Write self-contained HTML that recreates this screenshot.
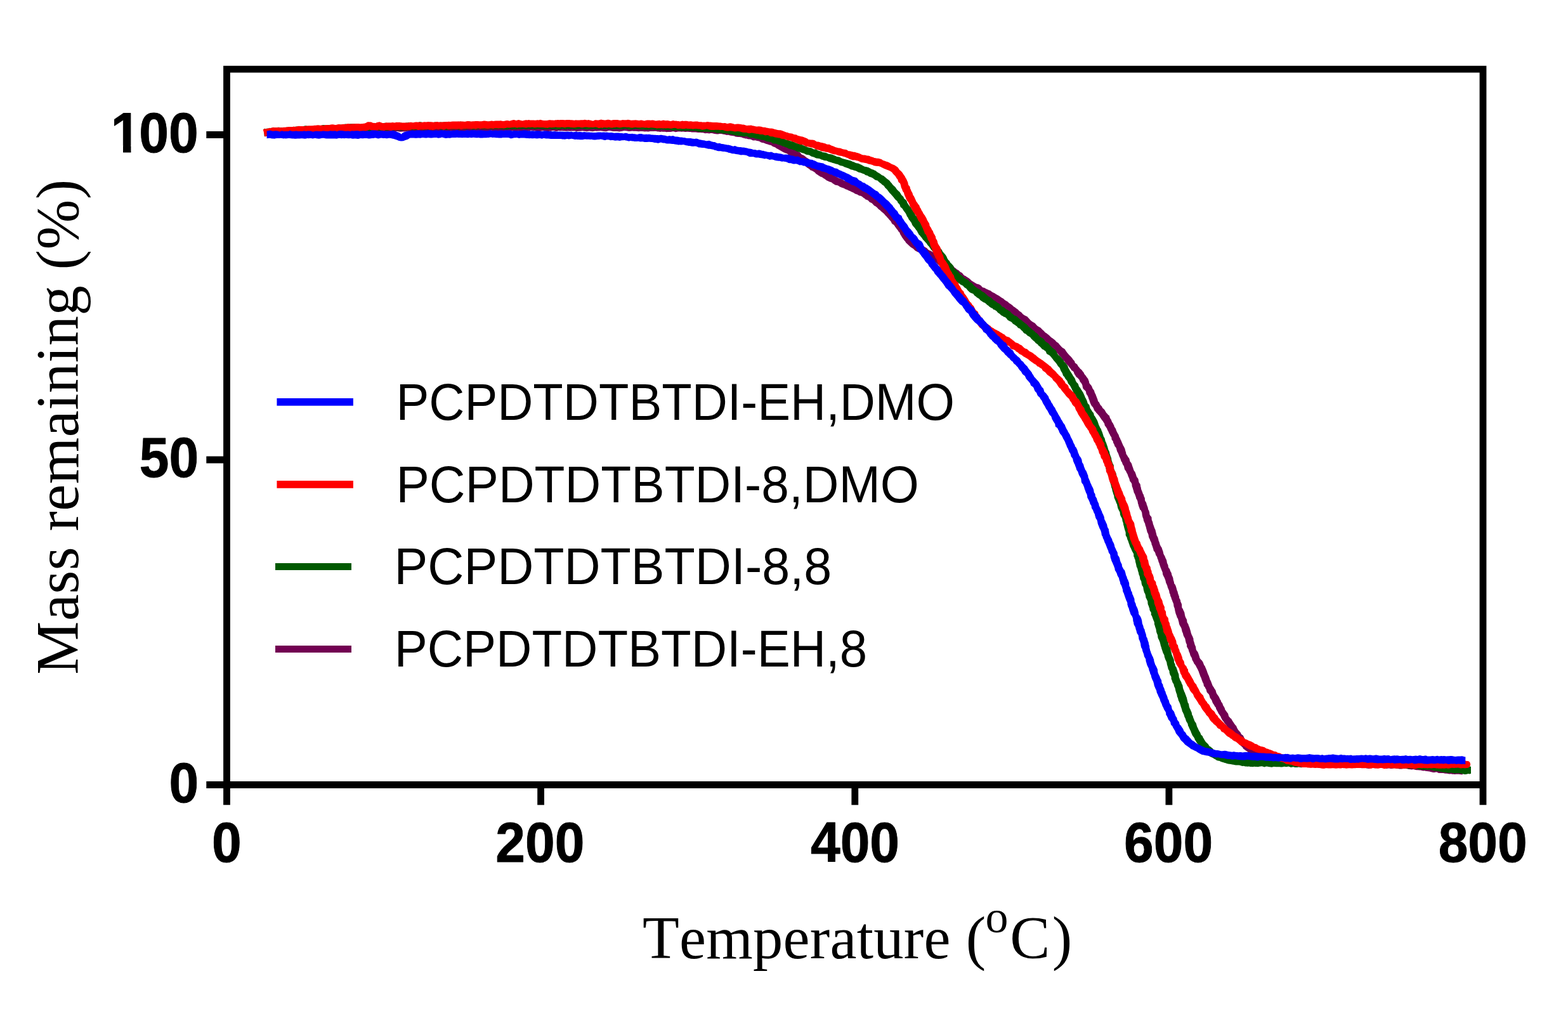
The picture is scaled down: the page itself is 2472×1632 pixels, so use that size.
<!DOCTYPE html>
<html lang="en"><head><meta charset="utf-8"><title>Mass remaining (%) vs Temperature</title>
<style>html,body{margin:0;padding:0;background:#fff}svg{display:block}.tk{font-family:"Liberation Sans",sans-serif;font-weight:bold;font-size:84px;fill:#000;stroke:#000;stroke-width:0.9px;stroke-linejoin:round}.lg{font-family:"Liberation Sans",sans-serif;font-size:80.8px;fill:#000}.ti{font-family:"Liberation Serif",serif;font-size:94.6px;fill:#000}</style></head><body>
<svg width="2472" height="1632" viewBox="0 0 2472 1632">
<rect width="2472" height="1632" fill="#fff"/>
<g stroke="none">
<path d="M416.8,215.1 L418.8,215.1 L420.8,214.7 L422.8,214.2 L424.8,214.5 L426.8,214.7 L428.8,214.4 L430.8,214.4 L432.8,214.2 L434.8,214.2 L436.8,214.6 L438.8,214.5 L440.8,214.3 L442.8,213.9 L444.8,214.0 L446.8,213.9 L448.8,214.0 L450.8,213.8 L452.8,213.4 L454.8,213.1 L456.8,213.1 L458.7,212.6 L460.7,212.6 L462.7,212.5 L464.7,212.7 L466.7,212.4 L468.7,212.0 L470.7,212.6 L472.8,213.1 L474.8,213.1 L476.7,212.5 L478.7,212.3 L480.7,212.3 L482.7,212.5 L484.7,212.1 L486.7,211.7 L488.7,212.1 L490.7,212.0 L492.7,211.3 L494.7,211.3 L496.7,211.6 L498.7,211.6 L500.7,211.7 L502.7,211.4 L504.7,211.2 L506.7,210.8 L508.7,210.4 L510.7,211.1 L512.7,211.5 L514.7,211.5 L516.7,211.1 L518.7,210.9 L520.7,211.2 L522.7,211.1 L524.7,210.7 L526.7,210.3 L528.7,210.1 L530.7,210.1 L532.7,209.6 L534.7,209.7 L536.7,209.7 L538.7,209.5 L540.7,208.9 L542.7,209.2 L544.7,209.5 L546.7,209.3 L548.7,209.3 L550.7,209.5 L552.7,209.6 L554.7,209.4 L556.7,209.1 L558.7,209.0 L560.7,208.8 L562.7,208.5 L564.7,208.5 L566.7,208.7 L568.7,208.5 L570.7,209.2 L572.7,208.8 L574.6,208.3 L576.6,208.4 L578.7,208.8 L580.6,208.1 L582.6,208.1 L584.6,208.0 L586.6,207.9 L588.6,208.0 L590.6,208.0 L592.6,207.8 L594.6,208.3 L596.6,208.6 L598.6,207.7 L600.6,207.5 L602.6,207.4 L604.6,207.2 L606.6,207.7 L608.6,207.9 L610.6,207.5 L612.6,207.1 L614.6,207.5 L616.6,207.7 L618.6,208.0 L620.6,207.9 L622.6,207.6 L624.6,207.3 L626.6,206.9 L628.6,207.6 L630.6,207.8 L632.6,207.8 L634.6,207.6 L636.6,207.5 L638.6,207.4 L640.6,207.2 L642.6,206.7 L644.6,206.9 L646.6,207.0 L648.6,207.3 L650.6,207.7 L652.6,207.3 L654.6,207.2 L656.6,206.8 L658.6,206.6 L660.6,207.2 L662.6,207.3 L664.6,207.2 L666.6,207.1 L668.6,207.0 L670.6,207.0 L672.6,206.7 L674.6,206.4 L676.6,206.5 L678.6,206.4 L680.6,206.7 L682.6,206.8 L684.6,206.9 L686.6,206.8 L688.6,207.4 L690.6,207.5 L692.6,207.5 L694.6,207.2 L696.6,206.3 L698.6,205.8 L700.6,206.6 L702.6,207.1 L704.6,207.1 L706.6,206.7 L708.6,206.7 L710.6,206.5 L712.6,205.9 L714.6,206.2 L716.6,206.7 L718.6,207.2 L720.6,206.9 L722.6,207.0 L724.6,206.7 L726.6,206.7 L728.6,207.3 L730.6,207.0 L732.6,207.2 L734.6,207.1 L736.6,206.5 L738.6,206.4 L740.6,206.9 L742.6,206.7 L744.6,206.2 L746.6,206.0 L748.6,206.2 L750.6,206.6 L752.6,206.5 L754.6,206.8 L756.6,207.1 L758.6,207.3 L760.6,207.3 L762.6,206.9 L764.6,206.3 L766.6,206.7 L768.6,206.6 L770.6,206.2 L772.6,205.9 L774.6,205.8 L776.6,205.9 L778.6,206.2 L780.6,205.9 L782.6,206.0 L784.6,206.1 L786.6,206.3 L788.6,206.3 L790.6,206.4 L792.6,206.7 L794.6,206.3 L796.6,206.2 L798.6,206.0 L800.6,206.5 L802.6,206.4 L804.6,206.2 L806.6,206.0 L808.6,205.9 L810.6,206.2 L812.7,206.2 L814.7,206.7 L816.7,206.6 L818.7,206.0 L820.7,206.4 L822.7,206.5 L824.7,206.5 L826.7,206.2 L828.7,206.1 L830.7,206.6 L832.7,206.5 L834.7,205.9 L836.7,205.7 L838.7,205.8 L840.7,206.0 L842.7,206.1 L844.7,206.5 L846.7,206.9 L848.7,206.9 L850.7,207.0 L852.7,206.8 L854.7,206.3 L856.7,205.9 L858.7,206.5 L860.7,206.8 L862.7,207.0 L864.7,207.0 L866.7,206.8 L868.7,206.7 L870.7,206.0 L872.7,206.0 L874.7,206.4 L876.7,207.1 L878.7,206.7 L880.7,205.9 L882.7,206.6 L884.7,206.3 L886.7,206.3 L888.7,206.4 L890.7,206.6 L892.7,206.7 L894.7,206.5 L896.7,206.4 L898.7,206.7 L900.7,206.5 L902.7,206.5 L904.7,206.6 L906.7,206.6 L908.7,207.2 L910.7,207.0 L912.7,206.7 L914.7,206.7 L916.7,206.4 L918.7,206.3 L920.7,206.7 L922.7,206.8 L924.7,207.2 L926.7,207.0 L928.7,206.5 L930.7,206.7 L932.7,207.1 L934.7,207.2 L936.7,206.7 L938.7,206.4 L940.7,206.8 L942.7,206.5 L944.7,206.5 L946.7,206.2 L948.7,206.5 L950.7,206.7 L952.7,207.1 L954.7,207.2 L956.7,207.0 L958.7,206.2 L960.7,205.9 L962.7,206.2 L964.7,206.8 L966.7,207.0 L968.7,206.9 L970.7,206.9 L972.7,207.0 L974.7,207.2 L976.7,207.4 L978.8,207.0 L980.8,206.7 L982.8,206.2 L984.8,206.0 L986.8,206.3 L988.8,206.6 L990.8,207.0 L992.8,207.1 L994.8,206.8 L996.8,206.6 L998.8,206.7 L1000.8,206.8 L1002.8,206.8 L1004.8,206.9 L1006.8,207.2 L1008.8,207.1 L1010.8,207.0 L1012.8,207.0 L1014.8,207.2 L1016.8,207.5 L1018.8,207.2 L1020.8,207.5 L1022.8,207.6 L1024.8,207.0 L1026.8,206.9 L1028.8,206.9 L1030.8,207.0 L1032.8,206.7 L1034.8,207.0 L1036.8,207.6 L1038.8,207.6 L1040.8,207.9 L1042.8,207.6 L1044.8,207.7 L1046.8,207.7 L1048.8,207.7 L1050.8,208.2 L1052.8,208.1 L1054.8,208.0 L1056.8,207.9 L1058.8,207.8 L1060.8,207.2 L1062.8,207.5 L1064.7,208.2 L1066.7,208.1 L1068.7,207.4 L1070.7,207.5 L1072.7,207.6 L1074.7,207.7 L1076.7,207.5 L1078.7,207.8 L1080.7,208.0 L1082.7,207.7 L1084.6,207.8 L1086.6,207.9 L1088.6,208.1 L1090.6,208.6 L1092.6,208.6 L1094.6,208.5 L1096.6,208.6 L1098.5,208.7 L1100.5,209.1 L1102.5,209.1 L1104.5,209.0 L1106.5,209.2 L1108.5,209.2 L1110.4,209.9 L1112.4,210.3 L1114.4,210.0 L1116.4,210.3 L1118.4,210.4 L1120.4,210.1 L1122.4,209.9 L1124.4,210.6 L1126.3,211.0 L1128.3,211.3 L1130.3,211.5 L1132.3,211.4 L1134.3,211.0 L1136.3,211.1 L1138.2,211.3 L1140.1,211.8 L1142.1,211.9 L1144.0,212.4 L1145.9,212.9 L1147.9,212.8 L1149.8,213.2 L1151.7,213.7 L1153.7,213.9 L1155.6,214.2 L1157.6,214.6 L1159.4,215.4 L1161.3,215.7 L1163.3,215.9 L1165.3,215.9 L1167.3,216.3 L1169.2,216.6 L1171.1,217.4 L1173.0,217.7 L1174.9,218.5 L1176.9,218.5 L1178.8,219.2 L1180.8,219.5 L1182.8,219.4 L1184.7,220.3 L1186.5,221.3 L1188.5,221.4 L1190.6,221.2 L1192.5,221.8 L1194.4,222.3 L1196.4,222.5 L1198.2,223.5 L1199.9,224.6 L1201.9,224.9 L1203.8,225.2 L1205.6,225.9 L1207.3,226.8 L1209.2,227.3 L1211.0,227.7 L1212.7,228.5 L1214.6,228.8 L1216.3,229.6 L1217.9,230.7 L1219.5,231.6 L1221.4,232.1 L1223.0,233.1 L1224.6,234.3 L1226.3,235.1 L1228.0,236.1 L1229.7,237.1 L1231.5,238.0 L1233.2,239.0 L1234.9,239.9 L1236.8,240.7 L1238.5,241.6 L1240.5,242.0 L1242.1,243.3 L1243.5,244.8 L1245.3,245.5 L1247.1,246.4 L1248.6,247.6 L1250.1,248.8 L1252.0,249.6 L1253.5,250.8 L1255.1,251.9 L1256.8,252.9 L1258.4,254.1 L1259.8,255.6 L1261.5,256.5 L1263.3,257.5 L1264.7,258.9 L1266.7,259.6 L1268.4,260.6 L1269.8,262.2 L1271.4,263.4 L1273.0,264.7 L1274.7,265.8 L1276.4,266.9 L1277.8,268.5 L1279.9,269.0 L1281.6,270.0 L1283.4,271.1 L1285.0,272.3 L1286.4,273.9 L1288.1,275.0 L1289.7,276.2 L1291.5,277.2 L1293.1,278.4 L1295.1,279.1 L1296.9,280.0 L1298.5,281.2 L1300.3,282.3 L1301.9,283.6 L1303.6,284.7 L1305.5,285.5 L1307.4,286.4 L1309.4,287.0 L1311.3,287.8 L1312.8,289.3 L1314.6,290.3 L1316.4,291.4 L1318.4,291.9 L1320.5,292.3 L1322.3,293.2 L1324.0,294.5 L1325.9,295.3 L1327.8,296.1 L1329.8,296.5 L1331.6,297.5 L1333.4,298.4 L1335.3,299.1 L1337.0,300.1 L1338.8,300.8 L1340.7,301.5 L1342.4,302.4 L1344.2,303.3 L1346.0,304.0 L1347.5,305.3 L1349.3,306.0 L1351.2,306.5 L1352.9,307.4 L1354.6,308.4 L1356.6,308.7 L1358.4,309.5 L1360.0,310.7 L1361.4,312.1 L1363.2,312.9 L1364.6,314.4 L1366.4,315.1 L1368.2,315.8 L1369.7,317.2 L1371.0,318.7 L1372.8,319.4 L1374.5,320.3 L1375.9,321.7 L1377.2,323.2 L1378.6,324.4 L1380.3,325.3 L1381.9,326.5 L1383.2,327.8 L1384.5,329.2 L1385.9,330.6 L1387.6,331.6 L1388.8,333.1 L1390.4,334.2 L1391.9,335.5 L1393.4,336.7 L1394.7,338.2 L1395.9,339.7 L1397.3,341.1 L1398.5,342.6 L1400.0,343.9 L1401.2,345.4 L1402.5,346.9 L1403.8,348.3 L1405.0,349.9 L1405.7,351.8 L1406.9,353.3 L1408.8,354.3 L1410.1,355.7 L1411.1,357.4 L1412.3,358.9 L1413.3,360.6 L1414.6,362.0 L1415.7,363.6 L1416.7,365.2 L1418.2,366.6 L1418.9,368.5 L1419.7,370.3 L1420.9,371.9 L1421.8,373.8 L1423.0,375.6 L1424.3,377.2 L1425.5,379.0 L1427.0,380.5 L1428.1,382.5 L1429.6,384.0 L1431.3,385.5 L1432.8,387.1 L1434.5,388.5 L1436.1,389.9 L1438.0,391.0 L1439.8,392.2 L1441.3,393.7 L1442.8,395.3 L1444.7,396.2 L1446.5,397.3 L1448.6,398.0 L1450.2,399.2 L1451.9,400.4 L1453.7,401.3 L1455.7,402.1 L1457.6,402.8 L1459.3,403.8 L1460.7,405.4 L1462.4,406.3 L1464.2,407.2 L1465.7,408.3 L1467.6,409.1 L1469.3,409.9 L1471.0,410.8 L1472.2,412.5 L1473.7,413.8 L1475.7,414.3 L1477.2,415.4 L1478.6,416.9 L1480.1,418.0 L1482.2,418.5 L1483.6,420.0 L1484.9,421.5 L1486.6,422.5 L1488.0,423.9 L1489.4,425.3 L1491.1,426.4 L1492.9,427.4 L1494.4,428.7 L1496.0,429.9 L1497.4,431.4 L1499.0,432.6 L1500.6,433.8 L1502.3,434.9 L1503.6,436.6 L1504.9,438.1 L1506.6,439.3 L1508.5,440.1 L1510.1,441.4 L1511.5,442.9 L1513.2,444.0 L1515.1,444.9 L1516.7,446.2 L1518.4,447.3 L1520.2,448.3 L1521.6,449.9 L1522.9,451.6 L1524.8,452.6 L1526.7,453.4 L1528.7,454.1 L1530.3,455.3 L1531.9,456.8 L1533.5,458.1 L1535.5,458.8 L1537.2,460.1 L1539.1,460.8 L1541.2,461.2 L1543.1,462.0 L1544.8,463.2 L1546.6,464.1 L1548.2,465.4 L1549.8,466.6 L1551.6,467.6 L1553.4,468.3 L1555.3,469.1 L1556.7,470.6 L1558.5,471.3 L1560.4,471.9 L1562.2,472.6 L1564.1,473.2 L1565.5,474.5 L1566.9,475.9 L1568.4,477.1 L1570.1,478.1 L1571.8,479.0 L1573.4,480.0 L1575.2,480.8 L1576.7,482.0 L1578.4,483.0 L1580.1,484.0 L1581.5,485.3 L1583.0,486.7 L1584.6,487.9 L1586.3,488.9 L1588.0,489.9 L1589.3,491.5 L1590.7,493.0 L1592.7,493.6 L1594.2,494.9 L1595.7,496.3 L1597.4,497.4 L1598.9,498.7 L1600.4,500.0 L1602.0,501.2 L1603.3,502.8 L1604.7,504.2 L1606.6,505.0 L1608.0,506.5 L1609.3,508.0 L1611.2,508.8 L1612.8,510.1 L1614.2,511.4 L1615.6,512.9 L1616.9,514.5 L1618.6,515.5 L1620.3,516.5 L1621.8,517.9 L1623.4,519.1 L1625.0,520.3 L1626.5,521.7 L1627.8,523.1 L1629.3,524.5 L1630.8,525.8 L1632.3,527.1 L1633.7,528.6 L1635.4,529.7 L1637.1,530.8 L1638.7,532.0 L1640.1,533.5 L1641.8,534.6 L1643.4,535.8 L1645.0,537.0 L1646.3,538.5 L1647.8,539.9 L1649.4,541.0 L1651.2,542.0 L1652.7,543.3 L1654.0,544.8 L1655.3,546.2 L1656.6,547.7 L1657.7,549.5 L1659.4,550.5 L1660.9,551.7 L1662.3,553.0 L1663.7,554.4 L1665.1,555.7 L1666.8,556.8 L1668.1,558.2 L1669.3,559.7 L1670.4,561.3 L1672.1,562.4 L1673.1,564.1 L1674.2,565.7 L1675.6,567.2 L1677.0,568.5 L1678.2,570.0 L1679.3,571.7 L1680.6,573.2 L1681.9,574.8 L1683.4,576.1 L1684.7,577.6 L1685.8,579.2 L1687.2,580.7 L1688.4,582.3 L1689.3,584.1 L1691.2,585.1 L1692.7,586.4 L1693.3,588.4 L1694.1,590.2 L1695.2,591.8 L1696.2,593.4 L1697.5,594.9 L1699.1,596.1 L1700.3,597.6 L1701.7,599.0 L1702.3,600.9 L1703.2,602.6 L1704.6,604.0 L1705.6,605.7 L1706.4,607.5 L1706.7,609.6 L1707.1,611.5 L1707.9,613.3 L1709.4,614.7 L1711.0,616.1 L1712.0,617.8 L1712.3,619.8 L1712.9,621.7 L1714.2,623.2 L1715.0,625.0 L1715.8,626.8 L1716.3,628.7 L1717.1,630.6 L1717.8,632.5 L1718.4,634.4 L1719.2,636.4 L1720.0,638.3 L1721.2,640.2 L1722.7,641.8 L1723.9,643.7 L1724.6,645.8 L1725.6,647.8 L1727.2,649.3 L1728.4,651.1 L1729.9,652.5 L1731.2,654.1 L1732.6,655.4 L1733.6,657.0 L1734.6,658.6 L1735.6,660.1 L1736.6,661.6 L1737.8,663.0 L1739.0,664.4 L1739.8,666.0 L1741.0,667.5 L1741.4,669.4 L1741.9,671.3 L1743.2,672.8 L1744.3,674.4 L1745.3,676.1 L1745.9,678.0 L1747.0,679.7 L1747.8,681.5 L1748.6,683.4 L1749.6,685.1 L1750.4,686.9 L1751.5,688.6 L1752.5,690.4 L1752.4,692.6 L1753.5,694.3 L1754.8,695.9 L1755.0,697.9 L1756.0,699.7 L1756.8,701.5 L1757.4,703.4 L1758.7,705.0 L1759.9,706.7 L1760.3,708.7 L1760.8,710.6 L1761.5,712.5 L1762.6,714.2 L1763.3,716.1 L1764.0,718.0 L1764.7,719.9 L1765.6,721.7 L1766.4,723.6 L1767.0,725.6 L1767.7,727.5 L1768.9,729.1 L1769.5,731.1 L1770.4,732.9 L1771.6,734.6 L1772.2,736.5 L1772.6,738.5 L1773.2,740.5 L1774.4,742.1 L1775.5,743.7 L1776.2,745.6 L1777.3,747.3 L1778.0,749.1 L1778.6,751.0 L1779.4,752.8 L1780.2,754.5 L1780.8,756.4 L1781.1,758.3 L1782.4,760.0 L1783.6,761.6 L1784.4,763.4 L1784.5,765.5 L1784.9,767.4 L1785.7,769.2 L1786.1,771.1 L1786.8,773.0 L1787.3,775.0 L1787.8,776.9 L1788.8,778.6 L1789.6,780.5 L1790.3,782.4 L1790.9,784.3 L1791.3,786.3 L1792.5,788.0 L1793.3,789.9 L1793.7,791.8 L1794.0,793.9 L1794.7,795.8 L1795.1,797.7 L1795.8,799.6 L1796.5,801.5 L1797.2,803.4 L1798.9,804.9 L1799.6,806.8 L1800.3,808.6 L1800.5,810.7 L1800.8,812.7 L1801.2,814.6 L1801.8,816.5 L1802.6,818.3 L1802.8,820.3 L1803.5,822.2 L1804.3,824.0 L1805.2,825.8 L1805.5,827.7 L1806.1,829.6 L1806.8,831.5 L1807.2,833.4 L1807.7,835.3 L1808.2,837.3 L1808.7,839.2 L1809.7,841.0 L1810.5,842.9 L1810.8,845.0 L1811.1,847.0 L1812.0,848.9 L1812.9,850.8 L1813.5,852.8 L1814.5,854.6 L1815.3,856.5 L1815.6,858.7 L1816.5,860.5 L1817.1,862.5 L1817.8,864.5 L1818.4,866.4 L1818.8,868.4 L1820.2,869.9 L1821.2,871.7 L1821.7,873.6 L1822.3,875.4 L1823.4,877.0 L1824.3,878.8 L1824.7,880.7 L1825.6,882.4 L1826.1,884.3 L1826.6,886.2 L1827.5,888.0 L1828.0,889.9 L1828.6,891.8 L1829.3,893.7 L1829.9,895.6 L1830.8,897.4 L1831.4,899.3 L1832.3,901.2 L1832.9,903.1 L1833.0,905.2 L1833.7,907.1 L1834.6,908.9 L1835.6,910.7 L1836.3,912.6 L1837.1,914.5 L1837.7,916.4 L1838.0,918.4 L1838.8,920.2 L1839.6,922.1 L1840.4,923.9 L1840.8,925.9 L1841.5,927.7 L1842.3,929.6 L1843.1,931.4 L1843.4,933.3 L1843.7,935.3 L1844.7,937.1 L1845.0,939.0 L1845.7,940.9 L1846.6,942.7 L1846.9,944.6 L1847.9,946.4 L1848.4,948.3 L1849.2,950.1 L1850.0,951.9 L1850.3,953.9 L1850.5,956.0 L1851.2,957.8 L1851.9,959.7 L1852.2,961.7 L1852.6,963.7 L1853.1,965.7 L1853.6,967.7 L1854.3,969.6 L1855.1,971.4 L1855.6,973.4 L1856.8,975.2 L1857.4,977.1 L1857.9,979.0 L1858.5,981.0 L1858.8,983.0 L1859.4,985.0 L1860.3,986.8 L1861.3,988.5 L1862.3,990.3 L1862.9,992.3 L1863.3,994.2 L1863.8,996.2 L1864.7,998.0 L1865.2,999.9 L1865.7,1001.9 L1866.5,1003.7 L1867.5,1005.4 L1868.4,1007.3 L1868.7,1009.3 L1869.2,1011.2 L1869.6,1013.2 L1870.4,1015.0 L1871.2,1016.9 L1870.9,1019.1 L1871.8,1020.9 L1872.8,1022.8 L1873.8,1024.6 L1874.1,1026.6 L1875.0,1028.5 L1875.8,1030.5 L1876.3,1032.5 L1877.0,1034.5 L1878.2,1036.3 L1879.1,1038.2 L1879.5,1040.4 L1880.5,1042.2 L1881.6,1044.0 L1882.3,1045.9 L1883.5,1047.5 L1884.7,1049.1 L1885.7,1050.8 L1886.5,1052.4 L1887.4,1054.1 L1888.3,1055.7 L1889.1,1057.4 L1889.8,1059.1 L1890.4,1060.9 L1891.1,1062.7 L1891.7,1064.6 L1892.4,1066.4 L1893.3,1068.2 L1894.0,1070.1 L1894.6,1072.1 L1895.4,1074.0 L1896.1,1075.9 L1897.2,1077.7 L1897.6,1079.8 L1898.0,1081.9 L1899.7,1083.4 L1900.3,1085.3 L1901.5,1087.0 L1902.0,1089.1 L1902.5,1091.1 L1903.7,1092.8 L1905.4,1094.2 L1906.4,1095.9 L1907.0,1097.9 L1907.5,1100.0 L1908.6,1101.7 L1909.8,1103.3 L1910.7,1105.1 L1911.3,1107.0 L1912.2,1108.9 L1913.3,1110.6 L1914.4,1112.3 L1915.2,1114.1 L1916.7,1115.6 L1917.2,1117.7 L1918.1,1119.5 L1919.1,1121.2 L1920.1,1123.0 L1920.9,1124.9 L1922.1,1126.6 L1923.3,1128.2 L1924.5,1129.9 L1925.2,1131.9 L1926.2,1133.7 L1927.0,1135.5 L1928.4,1137.1 L1929.6,1138.7 L1930.6,1140.5 L1931.9,1142.1 L1933.4,1143.5 L1933.9,1145.6 L1934.8,1147.5 L1936.5,1148.7 L1938.0,1150.2 L1938.9,1152.0 L1940.3,1153.5 L1942.0,1154.8 L1942.7,1156.7 L1943.1,1158.9 L1944.1,1160.8 L1945.3,1162.4 L1946.6,1164.0 L1947.9,1165.6 L1949.1,1167.3 L1950.4,1169.0 L1951.7,1170.6 L1952.8,1172.5 L1954.3,1174.0 L1955.7,1175.6 L1957.3,1177.0 L1959.0,1178.4 L1960.0,1180.4 L1961.7,1181.7 L1963.4,1183.0 L1965.2,1184.2 L1966.9,1185.5 L1968.6,1186.8 L1970.2,1188.2 L1971.8,1189.7 L1973.9,1190.6 L1976.1,1191.0 L1978.1,1191.7 L1979.8,1193.2 L1981.6,1194.3 L1983.6,1195.1 L1985.5,1196.0 L1987.3,1197.3 L1989.1,1198.4 L1991.0,1199.3 L1993.1,1199.7 L1995.3,1199.9 L1997.3,1200.4 L1999.4,1200.7 L2001.2,1201.8 L2003.2,1202.5 L2005.3,1202.8 L2007.3,1203.3 L2009.4,1203.7 L2011.4,1204.2 L2013.3,1205.3 L2015.3,1206.0 L2017.4,1205.9 L2019.4,1206.3 L2021.5,1206.1 L2023.6,1206.5 L2025.5,1207.3 L2027.6,1207.3 L2029.6,1207.5 L2031.6,1207.8 L2033.6,1208.1 L2035.6,1208.3 L2037.7,1208.6 L2039.8,1208.1 L2041.8,1208.6 L2043.8,1209.0 L2045.9,1208.7 L2047.9,1209.1 L2049.9,1209.8 L2051.9,1209.7 L2054.0,1209.6 L2056.0,1209.2 L2058.1,1209.6 L2060.1,1209.7 L2062.1,1209.7 L2064.1,1210.1 L2066.1,1210.2 L2068.2,1209.7 L2070.2,1209.5 L2072.2,1209.7 L2074.2,1209.9 L2076.2,1210.1 L2078.2,1210.8 L2080.2,1210.7 L2082.2,1210.5 L2084.2,1210.7 L2086.2,1211.4 L2088.2,1211.2 L2090.2,1210.5 L2092.2,1210.6 L2094.2,1210.8 L2096.2,1210.3 L2098.2,1210.5 L2100.2,1211.0 L2102.2,1210.6 L2104.2,1210.2 L2106.3,1210.1 L2108.3,1210.3 L2110.3,1210.7 L2112.3,1210.3 L2114.3,1210.2 L2116.3,1210.8 L2118.3,1211.3 L2120.3,1210.9 L2122.3,1210.6 L2124.3,1210.9 L2126.3,1211.1 L2128.3,1210.9 L2130.3,1210.4 L2132.3,1210.7 L2134.3,1211.1 L2136.3,1211.2 L2138.3,1210.9 L2140.3,1211.1 L2142.3,1210.7 L2144.3,1210.6 L2146.3,1211.3 L2148.3,1211.2 L2150.3,1211.0 L2152.3,1210.8 L2154.3,1211.4 L2156.3,1211.8 L2158.3,1211.9 L2160.3,1211.6 L2162.3,1211.1 L2164.3,1211.0 L2166.3,1211.3 L2168.3,1211.2 L2170.3,1211.3 L2172.3,1211.3 L2174.3,1211.0 L2176.3,1210.8 L2178.3,1211.0 L2180.3,1211.1 L2182.3,1211.4 L2184.3,1211.8 L2186.3,1211.9 L2188.3,1211.4 L2190.3,1211.5 L2192.3,1212.1 L2194.3,1211.9 L2196.3,1211.5 L2198.3,1210.8 L2200.3,1211.3 L2202.2,1211.9 L2204.2,1212.1 L2206.2,1212.6 L2208.2,1212.5 L2210.1,1212.4 L2212.2,1212.0 L2214.1,1212.0 L2216.1,1212.1 L2218.1,1212.3 L2220.1,1212.7 L2222.0,1213.0 L2224.0,1213.3 L2225.9,1213.5 L2227.9,1213.1 L2229.9,1213.5 L2231.8,1213.9 L2233.8,1214.2 L2235.7,1214.2 L2237.7,1214.4 L2239.7,1214.6 L2241.6,1215.0 L2243.6,1215.4 L2245.6,1215.3 L2247.5,1215.7 L2249.5,1216.1 L2251.5,1216.3 L2253.5,1216.4 L2255.4,1217.0 L2257.4,1217.4 L2259.3,1218.1 L2261.4,1218.0 L2263.5,1217.4 L2265.5,1217.5 L2267.3,1218.7 L2269.3,1219.0 L2271.3,1219.0 L2273.4,1218.9 L2275.4,1219.1 L2277.3,1219.6 L2279.4,1219.8 L2281.4,1219.8 L2283.4,1220.2 L2285.5,1220.4 L2287.5,1220.2 L2289.5,1220.7 L2291.6,1220.8 L2293.6,1221.0 L2295.7,1220.8 L2297.7,1220.8 L2299.8,1220.7 L2301.8,1221.1 L2303.8,1221.3 L2305.8,1221.4 L2306.2,1210.0 L2304.2,1210.1 L2302.2,1209.7 L2300.2,1209.4 L2298.3,1208.7 L2296.3,1208.6 L2294.4,1208.6 L2292.4,1208.9 L2290.5,1208.8 L2288.6,1208.5 L2286.6,1208.5 L2284.7,1208.1 L2282.8,1207.7 L2280.8,1207.3 L2278.9,1207.1 L2276.9,1207.0 L2274.9,1207.0 L2272.9,1206.8 L2270.9,1206.9 L2268.9,1206.3 L2267.0,1205.6 L2265.0,1205.5 L2263.0,1205.1 L2261.0,1205.1 L2259.0,1205.3 L2257.0,1205.0 L2255.0,1204.9 L2253.0,1204.3 L2251.1,1204.0 L2249.0,1204.1 L2247.0,1204.0 L2245.0,1204.1 L2243.0,1203.2 L2241.0,1203.4 L2239.0,1203.2 L2237.0,1202.5 L2235.0,1202.1 L2232.9,1202.2 L2230.9,1201.8 L2228.9,1201.4 L2226.9,1201.6 L2224.8,1201.6 L2222.8,1200.9 L2220.9,1200.2 L2218.8,1200.3 L2216.8,1200.5 L2214.7,1201.0 L2212.7,1201.2 L2210.7,1201.4 L2208.7,1200.9 L2206.7,1200.6 L2204.6,1200.6 L2202.6,1200.6 L2200.6,1200.3 L2198.6,1200.1 L2196.6,1200.3 L2194.6,1200.3 L2192.6,1200.1 L2190.5,1200.1 L2188.5,1199.7 L2186.5,1199.7 L2184.5,1199.9 L2182.5,1200.0 L2180.5,1200.2 L2178.5,1199.7 L2176.5,1199.5 L2174.5,1199.8 L2172.5,1199.7 L2170.5,1199.3 L2168.5,1199.5 L2166.5,1199.8 L2164.5,1200.1 L2162.5,1200.3 L2160.5,1199.7 L2158.4,1199.6 L2156.4,1199.4 L2154.4,1199.4 L2152.4,1198.8 L2150.4,1199.0 L2148.4,1199.6 L2146.4,1199.9 L2144.4,1199.3 L2142.4,1199.1 L2140.4,1199.0 L2138.4,1198.9 L2136.4,1199.2 L2134.4,1199.8 L2132.4,1199.4 L2130.4,1199.2 L2128.4,1199.4 L2126.4,1199.4 L2124.4,1199.5 L2122.4,1199.4 L2120.4,1199.2 L2118.4,1199.0 L2116.4,1199.2 L2114.4,1198.7 L2112.4,1198.7 L2110.4,1198.7 L2108.4,1198.6 L2106.4,1198.7 L2104.4,1199.3 L2102.4,1199.5 L2100.4,1199.2 L2098.4,1198.7 L2096.4,1198.7 L2094.4,1198.7 L2092.4,1198.4 L2090.4,1198.2 L2088.4,1198.7 L2086.4,1199.0 L2084.4,1199.2 L2082.4,1198.8 L2080.4,1198.2 L2078.4,1198.3 L2076.4,1198.5 L2074.4,1198.6 L2072.5,1198.1 L2070.5,1197.9 L2068.5,1197.6 L2066.5,1197.9 L2064.5,1198.5 L2062.5,1198.6 L2060.5,1198.5 L2058.6,1198.2 L2056.6,1198.5 L2054.6,1198.2 L2052.7,1198.0 L2050.7,1198.1 L2048.8,1197.5 L2046.8,1197.0 L2044.9,1196.7 L2042.9,1196.9 L2040.9,1196.9 L2039.0,1196.6 L2037.0,1196.2 L2035.0,1196.5 L2033.0,1196.3 L2031.1,1195.9 L2029.2,1195.6 L2027.2,1195.3 L2025.3,1194.9 L2023.3,1195.0 L2021.4,1194.3 L2019.7,1193.2 L2017.7,1192.9 L2015.8,1192.8 L2013.8,1193.1 L2011.8,1192.9 L2010.0,1192.1 L2008.2,1191.5 L2006.3,1191.0 L2004.5,1190.1 L2002.7,1189.4 L2001.0,1188.7 L1999.1,1188.2 L1997.4,1187.3 L1995.6,1187.0 L1993.8,1186.2 L1992.0,1185.9 L1990.2,1185.3 L1988.5,1184.4 L1986.8,1183.6 L1985.0,1183.0 L1983.3,1182.3 L1981.7,1181.2 L1980.1,1180.2 L1978.6,1179.2 L1977.1,1178.1 L1975.5,1177.2 L1974.0,1176.0 L1972.6,1174.9 L1971.2,1173.8 L1969.8,1172.6 L1968.7,1171.2 L1967.6,1169.8 L1966.5,1168.4 L1965.0,1167.3 L1963.5,1166.2 L1962.4,1164.7 L1961.3,1163.1 L1960.6,1161.2 L1959.6,1159.5 L1957.8,1158.5 L1956.6,1156.9 L1955.7,1155.1 L1954.4,1153.5 L1953.0,1152.1 L1951.8,1150.4 L1950.8,1148.7 L1949.9,1146.9 L1949.2,1144.9 L1947.8,1143.4 L1946.6,1141.9 L1945.4,1140.3 L1944.3,1138.6 L1943.2,1137.0 L1942.2,1135.3 L1941.2,1133.6 L1939.6,1132.3 L1938.3,1130.8 L1937.1,1129.2 L1936.6,1127.2 L1936.1,1125.2 L1934.9,1123.7 L1933.6,1122.1 L1932.6,1120.4 L1931.4,1118.9 L1930.9,1116.9 L1930.0,1115.1 L1929.0,1113.4 L1928.0,1111.7 L1927.5,1109.8 L1926.4,1108.1 L1925.2,1106.5 L1924.7,1104.5 L1923.6,1102.9 L1922.7,1101.1 L1921.9,1099.2 L1920.9,1097.5 L1919.8,1095.9 L1918.5,1094.3 L1917.6,1092.5 L1917.0,1090.6 L1916.5,1088.6 L1915.5,1086.9 L1914.3,1085.3 L1913.4,1083.6 L1912.2,1082.0 L1911.3,1080.2 L1910.7,1078.4 L1909.9,1076.6 L1909.3,1074.7 L1908.5,1073.0 L1907.5,1071.3 L1907.1,1069.4 L1906.3,1067.6 L1905.8,1065.7 L1904.9,1063.9 L1904.1,1062.1 L1903.4,1060.2 L1902.8,1058.2 L1902.0,1056.3 L1901.2,1054.3 L1900.4,1052.4 L1899.7,1050.4 L1898.3,1048.7 L1897.5,1046.8 L1896.8,1044.8 L1895.9,1042.9 L1894.6,1041.3 L1893.2,1039.9 L1891.9,1038.3 L1891.1,1036.6 L1890.8,1034.7 L1890.1,1032.9 L1889.5,1031.1 L1888.9,1029.4 L1888.2,1027.7 L1886.8,1026.2 L1885.8,1024.5 L1885.4,1022.6 L1885.2,1020.6 L1884.7,1018.7 L1883.8,1016.9 L1883.2,1015.0 L1882.7,1013.0 L1882.0,1011.1 L1881.5,1009.2 L1881.5,1007.1 L1880.7,1005.2 L1880.0,1003.3 L1879.0,1001.5 L1878.2,999.6 L1877.6,997.7 L1877.2,995.7 L1876.6,993.8 L1876.0,991.8 L1875.5,989.9 L1874.7,988.1 L1873.9,986.2 L1873.4,984.3 L1872.2,982.6 L1871.4,980.8 L1871.3,978.7 L1870.9,976.8 L1869.9,975.0 L1869.0,973.2 L1868.4,971.4 L1867.9,969.5 L1867.6,967.5 L1867.2,965.5 L1866.4,963.7 L1865.5,961.9 L1864.8,960.1 L1863.5,958.4 L1863.2,956.4 L1863.2,954.3 L1862.9,952.3 L1862.1,950.4 L1861.2,948.6 L1861.0,946.6 L1860.2,944.7 L1859.1,942.9 L1859.0,940.8 L1858.3,938.9 L1857.6,937.0 L1856.9,935.1 L1856.6,933.1 L1855.7,931.2 L1855.1,929.3 L1854.6,927.3 L1854.0,925.3 L1853.4,923.4 L1852.4,921.6 L1851.1,920.0 L1850.9,917.9 L1850.3,916.0 L1849.7,914.1 L1849.5,912.0 L1848.9,910.1 L1848.1,908.3 L1847.3,906.4 L1847.0,904.5 L1846.3,902.6 L1845.3,900.9 L1844.6,899.0 L1843.9,897.1 L1842.5,895.5 L1841.8,893.7 L1841.6,891.6 L1840.9,889.7 L1840.0,887.9 L1839.6,886.0 L1839.3,883.9 L1838.6,882.0 L1837.6,880.2 L1836.9,878.3 L1836.1,876.4 L1834.9,874.6 L1834.2,872.7 L1833.8,870.6 L1833.2,868.6 L1832.5,866.7 L1831.9,864.7 L1831.2,862.9 L1829.9,861.2 L1829.1,859.5 L1828.4,857.7 L1827.9,855.7 L1827.3,854.0 L1826.5,852.2 L1826.2,850.3 L1825.6,848.6 L1825.1,846.7 L1823.9,845.1 L1823.3,843.2 L1822.9,841.3 L1822.4,839.4 L1821.9,837.5 L1821.5,835.6 L1820.6,833.8 L1819.9,831.9 L1819.2,830.0 L1818.5,828.0 L1817.8,826.2 L1817.4,824.1 L1816.9,822.2 L1815.9,820.3 L1815.6,818.3 L1815.6,816.1 L1814.6,814.3 L1813.2,812.7 L1812.3,810.8 L1812.2,808.7 L1811.8,806.7 L1811.1,804.8 L1810.0,803.1 L1809.8,801.0 L1809.1,799.1 L1808.5,797.3 L1807.8,795.4 L1807.4,793.4 L1806.5,791.6 L1805.4,789.9 L1804.9,788.0 L1804.9,785.8 L1804.2,784.0 L1803.3,782.2 L1803.0,780.2 L1801.8,778.5 L1801.2,776.6 L1800.5,774.7 L1799.7,772.8 L1799.0,771.0 L1798.8,768.9 L1798.1,767.0 L1797.9,764.9 L1797.4,762.9 L1795.9,761.3 L1795.3,759.4 L1794.9,757.3 L1794.5,755.3 L1793.4,753.5 L1792.1,751.9 L1791.4,749.9 L1790.8,748.0 L1790.1,746.0 L1789.3,744.1 L1788.0,742.5 L1787.2,740.7 L1786.6,738.7 L1785.9,736.8 L1785.2,734.9 L1784.6,732.9 L1784.0,731.0 L1782.9,729.3 L1781.6,727.7 L1781.0,725.8 L1780.6,723.8 L1779.7,722.1 L1778.3,720.5 L1777.5,718.7 L1776.2,717.1 L1775.3,715.3 L1775.1,713.3 L1774.4,711.4 L1773.9,709.5 L1773.4,707.5 L1772.6,705.7 L1771.7,703.9 L1770.6,702.2 L1769.8,700.3 L1769.0,698.5 L1768.2,696.6 L1767.5,694.7 L1766.5,693.0 L1765.8,691.0 L1764.7,689.3 L1764.1,687.4 L1763.5,685.4 L1762.4,683.7 L1761.4,681.9 L1760.4,680.1 L1759.7,678.2 L1759.1,676.3 L1758.0,674.5 L1756.8,672.8 L1756.3,670.8 L1755.3,668.9 L1754.4,667.1 L1753.1,665.4 L1752.4,663.4 L1751.6,661.4 L1750.3,659.7 L1749.5,657.8 L1748.9,655.6 L1747.2,654.2 L1745.7,652.6 L1744.2,651.1 L1743.1,649.3 L1742.2,647.4 L1741.0,645.8 L1739.6,644.5 L1738.2,643.2 L1737.4,641.5 L1736.4,640.1 L1735.1,638.9 L1734.3,637.4 L1733.5,635.9 L1732.7,634.3 L1731.3,632.9 L1730.7,631.2 L1730.2,629.3 L1729.4,627.5 L1728.7,625.6 L1728.0,623.7 L1727.3,621.7 L1726.3,619.9 L1725.5,618.0 L1725.0,616.0 L1723.8,614.2 L1722.5,612.5 L1721.8,610.6 L1721.0,608.7 L1719.8,607.0 L1718.3,605.5 L1717.2,603.7 L1716.9,601.5 L1716.1,599.6 L1715.4,597.6 L1714.3,595.9 L1712.9,594.3 L1711.9,592.5 L1710.4,591.0 L1709.3,589.2 L1708.4,587.3 L1707.0,585.8 L1705.9,584.0 L1704.4,582.6 L1702.8,581.2 L1701.6,579.5 L1700.1,578.1 L1699.1,576.3 L1698.1,574.5 L1696.3,573.3 L1694.8,571.9 L1694.2,569.8 L1693.0,568.2 L1691.6,566.7 L1690.5,565.0 L1689.2,563.4 L1687.9,561.9 L1686.3,560.6 L1684.9,559.1 L1683.6,557.5 L1682.4,555.9 L1681.1,554.2 L1679.9,552.6 L1678.9,550.7 L1677.2,549.4 L1675.3,548.4 L1673.7,547.1 L1672.3,545.6 L1671.0,544.0 L1669.7,542.4 L1668.4,540.7 L1666.6,539.7 L1665.0,538.4 L1663.7,536.8 L1662.1,535.5 L1660.5,534.3 L1658.9,533.1 L1657.2,531.9 L1655.7,530.6 L1654.3,529.1 L1652.8,527.8 L1651.1,526.6 L1649.6,525.3 L1647.8,524.2 L1646.5,522.7 L1645.1,521.3 L1643.6,519.9 L1642.1,518.6 L1640.8,517.0 L1639.1,516.0 L1637.3,515.0 L1635.6,513.9 L1634.1,512.6 L1632.9,510.9 L1631.5,509.4 L1629.7,508.4 L1627.9,507.5 L1626.2,506.3 L1624.7,505.0 L1623.4,503.5 L1622.0,502.0 L1620.6,500.5 L1619.2,499.1 L1617.3,498.2 L1615.4,497.3 L1613.8,496.2 L1612.2,494.9 L1610.9,493.2 L1609.4,492.0 L1607.7,490.9 L1606.1,489.6 L1604.7,488.1 L1603.2,486.9 L1601.5,485.7 L1600.0,484.4 L1598.1,483.5 L1596.7,482.0 L1595.2,480.7 L1593.5,479.6 L1591.8,478.4 L1590.2,477.2 L1588.7,475.8 L1586.9,474.7 L1585.1,473.7 L1583.5,472.4 L1582.0,471.1 L1580.2,470.0 L1578.5,468.9 L1576.8,467.7 L1575.1,466.5 L1573.2,465.6 L1571.4,464.6 L1569.7,463.4 L1568.0,462.3 L1566.1,461.4 L1564.3,460.5 L1562.6,459.3 L1561.0,457.9 L1559.0,457.4 L1557.1,456.6 L1555.3,455.7 L1553.5,454.8 L1551.9,453.7 L1549.8,453.4 L1548.1,452.3 L1546.8,450.6 L1545.2,449.5 L1543.5,448.5 L1541.7,447.9 L1539.7,447.4 L1538.1,446.4 L1536.4,445.6 L1534.8,444.5 L1533.2,443.4 L1531.6,442.4 L1530.1,441.1 L1528.8,439.7 L1527.2,438.5 L1525.6,437.5 L1523.9,436.5 L1522.4,435.3 L1520.5,434.5 L1519.0,433.2 L1517.7,431.6 L1516.4,430.1 L1514.6,429.2 L1513.0,428.0 L1511.7,426.4 L1509.9,425.5 L1508.2,424.4 L1506.7,423.1 L1505.0,421.9 L1503.7,420.3 L1502.2,419.0 L1500.6,417.8 L1498.8,416.8 L1497.2,415.5 L1495.5,414.4 L1493.8,413.2 L1492.4,411.6 L1491.0,410.1 L1489.3,409.0 L1487.6,407.8 L1486.1,406.4 L1484.3,405.4 L1482.4,404.6 L1480.8,403.2 L1479.1,402.1 L1477.2,401.1 L1475.3,400.3 L1473.8,398.9 L1471.9,398.0 L1469.9,397.3 L1468.3,395.9 L1466.4,395.3 L1464.6,394.4 L1462.9,393.3 L1461.6,391.6 L1459.9,390.5 L1458.1,389.6 L1456.5,388.4 L1454.7,387.7 L1452.8,387.0 L1451.1,386.1 L1449.6,384.8 L1448.2,383.4 L1446.6,382.5 L1445.0,381.7 L1443.7,380.4 L1442.3,379.3 L1440.8,378.5 L1439.8,377.1 L1438.6,375.9 L1437.4,374.7 L1436.7,373.0 L1435.6,371.7 L1434.5,370.3 L1433.2,368.9 L1432.5,367.1 L1431.3,365.5 L1430.0,363.9 L1429.0,362.1 L1428.0,360.3 L1427.1,358.4 L1426.2,356.5 L1424.3,355.3 L1423.0,353.6 L1422.1,351.7 L1420.9,350.0 L1419.9,348.2 L1418.4,346.6 L1417.2,345.0 L1415.9,343.4 L1414.2,342.1 L1412.7,340.7 L1411.4,339.1 L1410.3,337.3 L1409.2,335.5 L1407.8,334.0 L1406.2,332.6 L1404.9,331.1 L1403.7,329.4 L1402.4,327.8 L1400.9,326.3 L1398.8,325.5 L1397.3,324.1 L1396.2,322.3 L1394.4,321.1 L1392.7,320.0 L1391.2,318.4 L1389.7,317.0 L1388.0,315.8 L1386.5,314.4 L1385.0,312.9 L1383.2,311.8 L1381.5,310.5 L1379.5,309.9 L1378.0,308.4 L1376.4,307.1 L1374.7,305.9 L1372.9,304.8 L1371.2,303.6 L1369.7,302.1 L1367.8,301.2 L1366.0,300.2 L1364.1,299.3 L1362.2,298.5 L1360.5,297.2 L1358.7,296.3 L1356.8,295.5 L1354.9,294.5 L1352.9,293.9 L1351.0,293.1 L1349.3,292.0 L1347.4,291.1 L1345.4,290.5 L1343.4,290.2 L1341.5,289.3 L1339.7,288.4 L1337.9,287.6 L1336.1,286.6 L1334.2,286.2 L1332.2,285.6 L1330.5,284.6 L1328.9,283.5 L1327.2,282.6 L1325.3,282.0 L1323.5,281.3 L1321.7,280.6 L1320.0,279.6 L1318.3,278.8 L1316.7,277.6 L1315.1,276.5 L1313.3,275.7 L1311.5,275.0 L1309.7,274.1 L1308.3,272.7 L1306.7,271.6 L1304.5,271.4 L1302.6,270.7 L1301.3,269.1 L1299.5,268.2 L1297.9,267.0 L1296.5,265.6 L1294.8,264.5 L1293.2,263.3 L1291.7,262.1 L1289.9,261.1 L1288.0,260.4 L1286.3,259.4 L1284.9,258.0 L1283.1,257.1 L1281.5,255.9 L1280.0,254.6 L1278.5,253.4 L1276.8,252.4 L1275.3,251.1 L1273.8,249.7 L1272.0,248.7 L1270.4,247.5 L1268.9,246.2 L1267.3,244.9 L1265.3,244.3 L1263.5,243.2 L1262.2,241.6 L1260.8,240.0 L1258.8,239.3 L1257.1,238.1 L1255.5,236.9 L1253.6,236.0 L1251.8,235.0 L1249.9,234.2 L1248.1,233.2 L1246.4,232.1 L1244.9,230.7 L1242.9,230.1 L1241.1,229.2 L1239.3,228.2 L1237.4,227.4 L1235.6,226.4 L1233.9,225.2 L1232.1,224.3 L1230.3,223.4 L1228.5,222.3 L1226.5,221.6 L1224.6,220.8 L1222.6,220.1 L1220.7,219.1 L1219.1,217.7 L1217.0,217.2 L1214.9,216.8 L1213.0,215.9 L1210.9,215.8 L1209.1,214.6 L1207.2,213.8 L1205.0,213.8 L1203.1,212.9 L1201.2,212.4 L1199.2,211.9 L1197.2,211.4 L1195.3,210.5 L1193.3,210.2 L1191.2,210.1 L1189.2,209.9 L1187.2,209.5 L1185.4,208.5 L1183.5,207.8 L1181.4,207.7 L1179.4,207.3 L1177.4,207.1 L1175.5,206.4 L1173.6,205.8 L1171.8,204.5 L1169.7,204.5 L1167.6,204.8 L1165.6,204.2 L1163.6,203.9 L1161.6,203.5 L1159.6,203.1 L1157.6,202.9 L1155.6,202.3 L1153.6,201.9 L1151.6,201.4 L1149.5,201.4 L1147.5,201.5 L1145.4,201.3 L1143.4,200.9 L1141.4,200.6 L1139.4,200.0 L1137.4,199.4 L1135.4,199.2 L1133.3,199.5 L1131.3,199.6 L1129.3,199.1 L1127.3,198.8 L1125.3,198.7 L1123.3,198.4 L1121.3,198.1 L1119.3,198.4 L1117.3,198.4 L1115.3,198.2 L1113.2,198.3 L1111.2,198.2 L1109.2,197.6 L1107.3,197.1 L1105.2,197.1 L1103.2,197.0 L1101.2,196.7 L1099.2,196.9 L1097.2,197.1 L1095.1,197.0 L1093.1,197.0 L1091.1,196.5 L1089.1,196.3 L1087.1,196.4 L1085.1,196.5 L1083.1,196.5 L1081.1,196.2 L1079.0,196.3 L1077.0,196.3 L1075.0,196.2 L1073.0,195.7 L1071.0,195.8 L1069.0,195.7 L1067.0,196.0 L1064.9,196.5 L1062.9,196.1 L1061.0,195.6 L1058.9,195.6 L1056.9,196.2 L1054.9,195.8 L1052.9,195.9 L1050.9,195.5 L1048.9,195.7 L1046.9,196.0 L1044.9,195.7 L1042.9,195.8 L1040.9,195.9 L1038.9,195.9 L1036.9,195.6 L1034.9,195.1 L1032.9,195.4 L1030.9,195.4 L1028.9,195.2 L1026.9,195.4 L1024.9,195.4 L1022.9,196.0 L1020.9,195.4 L1018.9,194.8 L1016.9,194.2 L1014.9,194.8 L1012.9,195.2 L1010.9,194.8 L1008.9,194.9 L1006.9,195.3 L1004.9,194.8 L1002.9,194.8 L1000.9,194.9 L998.9,194.8 L996.9,195.2 L994.9,195.2 L992.8,195.1 L990.8,194.9 L988.8,195.2 L986.8,195.2 L984.8,194.9 L982.8,194.6 L980.8,194.4 L978.8,194.9 L976.8,194.9 L974.8,194.7 L972.8,195.0 L970.8,195.2 L968.8,194.8 L966.8,194.7 L964.8,194.2 L962.8,194.6 L960.8,194.4 L958.8,195.0 L956.8,194.9 L954.8,194.2 L952.8,194.3 L950.8,195.0 L948.8,194.8 L946.8,194.7 L944.8,194.9 L942.8,194.8 L940.8,194.8 L938.8,194.3 L936.8,194.6 L934.8,195.0 L932.8,195.2 L930.8,194.9 L928.8,194.8 L926.8,194.8 L924.8,194.8 L922.8,194.8 L920.8,194.7 L918.8,194.5 L916.7,194.8 L914.7,195.0 L912.7,195.4 L910.7,195.0 L908.7,195.0 L906.7,195.6 L904.7,195.2 L902.7,195.3 L900.7,195.2 L898.7,194.6 L896.7,194.8 L894.7,195.4 L892.7,195.6 L890.7,195.1 L888.7,194.5 L886.7,194.3 L884.7,194.2 L882.7,194.4 L880.7,194.6 L878.7,194.7 L876.7,194.0 L874.7,193.8 L872.7,194.2 L870.7,194.6 L868.7,194.7 L866.7,194.1 L864.7,194.1 L862.7,194.3 L860.7,194.5 L858.7,194.3 L856.7,194.7 L854.7,194.9 L852.7,194.6 L850.7,194.6 L848.7,194.5 L846.7,194.7 L844.7,194.1 L842.7,194.3 L840.7,194.8 L838.7,195.1 L836.7,195.4 L834.7,194.9 L832.7,194.7 L830.7,194.8 L828.7,194.9 L826.7,194.7 L824.7,194.6 L822.7,195.0 L820.7,194.9 L818.7,194.6 L816.7,194.8 L814.7,194.8 L812.7,194.9 L810.7,194.6 L808.6,194.2 L806.6,194.4 L804.6,194.3 L802.6,194.5 L800.6,195.0 L798.6,194.6 L796.6,194.4 L794.6,194.3 L792.6,194.1 L790.6,194.6 L788.6,194.9 L786.6,194.5 L784.6,194.5 L782.6,194.9 L780.6,194.7 L778.6,194.4 L776.6,194.4 L774.6,194.8 L772.6,194.8 L770.6,195.2 L768.6,195.1 L766.6,195.1 L764.6,194.9 L762.6,195.1 L760.6,195.5 L758.6,195.4 L756.6,195.4 L754.6,194.8 L752.6,194.0 L750.6,194.4 L748.6,194.7 L746.6,195.0 L744.6,195.0 L742.6,194.6 L740.6,194.8 L738.6,195.0 L736.6,194.9 L734.6,194.9 L732.6,195.1 L730.5,195.2 L728.5,194.9 L726.5,195.0 L724.5,194.8 L722.5,194.9 L720.5,195.7 L718.5,195.4 L716.5,195.2 L714.5,194.8 L712.5,194.5 L710.5,194.8 L708.5,195.4 L706.5,195.4 L704.5,195.1 L702.5,195.0 L700.5,195.0 L698.5,195.0 L696.5,194.8 L694.5,194.8 L692.5,194.7 L690.5,195.1 L688.5,195.4 L686.5,195.4 L684.5,195.3 L682.5,195.3 L680.5,195.9 L678.5,195.5 L676.5,195.3 L674.5,195.5 L672.5,195.2 L670.5,195.4 L668.5,195.5 L666.5,194.9 L664.5,194.8 L662.5,195.2 L660.5,195.4 L658.5,195.4 L656.5,195.5 L654.5,195.2 L652.5,195.1 L650.5,195.8 L648.5,195.6 L646.5,195.6 L644.5,195.7 L642.5,195.7 L640.5,195.8 L638.5,195.6 L636.4,195.4 L634.4,195.8 L632.4,196.2 L630.4,196.3 L628.4,195.7 L626.4,195.5 L624.4,195.6 L622.4,195.6 L620.4,195.7 L618.4,195.7 L616.4,195.8 L614.4,195.7 L612.4,196.1 L610.4,196.3 L608.4,195.7 L606.4,195.7 L604.4,196.2 L602.4,196.2 L600.4,196.1 L598.4,195.9 L596.4,196.5 L594.4,196.6 L592.4,196.2 L590.3,195.8 L588.3,196.2 L586.3,196.4 L584.3,196.7 L582.3,196.5 L580.3,196.0 L578.3,196.2 L576.3,196.5 L574.3,196.7 L572.3,197.0 L570.3,197.6 L568.3,197.6 L566.3,198.0 L564.3,197.8 L562.3,197.6 L560.3,197.1 L558.3,197.4 L556.3,197.6 L554.2,197.0 L552.3,197.7 L550.2,197.5 L548.2,197.5 L546.2,197.6 L544.3,198.1 L542.2,198.0 L540.2,197.7 L538.2,197.7 L536.2,197.5 L534.2,197.6 L532.2,197.9 L530.2,198.3 L528.2,198.4 L526.2,198.5 L524.2,199.0 L522.2,199.2 L520.2,199.3 L518.2,199.2 L516.2,199.5 L514.2,198.9 L512.2,199.2 L510.2,199.1 L508.2,198.7 L506.2,199.1 L504.2,199.2 L502.2,199.2 L500.2,199.9 L498.3,200.3 L496.2,200.0 L494.2,199.9 L492.2,200.0 L490.3,200.8 L488.3,201.1 L486.2,200.7 L484.2,200.6 L482.2,200.7 L480.2,200.3 L478.2,200.4 L476.2,200.5 L474.2,200.2 L472.2,200.4 L470.2,200.6 L468.2,201.1 L466.2,201.4 L464.2,201.1 L462.2,200.9 L460.2,201.0 L458.2,201.2 L456.2,201.2 L454.2,201.4 L452.2,201.7 L450.2,201.8 L448.2,202.3 L446.2,202.3 L444.2,202.3 L442.2,202.9 L440.2,202.7 L438.2,202.6 L436.2,202.9 L434.2,202.9 L432.2,203.1 L430.2,202.5 L428.2,202.6 L426.2,203.1 L424.2,202.9 L422.2,203.0 L420.2,203.4 L418.2,204.0 L416.2,204.7Z" fill="#720052"/>
<path d="M416.8,214.4 L418.9,214.6 L420.9,214.8 L422.9,214.5 L424.9,214.2 L426.8,214.0 L428.8,213.3 L430.8,213.0 L432.8,213.7 L434.8,213.5 L436.8,213.0 L438.8,212.6 L440.8,212.7 L442.8,213.2 L444.8,213.1 L446.8,213.5 L448.8,213.1 L450.8,212.9 L452.8,212.5 L454.8,212.2 L456.8,212.0 L458.8,211.7 L460.7,211.3 L462.7,211.3 L464.8,211.7 L466.8,211.9 L468.8,211.6 L470.7,211.2 L472.7,211.1 L474.7,211.4 L476.7,211.4 L478.7,210.7 L480.7,210.6 L482.7,210.3 L484.7,210.3 L486.7,211.0 L488.7,211.0 L490.7,210.7 L492.7,210.7 L494.7,210.5 L496.7,210.4 L498.7,210.4 L500.7,210.1 L502.7,209.8 L504.7,209.6 L506.7,209.9 L508.7,209.7 L510.7,208.9 L512.7,208.9 L514.7,209.3 L516.7,209.5 L518.7,209.0 L520.7,208.8 L522.7,208.9 L524.7,209.1 L526.7,208.6 L528.7,208.8 L530.7,209.1 L532.7,208.8 L534.7,208.6 L536.7,208.4 L538.7,208.1 L540.7,208.6 L542.7,208.1 L544.6,207.5 L546.6,207.6 L548.6,207.6 L550.6,207.3 L552.6,206.8 L554.6,206.7 L556.6,206.8 L558.6,207.3 L560.6,206.9 L562.6,206.8 L564.6,206.9 L566.6,207.1 L568.6,207.0 L570.6,206.9 L572.6,206.5 L574.6,206.6 L576.6,206.6 L578.6,206.6 L580.6,207.0 L582.6,207.1 L584.6,206.7 L586.5,205.8 L588.5,205.9 L590.5,205.7 L592.5,205.4 L594.5,205.2 L596.5,205.6 L598.5,206.1 L600.5,206.5 L602.5,206.4 L604.5,205.7 L606.5,205.4 L608.5,205.8 L610.5,205.7 L612.5,205.4 L614.5,204.9 L616.5,205.0 L618.5,205.5 L620.5,205.5 L622.5,205.2 L624.5,205.1 L626.5,205.4 L628.5,205.9 L630.5,205.8 L632.5,205.8 L634.5,205.7 L636.5,205.3 L638.5,205.6 L640.5,205.5 L642.5,205.5 L644.5,205.0 L646.5,205.0 L648.5,205.0 L650.5,205.1 L652.5,204.9 L654.5,204.8 L656.5,205.0 L658.5,204.8 L660.5,204.3 L662.5,204.3 L664.5,204.6 L666.5,205.0 L668.5,205.4 L670.5,204.5 L672.5,203.9 L674.5,204.4 L676.5,204.3 L678.5,204.2 L680.5,204.7 L682.5,204.9 L684.5,204.0 L686.5,203.8 L688.5,204.0 L690.5,203.6 L692.5,204.1 L694.5,204.6 L696.5,204.7 L698.5,204.5 L700.5,204.2 L702.5,204.5 L704.5,204.8 L706.5,204.5 L708.5,204.4 L710.5,203.9 L712.5,204.1 L714.5,204.3 L716.5,204.2 L718.5,203.6 L720.5,204.0 L722.5,204.6 L724.5,204.3 L726.5,203.8 L728.5,204.0 L730.5,203.7 L732.5,203.9 L734.5,204.0 L736.5,203.6 L738.5,203.2 L740.5,203.1 L742.5,203.8 L744.5,204.5 L746.5,204.3 L748.5,204.0 L750.5,204.0 L752.5,203.8 L754.5,203.7 L756.5,203.1 L758.5,203.4 L760.5,203.7 L762.5,203.7 L764.5,203.6 L766.5,203.7 L768.5,203.4 L770.5,203.4 L772.5,203.5 L774.5,204.0 L776.5,203.7 L778.5,203.6 L780.5,203.6 L782.5,203.6 L784.5,203.5 L786.5,203.2 L788.5,203.5 L790.5,203.7 L792.5,203.7 L794.5,203.7 L796.5,204.0 L798.5,204.3 L800.5,204.2 L802.5,203.5 L804.5,203.5 L806.5,203.8 L808.5,203.6 L810.5,203.4 L812.5,204.0 L814.5,203.7 L816.5,203.1 L818.5,203.5 L820.5,203.6 L822.5,203.3 L824.5,203.1 L826.5,203.1 L828.5,203.4 L830.5,203.4 L832.5,203.1 L834.5,203.2 L836.5,203.2 L838.5,203.2 L840.5,203.1 L842.5,203.4 L844.5,203.8 L846.5,203.3 L848.5,203.0 L850.5,203.2 L852.5,203.2 L854.5,203.2 L856.5,203.5 L858.5,203.4 L860.5,203.5 L862.5,203.7 L864.5,203.6 L866.5,203.3 L868.5,203.4 L870.5,203.8 L872.5,203.6 L874.5,203.4 L876.5,204.0 L878.5,204.0 L880.5,204.3 L882.5,204.2 L884.5,203.6 L886.5,202.7 L888.5,203.2 L890.5,203.9 L892.5,203.7 L894.5,203.1 L896.5,203.4 L898.5,203.5 L900.5,203.3 L902.5,203.1 L904.5,203.5 L906.5,203.9 L908.5,203.8 L910.5,203.7 L912.5,203.3 L914.5,203.2 L916.5,203.1 L918.5,202.9 L920.5,203.3 L922.5,203.6 L924.5,203.9 L926.5,204.1 L928.5,203.8 L930.5,203.5 L932.5,203.4 L934.5,203.1 L936.5,203.1 L938.5,203.4 L940.5,203.4 L942.5,203.6 L944.5,204.0 L946.5,203.7 L948.5,203.4 L950.5,203.2 L952.5,203.4 L954.5,203.3 L956.5,203.1 L958.5,203.9 L960.5,203.5 L962.5,203.2 L964.5,203.4 L966.5,203.4 L968.5,203.3 L970.5,203.4 L972.5,203.5 L974.5,203.4 L976.5,203.9 L978.5,204.1 L980.5,203.8 L982.5,203.4 L984.5,203.1 L986.5,202.8 L988.5,203.2 L990.4,204.0 L992.4,204.3 L994.4,204.3 L996.4,204.1 L998.4,203.6 L1000.4,203.3 L1002.4,203.0 L1004.4,203.3 L1006.4,203.5 L1008.4,203.9 L1010.4,204.3 L1012.4,204.2 L1014.4,204.1 L1016.4,204.3 L1018.4,204.5 L1020.4,204.4 L1022.4,204.2 L1024.4,204.7 L1026.4,204.3 L1028.4,203.9 L1030.4,204.3 L1032.4,204.7 L1034.4,204.2 L1036.4,205.0 L1038.4,205.0 L1040.4,204.7 L1042.4,204.1 L1044.4,204.3 L1046.4,204.3 L1048.4,204.8 L1050.4,205.1 L1052.4,205.2 L1054.4,205.0 L1056.4,204.8 L1058.3,205.5 L1060.3,206.0 L1062.3,206.0 L1064.3,205.6 L1066.3,205.6 L1068.3,205.6 L1070.3,205.9 L1072.3,206.1 L1074.3,206.7 L1076.3,206.3 L1078.3,206.2 L1080.3,206.3 L1082.2,206.6 L1084.3,206.2 L1086.3,206.1 L1088.2,206.5 L1090.2,206.3 L1092.2,206.4 L1094.2,206.6 L1096.2,206.6 L1098.2,206.9 L1100.1,207.4 L1102.1,208.0 L1104.1,207.8 L1106.1,207.9 L1108.1,207.7 L1110.1,207.6 L1112.1,208.0 L1114.1,207.7 L1116.1,208.0 L1118.1,208.0 L1120.0,208.4 L1122.1,208.3 L1124.0,208.5 L1126.0,208.5 L1128.0,209.0 L1129.9,209.7 L1131.9,209.9 L1133.9,209.8 L1135.9,209.6 L1137.8,210.1 L1139.7,210.7 L1141.7,210.5 L1143.7,210.5 L1145.7,210.4 L1147.7,210.8 L1149.5,211.8 L1151.5,211.7 L1153.5,212.0 L1155.4,212.7 L1157.4,213.1 L1159.3,213.4 L1161.3,213.8 L1163.2,214.2 L1165.2,214.3 L1167.2,214.5 L1169.2,214.4 L1171.2,214.9 L1173.1,215.5 L1175.2,215.1 L1177.2,214.7 L1179.1,215.7 L1180.9,216.6 L1182.8,217.3 L1184.8,217.2 L1186.9,217.1 L1188.7,217.8 L1190.6,218.6 L1192.5,218.7 L1194.4,219.2 L1196.4,219.5 L1198.2,220.1 L1200.1,220.4 L1202.0,220.8 L1204.0,221.0 L1205.8,221.7 L1207.6,222.5 L1209.5,223.2 L1211.5,223.4 L1213.4,223.7 L1215.4,224.0 L1217.1,225.2 L1218.7,226.6 L1220.9,226.5 L1222.9,226.5 L1224.8,227.2 L1226.7,227.9 L1228.6,228.5 L1230.5,229.1 L1232.3,229.8 L1234.1,230.8 L1236.1,231.0 L1237.9,231.9 L1239.8,232.6 L1241.6,233.3 L1243.3,234.6 L1245.4,234.7 L1247.3,235.1 L1249.2,235.8 L1251.1,236.5 L1253.1,236.9 L1254.8,238.0 L1256.6,239.1 L1258.6,239.4 L1260.5,239.8 L1262.5,240.2 L1264.3,241.2 L1266.3,241.6 L1268.2,242.3 L1269.9,243.3 L1271.8,244.1 L1273.8,244.3 L1275.9,244.4 L1277.6,245.7 L1279.4,246.8 L1281.3,247.2 L1283.3,247.7 L1285.1,248.7 L1286.9,249.6 L1289.0,249.8 L1291.1,249.9 L1293.0,250.5 L1294.7,251.6 L1296.7,252.0 L1298.6,252.8 L1300.5,253.2 L1302.6,253.3 L1304.5,254.0 L1306.3,254.9 L1308.2,255.6 L1310.2,256.0 L1312.1,256.7 L1314.0,257.2 L1315.9,257.7 L1317.8,258.5 L1319.8,258.8 L1321.7,259.4 L1323.4,260.5 L1325.3,261.2 L1327.2,261.6 L1329.1,262.1 L1330.9,263.2 L1332.8,263.8 L1334.7,264.4 L1336.5,265.1 L1338.3,265.8 L1340.1,266.8 L1342.0,267.4 L1343.9,267.8 L1345.8,268.4 L1347.7,269.1 L1349.6,269.6 L1351.4,270.4 L1353.1,271.5 L1355.1,272.0 L1357.1,272.4 L1358.9,273.3 L1360.8,273.9 L1362.6,274.6 L1364.2,275.9 L1366.1,276.5 L1368.0,277.0 L1369.5,278.3 L1371.4,278.9 L1373.2,279.6 L1374.9,280.3 L1376.5,281.3 L1378.0,282.4 L1379.4,283.6 L1381.1,284.3 L1383.1,284.6 L1384.5,285.7 L1385.8,287.0 L1387.2,288.2 L1388.8,289.2 L1390.0,290.6 L1391.5,291.7 L1393.2,292.7 L1394.4,294.3 L1395.5,295.9 L1396.8,297.3 L1398.2,298.6 L1399.4,300.1 L1400.6,301.7 L1401.8,303.2 L1403.0,304.7 L1404.4,306.1 L1405.6,307.6 L1407.0,308.9 L1408.3,310.4 L1409.5,311.9 L1410.6,313.6 L1411.9,315.1 L1413.5,316.3 L1414.9,317.7 L1415.6,319.7 L1416.9,321.1 L1418.3,322.6 L1419.0,324.5 L1419.7,326.4 L1421.3,327.7 L1422.7,329.1 L1423.7,330.8 L1424.8,332.4 L1426.0,334.0 L1427.2,335.6 L1428.2,337.3 L1429.1,339.0 L1429.8,340.9 L1431.0,342.5 L1432.0,344.2 L1432.7,346.1 L1434.1,347.6 L1435.3,349.2 L1436.5,350.7 L1437.4,352.6 L1438.1,354.6 L1439.3,356.2 L1440.6,357.8 L1442.0,359.3 L1443.2,361.0 L1444.4,362.7 L1445.8,364.2 L1446.6,366.2 L1447.7,367.9 L1448.6,369.9 L1450.2,371.2 L1451.4,372.9 L1452.8,374.4 L1453.9,376.1 L1455.0,377.8 L1456.5,379.2 L1457.9,380.7 L1459.2,382.2 L1460.5,383.6 L1461.7,385.2 L1462.8,386.9 L1464.3,388.3 L1465.4,389.9 L1466.6,391.5 L1467.5,393.3 L1469.0,394.7 L1470.1,396.3 L1471.5,397.7 L1472.7,399.3 L1474.2,400.6 L1475.4,402.2 L1476.6,403.8 L1477.5,405.5 L1478.3,407.4 L1479.6,408.8 L1480.9,410.3 L1481.9,412.0 L1483.3,413.4 L1484.2,415.2 L1485.4,416.8 L1486.4,418.5 L1487.6,420.2 L1488.2,422.2 L1489.4,423.9 L1491.4,425.1 L1492.7,426.7 L1493.9,428.4 L1494.8,430.4 L1496.4,431.8 L1497.6,433.6 L1499.0,435.1 L1500.9,436.2 L1502.4,437.7 L1503.5,439.6 L1505.0,441.0 L1506.5,442.5 L1508.0,444.0 L1509.7,445.2 L1511.4,446.4 L1513.0,447.6 L1514.7,448.9 L1516.6,449.8 L1518.4,450.8 L1519.7,452.4 L1521.3,453.7 L1523.1,454.7 L1524.4,456.3 L1525.7,457.9 L1527.2,459.3 L1528.6,460.7 L1530.3,461.7 L1532.3,462.4 L1534.3,463.2 L1535.5,464.9 L1536.9,466.4 L1538.6,467.4 L1540.0,468.9 L1541.8,469.9 L1543.5,471.0 L1544.8,472.6 L1546.2,474.0 L1548.0,475.0 L1549.6,476.3 L1551.5,477.0 L1553.4,477.9 L1554.8,479.3 L1556.2,480.8 L1558.0,481.8 L1559.4,483.3 L1561.1,484.4 L1562.8,485.4 L1564.7,486.2 L1566.0,487.9 L1568.0,488.5 L1569.7,489.6 L1571.4,490.7 L1572.7,492.4 L1574.2,493.7 L1575.9,494.8 L1577.4,496.2 L1578.9,497.4 L1580.7,498.3 L1582.3,499.5 L1584.3,500.1 L1586.0,501.2 L1587.3,502.8 L1588.5,504.5 L1590.1,505.6 L1592.0,506.5 L1593.8,507.3 L1595.4,508.5 L1596.6,510.2 L1598.1,511.3 L1600.0,512.2 L1601.5,513.4 L1603.1,514.6 L1604.3,516.2 L1605.9,517.4 L1607.8,518.1 L1609.1,519.6 L1610.5,521.1 L1612.1,522.3 L1613.2,524.1 L1614.6,525.4 L1616.6,526.2 L1618.2,527.4 L1619.5,529.0 L1621.3,529.9 L1623.1,530.9 L1624.6,532.2 L1625.7,533.9 L1627.1,535.3 L1628.6,536.7 L1630.2,538.0 L1631.6,539.3 L1632.8,541.1 L1634.5,542.1 L1636.2,543.2 L1637.3,544.9 L1638.9,546.1 L1640.4,547.4 L1641.7,549.0 L1643.0,550.4 L1644.8,551.3 L1646.4,552.5 L1648.1,553.5 L1649.2,555.2 L1649.8,557.3 L1651.2,558.6 L1653.1,559.5 L1654.8,560.6 L1656.2,561.9 L1657.5,563.4 L1658.7,564.9 L1659.9,566.4 L1660.9,568.1 L1662.2,569.5 L1663.6,570.9 L1664.8,572.4 L1666.0,573.9 L1666.9,575.5 L1667.9,577.2 L1669.2,578.6 L1670.6,580.0 L1671.3,581.8 L1672.0,583.7 L1672.9,585.4 L1673.9,587.1 L1674.9,588.7 L1675.5,590.7 L1676.2,592.6 L1677.8,594.0 L1678.8,595.7 L1679.8,597.4 L1681.1,599.0 L1682.4,600.6 L1683.2,602.4 L1683.9,604.4 L1685.0,606.0 L1686.5,607.4 L1687.6,609.2 L1688.4,611.0 L1689.4,612.7 L1690.1,614.6 L1691.1,616.3 L1692.0,618.0 L1692.7,619.8 L1694.3,621.2 L1695.4,622.8 L1696.2,624.6 L1697.1,626.3 L1698.3,627.9 L1698.9,629.8 L1699.4,631.7 L1700.4,633.4 L1701.2,635.2 L1702.3,636.9 L1703.1,638.8 L1703.4,640.9 L1704.5,642.7 L1705.9,644.2 L1707.0,645.9 L1707.9,647.8 L1708.6,649.7 L1709.6,651.5 L1710.6,653.2 L1711.5,655.0 L1712.7,656.6 L1713.2,658.5 L1714.4,660.1 L1715.4,661.8 L1715.8,663.7 L1716.6,665.5 L1717.7,667.2 L1718.6,668.9 L1719.2,670.8 L1719.7,672.7 L1720.5,674.5 L1721.5,676.3 L1722.6,677.9 L1723.2,679.8 L1724.1,681.6 L1724.8,683.4 L1725.1,685.4 L1725.8,687.3 L1726.9,688.9 L1728.1,690.6 L1728.5,692.5 L1729.2,694.4 L1730.4,696.1 L1731.2,697.9 L1731.3,699.9 L1731.7,701.9 L1732.1,703.9 L1732.7,705.7 L1734.3,707.3 L1735.0,709.1 L1735.5,711.1 L1736.1,713.0 L1736.3,715.0 L1736.9,716.9 L1737.6,718.7 L1738.1,720.7 L1738.5,722.6 L1739.1,724.5 L1740.1,726.3 L1740.6,728.2 L1741.3,730.1 L1741.8,732.0 L1742.3,733.9 L1742.8,735.8 L1743.2,737.8 L1743.6,739.8 L1744.6,741.5 L1745.5,743.3 L1746.0,745.3 L1746.3,747.3 L1746.7,749.2 L1747.4,751.1 L1748.2,752.9 L1748.7,754.9 L1749.2,756.8 L1749.6,758.8 L1750.1,760.7 L1750.7,762.6 L1751.3,764.5 L1751.8,766.5 L1752.1,768.4 L1752.9,770.3 L1753.4,772.2 L1753.7,774.2 L1754.4,776.1 L1754.9,778.1 L1755.6,780.0 L1756.4,781.9 L1756.4,784.0 L1757.0,785.9 L1757.8,787.8 L1758.7,789.7 L1759.4,791.6 L1760.1,793.5 L1761.1,795.3 L1761.4,797.3 L1761.9,799.3 L1762.3,801.3 L1763.2,803.1 L1764.0,805.0 L1765.1,806.7 L1765.7,808.6 L1765.8,810.7 L1766.3,812.6 L1767.1,814.4 L1768.2,816.1 L1769.0,817.9 L1769.4,819.8 L1769.6,821.8 L1770.4,823.6 L1770.9,825.5 L1771.1,827.4 L1771.7,829.3 L1772.1,831.2 L1772.6,833.1 L1773.1,835.0 L1773.8,836.9 L1774.4,838.8 L1774.7,840.8 L1774.6,842.9 L1775.0,845.0 L1776.3,846.7 L1776.9,848.7 L1777.4,850.7 L1778.3,852.6 L1779.0,854.6 L1779.6,856.6 L1780.4,858.6 L1781.0,860.5 L1781.7,862.5 L1782.7,864.3 L1783.5,866.1 L1784.3,868.0 L1785.2,869.7 L1786.1,871.4 L1787.1,873.1 L1787.3,875.1 L1787.2,877.2 L1788.2,878.8 L1788.6,880.7 L1789.5,882.5 L1789.9,884.4 L1790.1,886.3 L1790.7,888.2 L1791.1,890.1 L1791.5,892.1 L1791.9,894.0 L1792.9,895.8 L1793.5,897.8 L1793.9,899.7 L1794.5,901.7 L1795.1,903.6 L1795.3,905.6 L1796.2,907.5 L1796.9,909.4 L1797.1,911.4 L1797.5,913.4 L1798.5,915.2 L1799.4,917.0 L1799.5,919.1 L1799.9,921.1 L1800.4,923.0 L1801.7,924.7 L1802.4,926.6 L1802.6,928.7 L1803.0,930.6 L1803.5,932.6 L1804.1,934.5 L1805.2,936.3 L1805.8,938.2 L1806.2,940.2 L1806.4,942.2 L1807.4,944.0 L1808.2,945.9 L1809.2,947.7 L1809.4,949.7 L1809.5,951.8 L1810.0,953.7 L1810.9,955.6 L1811.4,957.5 L1812.2,959.3 L1812.4,961.4 L1813.0,963.2 L1814.3,964.9 L1814.9,966.8 L1814.6,969.0 L1815.6,970.8 L1816.5,972.5 L1817.1,974.4 L1817.8,976.3 L1818.5,978.2 L1819.4,980.0 L1819.9,981.9 L1819.8,984.0 L1820.5,985.9 L1821.0,987.8 L1821.6,989.7 L1822.3,991.6 L1822.7,993.6 L1822.9,995.6 L1823.4,997.5 L1824.2,999.4 L1825.0,1001.3 L1825.2,1003.3 L1825.4,1005.3 L1826.1,1007.2 L1827.1,1009.0 L1827.9,1010.9 L1828.6,1012.8 L1829.1,1014.7 L1829.6,1016.7 L1830.0,1018.7 L1830.8,1020.5 L1831.2,1022.5 L1831.9,1024.4 L1832.5,1026.3 L1833.1,1028.2 L1833.8,1030.1 L1834.9,1031.9 L1835.6,1033.8 L1835.8,1035.8 L1836.5,1037.7 L1837.1,1039.6 L1838.0,1041.4 L1838.9,1043.3 L1839.5,1045.2 L1839.7,1047.2 L1840.2,1049.1 L1840.8,1051.1 L1841.3,1053.0 L1841.7,1054.9 L1842.8,1056.7 L1843.6,1058.5 L1843.6,1060.6 L1844.2,1062.5 L1844.8,1064.4 L1846.0,1066.1 L1846.6,1068.0 L1846.5,1070.2 L1847.2,1072.1 L1848.0,1073.9 L1848.5,1075.9 L1849.6,1077.6 L1850.6,1079.4 L1850.9,1081.4 L1851.6,1083.3 L1852.5,1085.1 L1852.9,1087.1 L1853.3,1089.1 L1853.9,1091.0 L1854.5,1092.9 L1855.3,1094.7 L1855.6,1096.8 L1856.0,1098.7 L1856.9,1100.5 L1857.4,1102.5 L1857.9,1104.4 L1858.8,1106.2 L1859.6,1108.1 L1860.4,1109.9 L1861.0,1111.8 L1861.5,1113.8 L1862.2,1115.7 L1862.8,1117.6 L1863.4,1119.5 L1863.8,1121.5 L1864.8,1123.3 L1865.7,1125.2 L1866.5,1127.0 L1867.0,1129.0 L1867.7,1130.9 L1868.7,1132.8 L1869.3,1134.7 L1869.9,1136.7 L1870.8,1138.5 L1872.0,1140.2 L1872.7,1142.1 L1873.0,1144.2 L1874.0,1146.0 L1874.8,1147.9 L1875.6,1149.8 L1876.5,1151.6 L1877.4,1153.5 L1878.1,1155.4 L1878.9,1157.3 L1879.7,1159.3 L1880.9,1161.0 L1882.2,1162.7 L1883.2,1164.5 L1883.8,1166.6 L1885.1,1168.2 L1886.1,1170.1 L1887.3,1171.9 L1888.9,1173.4 L1889.9,1175.3 L1890.8,1177.2 L1892.6,1178.6 L1894.2,1180.0 L1895.4,1181.9 L1896.4,1183.9 L1898.0,1185.4 L1899.7,1186.8 L1901.2,1188.5 L1902.6,1190.1 L1904.5,1191.3 L1906.5,1192.3 L1908.4,1193.4 L1910.4,1194.3 L1912.4,1195.3 L1914.2,1196.4 L1916.2,1197.4 L1917.9,1198.8 L1920.0,1199.5 L1922.3,1199.7 L1924.2,1200.7 L1926.1,1201.6 L1928.2,1202.1 L1930.2,1202.7 L1932.3,1203.3 L1934.3,1203.9 L1936.3,1204.5 L1938.4,1204.8 L1940.5,1205.1 L1942.5,1205.5 L1944.6,1205.7 L1946.6,1206.3 L1948.7,1206.4 L1950.7,1206.5 L1952.8,1206.6 L1954.8,1206.7 L1956.8,1207.5 L1958.8,1208.1 L1960.9,1207.8 L1962.9,1208.4 L1964.9,1208.4 L1966.9,1208.7 L1969.0,1208.6 L1971.0,1208.9 L1973.1,1209.1 L1975.1,1209.2 L1977.2,1208.8 L1979.2,1208.9 L1981.2,1208.9 L1983.2,1209.3 L1985.3,1208.8 L1987.3,1208.4 L1989.3,1208.3 L1991.3,1208.8 L1993.3,1209.4 L1995.3,1208.8 L1997.3,1208.6 L1999.3,1208.9 L2001.3,1209.2 L2003.3,1209.5 L2005.3,1209.7 L2007.3,1209.0 L2009.3,1208.9 L2011.3,1209.2 L2013.3,1209.2 L2015.3,1209.2 L2017.3,1209.2 L2019.3,1209.5 L2021.3,1209.5 L2023.3,1209.0 L2025.3,1208.8 L2027.3,1209.2 L2029.3,1209.0 L2031.3,1208.6 L2033.3,1209.2 L2035.3,1209.9 L2037.3,1209.4 L2039.3,1209.3 L2041.3,1209.9 L2043.3,1210.1 L2045.3,1209.9 L2047.3,1209.5 L2049.3,1209.8 L2051.3,1210.2 L2053.3,1210.0 L2055.3,1209.5 L2057.3,1209.2 L2059.3,1209.0 L2061.3,1209.3 L2063.3,1209.7 L2065.3,1209.7 L2067.3,1209.5 L2069.3,1209.9 L2071.3,1210.3 L2073.3,1210.3 L2075.3,1209.9 L2077.3,1209.6 L2079.3,1209.4 L2081.3,1210.1 L2083.3,1210.3 L2085.3,1210.2 L2087.3,1210.1 L2089.3,1209.8 L2091.3,1209.8 L2093.3,1210.0 L2095.3,1209.8 L2097.3,1209.9 L2099.3,1210.3 L2101.3,1210.1 L2103.3,1210.0 L2105.3,1210.1 L2107.3,1210.4 L2109.3,1210.5 L2111.4,1209.8 L2113.4,1209.5 L2115.4,1210.2 L2117.4,1210.3 L2119.4,1210.3 L2121.4,1210.3 L2123.4,1210.1 L2125.4,1209.5 L2127.4,1209.9 L2129.4,1209.9 L2131.4,1210.1 L2133.4,1209.8 L2135.4,1210.4 L2137.4,1210.4 L2139.4,1209.7 L2141.4,1210.2 L2143.4,1210.5 L2145.4,1210.3 L2147.4,1210.3 L2149.4,1210.9 L2151.4,1210.4 L2153.4,1210.3 L2155.4,1209.9 L2157.4,1210.5 L2159.4,1210.9 L2161.4,1210.9 L2163.4,1211.1 L2165.4,1210.8 L2167.4,1210.9 L2169.4,1210.8 L2171.4,1210.7 L2173.4,1210.5 L2175.3,1211.0 L2177.3,1211.0 L2179.3,1210.9 L2181.3,1210.7 L2183.4,1210.5 L2185.3,1210.7 L2187.3,1210.9 L2189.3,1210.8 L2191.3,1210.7 L2193.3,1210.9 L2195.3,1211.3 L2197.3,1211.2 L2199.3,1211.2 L2201.3,1211.5 L2203.3,1211.1 L2205.3,1211.6 L2207.3,1211.8 L2209.3,1211.6 L2211.2,1211.4 L2213.2,1211.2 L2215.2,1211.1 L2217.2,1211.6 L2219.1,1211.9 L2221.1,1212.2 L2223.1,1211.8 L2225.1,1211.8 L2227.1,1211.9 L2229.0,1211.9 L2231.0,1212.4 L2233.0,1212.6 L2234.9,1212.8 L2236.9,1213.5 L2238.9,1213.6 L2240.9,1213.4 L2242.9,1213.6 L2244.8,1214.2 L2246.8,1214.1 L2248.8,1213.7 L2250.8,1213.8 L2252.8,1213.9 L2254.8,1214.0 L2256.7,1214.4 L2258.7,1214.8 L2260.6,1215.5 L2262.5,1215.8 L2264.5,1215.7 L2266.5,1215.9 L2268.4,1216.3 L2270.3,1216.9 L2272.3,1217.2 L2274.2,1217.7 L2276.2,1218.1 L2278.3,1217.8 L2280.3,1218.2 L2282.3,1218.7 L2284.3,1218.8 L2286.4,1218.5 L2288.5,1218.6 L2290.5,1219.1 L2292.5,1219.6 L2294.6,1219.2 L2296.7,1219.3 L2298.7,1219.2 L2300.8,1219.3 L2302.8,1219.7 L2304.9,1220.1 L2306.9,1220.5 L2308.9,1220.9 L2310.9,1221.0 L2313.0,1220.4 L2315.0,1220.1 L2317.0,1220.4 L2319.0,1219.8 L2319.0,1208.7 L2317.0,1208.6 L2315.0,1208.4 L2313.0,1208.7 L2311.0,1209.0 L2309.1,1208.8 L2307.1,1208.9 L2305.1,1208.8 L2303.2,1209.0 L2301.2,1208.7 L2299.3,1208.5 L2297.4,1208.0 L2295.4,1208.1 L2293.5,1208.1 L2291.6,1207.8 L2289.7,1207.1 L2287.8,1206.8 L2285.8,1207.0 L2283.9,1206.9 L2282.0,1206.1 L2280.0,1205.8 L2278.0,1206.1 L2276.0,1205.6 L2274.1,1204.9 L2272.1,1204.8 L2270.0,1204.7 L2268.0,1204.5 L2266.0,1204.5 L2264.0,1203.9 L2262.0,1203.3 L2260.0,1203.5 L2258.0,1203.2 L2255.9,1203.1 L2253.9,1202.9 L2252.0,1202.4 L2249.9,1202.5 L2247.9,1202.2 L2245.9,1202.3 L2243.9,1201.9 L2241.9,1201.2 L2239.9,1201.2 L2237.9,1201.2 L2235.9,1200.9 L2233.9,1200.6 L2231.8,1200.8 L2229.8,1200.4 L2227.8,1200.7 L2225.8,1200.7 L2223.7,1200.6 L2221.7,1200.8 L2219.7,1199.8 L2217.7,1199.3 L2215.7,1199.5 L2213.7,1199.7 L2211.6,1199.9 L2209.6,1200.0 L2207.6,1200.0 L2205.6,1200.2 L2203.6,1199.4 L2201.6,1199.3 L2199.6,1199.0 L2197.6,1198.6 L2195.6,1198.6 L2193.5,1198.9 L2191.5,1198.9 L2189.5,1199.0 L2187.5,1199.4 L2185.5,1199.0 L2183.5,1198.9 L2181.5,1198.7 L2179.5,1198.7 L2177.5,1198.8 L2175.5,1199.0 L2173.5,1198.7 L2171.5,1198.9 L2169.5,1199.6 L2167.5,1199.0 L2165.5,1198.7 L2163.5,1198.9 L2161.5,1198.9 L2159.5,1199.0 L2157.5,1199.1 L2155.5,1198.9 L2153.5,1198.9 L2151.5,1198.9 L2149.5,1199.0 L2147.5,1198.4 L2145.5,1198.4 L2143.5,1198.4 L2141.5,1198.7 L2139.5,1198.7 L2137.5,1198.6 L2135.5,1198.5 L2133.5,1198.6 L2131.5,1198.6 L2129.5,1198.3 L2127.5,1198.0 L2125.5,1198.1 L2123.5,1198.5 L2121.5,1198.5 L2119.5,1198.3 L2117.5,1198.2 L2115.5,1198.6 L2113.5,1198.6 L2111.5,1198.3 L2109.5,1198.4 L2107.5,1198.4 L2105.5,1198.3 L2103.5,1198.1 L2101.5,1198.5 L2099.5,1198.6 L2097.5,1198.1 L2095.5,1198.3 L2093.5,1198.0 L2091.5,1198.1 L2089.5,1198.2 L2087.5,1198.4 L2085.5,1198.0 L2083.5,1198.6 L2081.4,1199.3 L2079.5,1199.0 L2077.5,1198.4 L2075.5,1198.1 L2073.5,1198.2 L2071.5,1198.6 L2069.5,1198.3 L2067.5,1198.2 L2065.5,1197.9 L2063.5,1197.9 L2061.5,1197.6 L2059.5,1197.7 L2057.5,1197.8 L2055.5,1197.7 L2053.5,1197.4 L2051.5,1197.3 L2049.4,1197.7 L2047.4,1197.8 L2045.4,1197.8 L2043.4,1197.9 L2041.4,1198.0 L2039.4,1198.2 L2037.4,1198.1 L2035.4,1198.2 L2033.4,1197.6 L2031.4,1197.2 L2029.4,1197.4 L2027.4,1197.3 L2025.4,1197.0 L2023.4,1197.5 L2021.4,1197.8 L2019.4,1197.8 L2017.4,1197.5 L2015.4,1197.8 L2013.4,1197.8 L2011.4,1197.8 L2009.4,1197.8 L2007.4,1197.8 L2005.4,1197.3 L2003.4,1197.0 L2001.4,1196.9 L1999.4,1197.1 L1997.4,1196.5 L1995.4,1196.5 L1993.4,1197.3 L1991.4,1197.2 L1989.4,1197.1 L1987.4,1197.0 L1985.4,1197.7 L1983.5,1197.6 L1981.5,1197.3 L1979.5,1197.3 L1977.5,1197.0 L1975.6,1197.1 L1973.6,1196.8 L1971.7,1196.6 L1969.7,1196.9 L1967.7,1196.8 L1965.8,1196.1 L1963.8,1196.6 L1961.8,1196.5 L1959.9,1196.0 L1958.0,1195.6 L1956.0,1195.8 L1954.0,1195.8 L1952.1,1195.2 L1950.2,1194.6 L1948.2,1194.8 L1946.3,1194.4 L1944.4,1194.2 L1942.5,1193.5 L1940.7,1192.8 L1938.8,1192.6 L1936.9,1192.5 L1935.1,1191.9 L1933.3,1191.5 L1931.5,1191.1 L1929.7,1190.6 L1928.0,1190.0 L1926.2,1189.6 L1924.7,1188.4 L1923.1,1187.6 L1921.5,1186.9 L1919.9,1186.0 L1918.5,1184.9 L1917.0,1183.8 L1915.2,1183.4 L1913.7,1182.4 L1912.5,1181.1 L1911.3,1179.8 L1909.9,1178.7 L1908.5,1177.6 L1906.9,1176.7 L1905.8,1175.2 L1904.8,1173.6 L1903.5,1172.3 L1902.1,1171.1 L1900.8,1169.7 L1899.8,1168.1 L1898.7,1166.6 L1897.9,1164.8 L1896.7,1163.3 L1896.2,1161.5 L1895.2,1159.9 L1893.5,1158.7 L1892.8,1156.8 L1892.1,1155.0 L1891.0,1153.4 L1890.1,1151.7 L1889.2,1150.0 L1888.5,1148.2 L1887.5,1146.5 L1886.8,1144.6 L1886.3,1142.7 L1885.8,1140.8 L1884.7,1139.1 L1883.6,1137.5 L1882.8,1135.7 L1882.2,1133.8 L1881.3,1132.1 L1880.9,1130.1 L1880.0,1128.3 L1879.1,1126.6 L1878.9,1124.6 L1878.4,1122.7 L1877.5,1120.9 L1876.8,1119.0 L1875.8,1117.3 L1875.1,1115.5 L1874.6,1113.5 L1874.3,1111.5 L1873.9,1109.6 L1872.7,1107.9 L1872.3,1105.9 L1871.8,1104.0 L1871.3,1102.0 L1870.9,1100.1 L1870.1,1098.2 L1869.5,1096.3 L1868.7,1094.4 L1868.1,1092.5 L1867.1,1090.8 L1866.5,1088.8 L1865.7,1087.0 L1865.1,1085.1 L1864.7,1083.1 L1864.5,1081.1 L1863.7,1079.3 L1862.8,1077.5 L1862.3,1075.5 L1861.2,1073.8 L1860.3,1072.0 L1859.7,1070.1 L1858.9,1068.3 L1858.6,1066.2 L1858.5,1064.2 L1858.0,1062.2 L1857.2,1060.4 L1856.5,1058.5 L1856.0,1056.6 L1855.2,1054.7 L1854.8,1052.7 L1853.5,1051.0 L1852.6,1049.2 L1852.5,1047.1 L1851.4,1045.4 L1850.9,1043.4 L1850.9,1041.3 L1850.5,1039.4 L1849.7,1037.5 L1848.9,1035.7 L1848.1,1033.9 L1847.3,1032.0 L1847.0,1030.0 L1846.3,1028.1 L1845.8,1026.2 L1845.7,1024.2 L1845.6,1022.1 L1844.3,1020.4 L1843.0,1018.8 L1842.5,1016.8 L1842.1,1014.9 L1841.9,1012.9 L1841.3,1011.0 L1840.3,1009.2 L1840.0,1007.2 L1839.6,1005.2 L1838.8,1003.4 L1837.8,1001.6 L1837.0,999.8 L1836.7,997.8 L1835.8,996.0 L1835.1,994.1 L1834.8,992.1 L1834.4,990.1 L1834.3,988.1 L1833.7,986.2 L1832.9,984.3 L1832.0,982.5 L1831.8,980.5 L1831.6,978.4 L1831.1,976.5 L1830.4,974.6 L1829.7,972.7 L1828.9,970.8 L1828.0,969.0 L1827.6,967.0 L1826.9,965.1 L1826.4,963.1 L1825.8,961.2 L1825.0,959.4 L1824.2,957.5 L1824.0,955.5 L1823.8,953.4 L1823.0,951.6 L1821.9,949.8 L1821.5,947.9 L1821.2,945.9 L1820.2,944.1 L1819.6,942.2 L1819.1,940.3 L1818.1,938.5 L1817.8,936.5 L1817.4,934.6 L1817.4,932.5 L1816.6,930.6 L1815.8,928.8 L1814.8,927.0 L1814.7,925.0 L1814.1,923.1 L1813.4,921.2 L1813.1,919.2 L1812.4,917.4 L1811.9,915.4 L1811.6,913.4 L1811.1,911.5 L1810.0,909.8 L1808.8,908.0 L1808.4,906.1 L1807.9,904.1 L1807.3,902.2 L1806.8,900.3 L1806.6,898.3 L1806.4,896.3 L1806.0,894.3 L1805.3,892.5 L1804.4,890.6 L1804.1,888.6 L1803.6,886.6 L1803.2,884.7 L1802.5,882.7 L1802.0,880.7 L1801.7,878.7 L1800.9,876.8 L1799.8,874.9 L1798.9,873.0 L1798.3,871.1 L1798.0,868.9 L1797.4,866.9 L1796.4,865.1 L1795.4,863.4 L1795.0,861.3 L1794.3,859.5 L1793.6,857.7 L1792.5,856.1 L1791.7,854.3 L1791.3,852.5 L1790.8,850.7 L1790.2,848.9 L1789.3,847.2 L1788.7,845.3 L1788.0,843.5 L1787.7,841.6 L1787.7,839.6 L1787.3,837.7 L1786.7,835.8 L1786.3,833.8 L1785.9,831.8 L1785.2,829.9 L1784.1,828.0 L1784.1,825.9 L1783.4,824.0 L1782.7,822.1 L1782.1,820.1 L1781.5,818.1 L1781.0,816.1 L1780.3,814.2 L1779.7,812.2 L1779.5,810.1 L1779.3,808.1 L1778.3,806.3 L1777.2,804.5 L1776.0,802.8 L1775.0,801.0 L1774.9,799.0 L1774.6,796.9 L1773.8,795.1 L1772.8,793.4 L1772.3,791.5 L1771.3,789.7 L1770.6,787.9 L1770.4,785.9 L1769.6,784.1 L1768.9,782.3 L1768.3,780.4 L1768.4,778.3 L1767.4,776.5 L1766.8,774.6 L1766.3,772.7 L1766.0,770.7 L1765.4,768.8 L1764.4,767.0 L1764.0,765.1 L1764.0,763.0 L1763.6,761.0 L1763.1,759.0 L1762.2,757.2 L1761.5,755.3 L1761.2,753.3 L1760.5,751.5 L1760.2,749.5 L1759.9,747.5 L1759.2,745.6 L1758.4,743.7 L1757.4,741.9 L1756.6,740.0 L1755.9,738.1 L1755.9,736.1 L1755.9,734.0 L1755.0,732.1 L1754.0,730.3 L1753.5,728.4 L1752.7,726.5 L1752.3,724.5 L1752.1,722.5 L1751.4,720.6 L1750.7,718.7 L1750.0,716.8 L1749.4,714.9 L1749.1,712.8 L1748.4,711.0 L1747.4,709.2 L1746.8,707.2 L1746.3,705.3 L1745.7,703.3 L1745.0,701.4 L1744.4,699.5 L1743.6,697.6 L1742.7,695.8 L1742.2,693.8 L1741.8,691.8 L1741.0,689.9 L1739.8,688.2 L1739.3,686.2 L1738.6,684.3 L1738.1,682.4 L1737.3,680.5 L1736.4,678.6 L1736.0,676.6 L1734.7,675.0 L1733.8,673.1 L1732.9,671.3 L1732.1,669.4 L1731.5,667.5 L1730.8,665.5 L1730.1,663.6 L1729.2,661.8 L1728.2,660.0 L1727.2,658.2 L1726.2,656.4 L1724.8,654.8 L1724.5,652.7 L1723.7,650.8 L1722.2,649.3 L1721.1,647.6 L1720.1,645.8 L1718.9,644.2 L1718.3,642.3 L1717.8,640.4 L1717.3,638.5 L1715.7,637.1 L1714.6,635.5 L1714.1,633.5 L1713.4,631.6 L1712.6,629.8 L1711.7,628.0 L1710.7,626.3 L1710.0,624.3 L1709.2,622.5 L1708.3,620.6 L1707.5,618.7 L1706.3,617.0 L1705.2,615.3 L1704.0,613.6 L1703.1,611.7 L1701.7,610.2 L1700.7,608.4 L1700.2,606.4 L1699.2,604.6 L1697.6,603.2 L1696.5,601.6 L1695.6,599.7 L1695.1,597.7 L1694.2,595.9 L1693.0,594.3 L1691.8,592.7 L1690.9,590.9 L1689.8,589.2 L1688.7,587.5 L1687.6,585.8 L1686.5,584.1 L1685.6,582.3 L1684.5,580.5 L1683.8,578.6 L1683.2,576.6 L1681.9,574.9 L1680.7,573.2 L1679.3,571.7 L1677.7,570.3 L1676.9,568.3 L1675.5,566.7 L1674.1,565.2 L1672.9,563.4 L1671.5,561.9 L1669.8,560.7 L1668.2,559.3 L1667.0,557.6 L1666.1,555.7 L1665.1,553.8 L1663.8,552.1 L1662.3,550.7 L1660.6,549.5 L1658.9,548.3 L1657.6,546.7 L1656.1,545.2 L1654.6,543.8 L1653.4,542.1 L1651.9,540.8 L1650.1,539.7 L1648.3,538.6 L1646.9,537.1 L1646.0,535.1 L1644.5,533.8 L1642.8,532.7 L1641.0,531.7 L1639.2,530.7 L1637.9,529.1 L1636.5,527.6 L1635.3,526.1 L1633.7,524.8 L1632.0,523.7 L1630.8,522.0 L1629.1,521.0 L1627.5,519.7 L1626.0,518.3 L1624.5,517.0 L1622.8,515.9 L1621.3,514.6 L1620.1,512.8 L1618.6,511.5 L1617.0,510.3 L1615.3,509.1 L1613.8,507.7 L1612.1,506.6 L1610.7,505.1 L1609.0,504.0 L1607.3,502.9 L1605.7,501.6 L1604.3,500.1 L1602.7,498.8 L1600.9,497.9 L1598.9,497.2 L1597.4,495.8 L1595.7,494.7 L1594.2,493.3 L1593.0,491.5 L1591.3,490.4 L1589.6,489.4 L1587.9,488.2 L1586.1,487.4 L1584.5,486.1 L1583.0,484.8 L1581.2,483.9 L1579.4,482.9 L1578.1,481.3 L1576.8,479.8 L1575.1,478.7 L1573.3,477.8 L1571.6,476.8 L1570.1,475.5 L1568.5,474.2 L1566.6,473.5 L1565.1,472.1 L1563.7,470.6 L1562.3,469.2 L1560.4,468.4 L1558.7,467.4 L1557.1,466.2 L1555.6,464.8 L1554.0,463.6 L1552.7,462.1 L1551.0,461.0 L1549.3,459.9 L1547.5,459.0 L1546.1,457.6 L1544.6,456.3 L1542.6,455.6 L1540.9,454.5 L1539.4,453.2 L1537.6,452.2 L1536.2,450.7 L1534.7,449.3 L1533.4,447.7 L1532.1,446.0 L1530.2,445.3 L1528.5,444.1 L1527.2,442.6 L1525.8,441.1 L1523.9,440.2 L1522.2,439.2 L1520.5,438.3 L1519.0,437.0 L1517.7,435.6 L1516.3,434.2 L1514.6,433.3 L1513.2,432.0 L1512.2,430.3 L1510.9,429.0 L1509.9,427.5 L1508.2,426.6 L1507.1,425.2 L1505.8,423.9 L1504.4,422.7 L1503.5,421.1 L1503.0,419.1 L1501.8,417.7 L1500.6,416.2 L1499.1,414.9 L1497.8,413.4 L1496.9,411.6 L1495.4,410.2 L1494.1,408.6 L1493.2,406.8 L1492.4,404.8 L1491.4,403.0 L1490.2,401.3 L1488.8,399.8 L1487.5,398.2 L1486.1,396.7 L1485.2,394.8 L1484.1,393.1 L1482.7,391.7 L1481.6,390.0 L1480.4,388.3 L1478.7,387.1 L1477.6,385.4 L1476.5,383.7 L1475.5,381.9 L1474.4,380.1 L1472.5,379.1 L1471.1,377.6 L1470.0,375.9 L1469.1,374.0 L1467.7,372.6 L1466.2,371.2 L1464.6,370.0 L1463.4,368.4 L1462.2,366.8 L1460.7,365.5 L1459.5,364.0 L1458.4,362.4 L1457.3,360.8 L1456.2,359.2 L1455.2,357.6 L1454.3,355.9 L1453.5,354.1 L1452.8,352.2 L1451.0,351.1 L1449.9,349.5 L1449.3,347.5 L1448.2,345.8 L1447.7,343.8 L1446.8,342.0 L1444.8,340.9 L1443.2,339.5 L1442.4,337.6 L1441.7,335.7 L1440.3,334.2 L1439.2,332.5 L1438.0,330.8 L1437.1,328.9 L1436.1,327.2 L1434.6,325.7 L1433.3,324.2 L1432.2,322.4 L1431.0,320.8 L1430.1,319.0 L1429.5,316.9 L1428.2,315.3 L1426.4,314.1 L1425.0,312.6 L1424.4,310.6 L1422.9,309.1 L1421.4,307.7 L1420.3,306.0 L1419.3,304.2 L1418.1,302.5 L1416.5,301.2 L1415.0,299.8 L1413.6,298.2 L1412.5,296.4 L1411.2,294.8 L1409.7,293.4 L1408.1,292.1 L1406.8,290.4 L1405.6,288.7 L1404.1,287.2 L1402.9,285.5 L1401.3,284.0 L1399.6,282.8 L1397.9,281.5 L1396.3,280.1 L1394.7,278.7 L1393.1,277.3 L1391.0,276.5 L1389.2,275.5 L1387.6,273.9 L1385.8,273.0 L1384.0,271.9 L1382.2,270.7 L1380.6,269.3 L1378.6,268.4 L1376.8,267.5 L1374.7,266.9 L1372.9,265.9 L1371.0,265.1 L1369.2,264.0 L1367.2,263.4 L1365.2,262.9 L1363.1,262.7 L1361.3,261.7 L1359.5,260.7 L1357.7,259.7 L1355.8,258.9 L1354.0,258.0 L1352.1,257.4 L1350.0,257.2 L1348.1,256.5 L1346.3,255.4 L1344.3,255.1 L1342.5,254.1 L1340.6,253.3 L1338.7,252.7 L1336.7,252.2 L1334.8,251.7 L1332.8,251.2 L1330.9,250.7 L1328.9,250.3 L1327.0,249.6 L1325.2,248.5 L1323.4,247.5 L1321.4,247.3 L1319.3,247.1 L1317.5,246.1 L1315.7,245.2 L1313.9,244.4 L1312.0,243.8 L1310.0,243.2 L1308.0,243.1 L1306.0,242.7 L1304.2,241.8 L1302.4,240.9 L1300.4,240.5 L1298.4,240.2 L1296.4,240.0 L1294.7,238.7 L1292.8,238.2 L1290.8,237.8 L1289.0,236.9 L1287.3,235.8 L1285.4,235.3 L1283.2,235.4 L1281.4,234.6 L1279.6,233.6 L1277.7,233.0 L1275.7,232.8 L1273.7,232.3 L1271.9,231.5 L1270.1,230.5 L1268.2,229.9 L1266.4,229.1 L1264.5,228.3 L1262.8,227.3 L1260.8,227.0 L1258.8,226.7 L1256.8,226.1 L1254.9,225.4 L1253.2,224.5 L1251.3,223.8 L1249.4,223.0 L1247.4,222.7 L1245.5,222.1 L1243.6,221.3 L1241.7,220.7 L1239.7,220.4 L1237.8,219.6 L1236.1,218.4 L1234.1,218.0 L1232.3,217.2 L1230.3,216.7 L1228.3,216.2 L1226.5,215.5 L1224.6,214.8 L1222.5,214.7 L1220.6,213.9 L1218.7,213.2 L1216.8,212.5 L1214.8,212.2 L1212.8,211.7 L1210.8,211.3 L1208.8,210.9 L1206.9,210.1 L1204.9,209.6 L1203.0,208.7 L1201.1,207.7 L1199.1,207.4 L1197.0,207.4 L1195.0,207.0 L1193.0,206.5 L1191.0,206.4 L1189.0,205.9 L1187.0,205.6 L1185.0,205.3 L1183.0,204.9 L1181.0,204.5 L1179.1,203.7 L1177.1,203.4 L1175.1,203.4 L1173.1,203.0 L1171.0,202.9 L1169.0,202.7 L1167.0,202.5 L1165.0,202.5 L1163.0,201.9 L1161.1,200.9 L1159.2,200.4 L1157.2,200.2 L1155.1,200.2 L1153.0,200.7 L1151.0,200.5 L1149.1,200.0 L1147.1,199.7 L1145.1,198.9 L1143.1,198.4 L1141.1,198.3 L1139.0,198.4 L1137.0,198.4 L1134.9,198.6 L1133.0,198.0 L1131.0,197.3 L1129.0,197.6 L1126.9,197.9 L1124.9,197.3 L1122.9,197.0 L1121.0,196.6 L1118.9,196.8 L1116.9,196.4 L1114.9,196.6 L1112.9,196.9 L1110.9,196.5 L1108.9,196.5 L1106.9,196.6 L1104.9,196.2 L1102.9,195.7 L1100.9,195.1 L1098.9,194.7 L1096.9,194.6 L1094.9,194.7 L1092.8,195.0 L1090.9,194.5 L1088.8,194.4 L1086.8,194.4 L1084.8,194.5 L1082.8,194.9 L1080.8,194.5 L1078.8,194.3 L1076.8,194.4 L1074.7,194.6 L1072.8,194.2 L1070.8,193.7 L1068.8,193.5 L1066.8,193.5 L1064.7,194.0 L1062.7,194.2 L1060.7,193.8 L1058.7,194.2 L1056.7,194.2 L1054.7,193.7 L1052.7,193.8 L1050.7,193.6 L1048.7,192.7 L1046.8,192.3 L1044.7,192.6 L1042.7,193.0 L1040.7,193.2 L1038.7,193.0 L1036.7,193.2 L1034.7,193.4 L1032.7,193.6 L1030.7,193.2 L1028.7,192.8 L1026.7,192.9 L1024.7,193.2 L1022.7,193.1 L1020.7,192.2 L1018.7,191.5 L1016.7,191.9 L1014.7,192.2 L1012.7,192.3 L1010.7,192.0 L1008.7,192.1 L1006.6,192.2 L1004.6,192.3 L1002.6,192.1 L1000.6,191.9 L998.6,191.9 L996.6,191.7 L994.6,192.0 L992.6,191.8 L990.6,191.9 L988.6,191.4 L986.6,191.3 L984.6,191.6 L982.6,191.5 L980.6,191.7 L978.6,191.6 L976.6,191.7 L974.5,192.1 L972.5,192.0 L970.5,192.1 L968.5,192.4 L966.5,191.9 L964.5,191.4 L962.5,191.4 L960.5,191.6 L958.5,191.5 L956.5,191.2 L954.5,191.7 L952.5,191.9 L950.5,191.4 L948.5,191.2 L946.5,191.2 L944.5,191.5 L942.5,191.9 L940.5,191.9 L938.5,191.6 L936.5,191.6 L934.5,191.8 L932.5,192.0 L930.5,192.0 L928.5,192.3 L926.5,192.3 L924.5,192.1 L922.5,192.0 L920.5,191.8 L918.5,191.8 L916.5,191.5 L914.5,191.5 L912.5,192.0 L910.5,192.4 L908.5,192.2 L906.5,191.9 L904.5,191.5 L902.5,191.4 L900.5,191.7 L898.5,191.9 L896.5,191.9 L894.5,191.6 L892.5,191.8 L890.5,191.9 L888.5,191.7 L886.5,191.9 L884.5,192.5 L882.5,192.4 L880.5,191.5 L878.5,191.8 L876.5,192.4 L874.5,191.9 L872.5,191.8 L870.5,192.1 L868.5,192.2 L866.5,192.1 L864.5,191.6 L862.5,191.5 L860.5,191.9 L858.5,191.8 L856.5,191.4 L854.5,191.6 L852.5,191.8 L850.5,191.8 L848.5,192.0 L846.5,192.3 L844.5,192.4 L842.5,192.3 L840.5,192.1 L838.5,192.2 L836.5,191.6 L834.5,191.3 L832.5,191.7 L830.5,191.8 L828.5,191.4 L826.5,191.5 L824.5,191.8 L822.5,192.0 L820.5,192.4 L818.4,192.0 L816.4,191.7 L814.4,191.9 L812.4,192.0 L810.4,192.1 L808.4,191.5 L806.4,191.3 L804.4,191.4 L802.4,191.3 L800.4,191.7 L798.4,192.0 L796.4,192.5 L794.4,191.9 L792.4,191.9 L790.4,191.7 L788.4,191.6 L786.4,192.2 L784.4,191.8 L782.4,191.6 L780.4,191.5 L778.4,191.2 L776.4,191.1 L774.4,191.7 L772.4,191.8 L770.4,191.5 L768.4,191.8 L766.4,192.4 L764.4,192.5 L762.4,192.2 L760.4,191.7 L758.4,192.1 L756.4,192.0 L754.4,192.2 L752.4,192.1 L750.4,192.2 L748.4,191.9 L746.4,191.9 L744.4,191.9 L742.4,192.0 L740.4,191.6 L738.4,191.6 L736.4,192.4 L734.4,192.8 L732.4,192.4 L730.4,192.6 L728.4,192.3 L726.3,191.6 L724.3,191.9 L722.3,191.8 L720.4,192.3 L718.4,192.5 L716.4,192.7 L714.3,192.4 L712.3,192.4 L710.3,192.5 L708.3,192.6 L706.3,192.0 L704.3,192.1 L702.3,192.4 L700.3,192.4 L698.3,192.8 L696.3,192.8 L694.3,192.5 L692.3,193.0 L690.3,193.3 L688.3,192.9 L686.3,192.6 L684.3,192.8 L682.3,193.4 L680.3,193.4 L678.3,192.6 L676.3,192.7 L674.3,192.9 L672.3,193.2 L670.3,193.5 L668.3,193.6 L666.3,193.1 L664.3,192.6 L662.3,192.2 L660.3,192.6 L658.3,193.4 L656.3,193.5 L654.3,193.1 L652.3,193.4 L650.3,193.9 L648.3,193.4 L646.3,193.0 L644.3,192.9 L642.3,193.4 L640.3,193.4 L638.3,193.9 L636.3,194.4 L634.3,194.0 L632.3,193.6 L630.3,193.7 L628.3,193.3 L626.3,193.3 L624.3,193.8 L622.3,194.2 L620.3,194.5 L618.3,194.2 L616.3,193.9 L614.3,193.7 L612.3,193.8 L610.3,194.1 L608.3,193.8 L606.2,193.8 L604.3,194.4 L602.3,194.8 L600.3,194.7 L598.2,194.2 L596.2,194.0 L594.2,193.9 L592.2,194.4 L590.2,194.0 L588.2,194.3 L586.2,194.5 L584.2,194.2 L582.2,194.2 L580.2,194.7 L578.2,195.2 L576.2,195.0 L574.2,195.0 L572.2,195.1 L570.2,195.4 L568.2,196.0 L566.2,195.9 L564.2,196.3 L562.2,196.0 L560.1,195.3 L558.1,195.3 L556.1,195.3 L554.1,195.2 L552.1,195.2 L550.1,195.8 L548.1,195.9 L546.1,195.7 L544.1,195.6 L542.1,196.1 L540.1,196.6 L538.1,196.5 L536.1,196.5 L534.1,196.9 L532.1,197.0 L530.1,197.0 L528.1,197.0 L526.1,197.1 L524.1,197.0 L522.1,197.0 L520.1,197.0 L518.1,197.0 L516.1,197.0 L514.1,197.4 L512.1,197.3 L510.1,197.1 L508.1,197.3 L506.1,198.1 L504.2,198.3 L502.2,198.5 L500.2,198.5 L498.2,198.6 L496.2,198.8 L494.2,198.8 L492.1,198.7 L490.2,198.9 L488.2,199.0 L486.1,198.8 L484.1,198.8 L482.1,198.3 L480.1,198.5 L478.1,198.9 L476.1,199.2 L474.1,198.9 L472.1,199.1 L470.1,199.4 L468.1,199.6 L466.1,199.6 L464.1,200.2 L462.1,200.2 L460.2,200.4 L458.1,200.5 L456.1,200.6 L454.2,200.8 L452.1,200.8 L450.1,200.9 L448.2,201.2 L446.1,201.0 L444.1,201.0 L442.1,201.2 L440.1,200.7 L438.1,200.7 L436.1,201.2 L434.1,201.3 L432.1,201.2 L430.1,201.2 L428.1,201.7 L426.1,202.1 L424.2,202.7 L422.2,202.6 L420.2,202.8 L418.2,202.9 L416.2,202.8Z" fill="#005900"/>
<path d="M417.7,215.8 L419.4,214.8 L421.3,214.7 L423.1,214.5 L424.8,214.0 L426.7,214.3 L428.5,214.4 L430.2,213.5 L432.1,212.9 L434.0,213.0 L436.0,213.2 L438.0,212.8 L440.0,213.0 L442.0,213.3 L444.0,212.7 L445.9,212.3 L447.9,212.0 L449.9,211.9 L452.0,212.2 L453.9,212.0 L456.0,212.2 L458.0,212.2 L460.0,212.5 L462.0,212.3 L464.0,212.0 L466.0,212.0 L467.9,211.4 L469.9,211.3 L471.9,211.0 L473.9,211.3 L475.9,211.1 L477.9,211.0 L479.9,210.5 L481.9,210.3 L483.9,210.1 L485.9,210.1 L487.9,210.1 L489.9,210.2 L491.9,210.2 L493.9,210.2 L495.9,209.9 L497.9,209.7 L499.9,209.9 L501.9,210.1 L503.9,209.6 L505.9,209.3 L507.9,209.6 L509.9,209.8 L511.9,209.4 L513.9,209.1 L515.9,208.7 L517.9,208.6 L519.8,208.4 L521.9,208.6 L523.9,209.1 L525.9,209.1 L527.9,208.8 L529.9,208.7 L531.9,208.5 L533.8,208.2 L535.8,208.1 L537.8,208.2 L539.8,208.0 L541.9,208.4 L543.9,208.9 L545.8,208.2 L547.8,207.6 L549.8,206.9 L551.8,206.9 L553.8,207.1 L555.8,207.1 L557.8,207.0 L559.8,207.0 L561.8,207.0 L563.8,206.8 L565.8,207.0 L567.8,206.9 L569.8,206.7 L571.8,206.4 L573.8,206.2 L576.1,206.6 L579.2,205.8 L582.5,204.6 L583.6,204.0 L581.8,203.8 L583.0,204.4 L586.4,205.8 L589.6,205.8 L592.5,205.7 L595.9,205.2 L597.6,204.1 L596.9,203.6 L597.4,204.4 L600.3,205.6 L603.4,205.8 L605.7,205.9 L607.7,205.1 L609.7,204.9 L611.7,204.9 L613.7,205.3 L615.7,206.1 L617.7,205.8 L619.7,205.1 L621.7,205.1 L623.7,205.3 L625.7,205.1 L627.7,205.2 L629.7,205.2 L631.7,204.8 L633.7,204.9 L635.7,205.3 L637.7,205.5 L639.7,205.6 L641.7,205.2 L643.7,204.9 L645.7,204.9 L647.7,204.5 L649.7,204.1 L651.7,204.2 L653.7,203.9 L655.7,203.7 L657.7,204.4 L659.7,204.9 L661.7,204.6 L663.7,204.3 L665.7,204.4 L667.7,204.6 L669.7,204.3 L671.7,204.0 L673.7,203.7 L675.7,203.9 L677.7,204.7 L679.7,204.6 L681.7,204.9 L683.7,204.8 L685.7,204.1 L687.7,203.5 L689.7,203.7 L691.7,204.0 L693.7,203.5 L695.7,203.6 L697.7,204.1 L699.7,204.4 L701.7,203.7 L703.7,203.1 L705.7,203.7 L707.7,203.9 L709.7,203.8 L711.7,203.6 L713.7,203.6 L715.7,203.4 L717.7,203.6 L719.7,203.6 L721.7,203.5 L723.7,203.3 L725.7,203.8 L727.7,203.9 L729.7,203.5 L731.7,203.3 L733.7,203.2 L735.7,203.0 L737.7,203.0 L739.7,203.1 L741.7,203.2 L743.7,203.4 L745.7,203.1 L747.7,203.1 L749.7,203.5 L751.7,202.9 L753.7,202.5 L755.7,202.8 L757.7,202.9 L759.7,202.8 L761.7,202.7 L763.7,202.4 L765.7,202.8 L767.8,202.9 L769.8,203.0 L771.8,202.8 L773.8,202.5 L775.8,202.7 L777.8,203.0 L779.8,202.2 L781.8,202.2 L783.8,202.2 L785.9,202.6 L787.9,202.3 L789.9,202.3 L791.9,202.3 L793.9,202.6 L795.9,202.2 L797.8,201.7 L799.8,201.3 L801.8,201.4 L803.7,201.4 L805.7,201.2 L807.7,201.1 L809.7,201.0 L811.7,200.8 L813.6,201.2 L815.6,201.5 L817.6,201.1 L819.6,201.1 L821.6,201.0 L823.6,200.7 L825.6,201.0 L827.6,201.3 L829.6,201.5 L831.6,200.9 L833.6,200.7 L835.6,201.1 L837.6,200.8 L839.6,200.6 L841.6,201.2 L843.6,201.2 L845.6,200.9 L847.6,200.8 L849.6,200.9 L851.6,201.0 L853.6,201.1 L855.6,201.0 L857.6,201.3 L859.6,201.6 L861.6,201.5 L863.6,201.7 L865.6,201.0 L867.6,201.1 L869.6,201.3 L871.6,201.1 L873.6,200.9 L875.6,200.6 L877.6,200.8 L879.6,201.0 L881.6,200.9 L883.6,200.9 L885.6,200.6 L887.6,200.8 L889.6,201.3 L891.6,200.9 L893.6,200.6 L895.6,200.4 L897.6,200.5 L899.6,200.9 L901.6,200.9 L903.6,201.3 L905.6,201.3 L907.7,200.9 L909.7,200.6 L911.7,200.4 L913.7,200.6 L915.7,201.0 L917.7,201.2 L919.7,200.9 L921.7,200.6 L923.7,200.4 L925.7,200.4 L927.7,200.9 L929.7,201.1 L931.7,200.8 L933.7,200.9 L935.7,201.1 L937.7,200.5 L939.7,200.5 L941.7,201.0 L943.7,201.9 L945.7,201.7 L947.7,201.3 L949.7,201.7 L951.7,201.1 L953.7,200.9 L955.7,201.2 L957.7,201.2 L959.7,200.7 L961.7,201.2 L963.7,201.6 L965.7,201.4 L967.7,201.1 L969.7,201.0 L971.7,200.6 L973.7,200.8 L975.7,201.2 L977.7,201.2 L979.7,200.9 L981.7,200.5 L983.6,200.6 L985.6,200.5 L987.6,200.7 L989.6,200.8 L991.6,200.8 L993.6,201.2 L995.6,201.4 L997.6,201.4 L999.6,201.1 L1001.6,200.7 L1003.6,200.9 L1005.6,201.2 L1007.6,201.3 L1009.6,201.2 L1011.6,201.1 L1013.6,201.1 L1015.6,201.2 L1017.6,201.4 L1019.6,201.3 L1021.6,201.8 L1023.6,201.7 L1025.6,201.3 L1027.6,201.3 L1029.6,201.6 L1031.6,201.7 L1033.6,202.1 L1035.6,202.4 L1037.6,202.3 L1039.6,202.3 L1041.6,202.2 L1043.6,202.2 L1045.6,202.4 L1047.6,202.3 L1049.6,202.4 L1051.6,202.2 L1053.6,202.2 L1055.6,202.6 L1057.6,202.8 L1059.6,202.4 L1061.6,202.1 L1063.6,201.8 L1065.6,201.9 L1067.6,202.9 L1069.6,203.1 L1071.6,202.8 L1073.6,202.8 L1075.6,203.2 L1077.6,203.2 L1079.6,202.9 L1081.6,202.5 L1083.6,202.9 L1085.6,203.1 L1087.5,203.3 L1089.6,203.1 L1091.5,203.4 L1093.5,203.5 L1095.6,202.9 L1097.5,203.0 L1099.5,203.3 L1101.5,203.5 L1103.5,203.6 L1105.5,204.2 L1107.5,204.7 L1109.5,204.3 L1111.5,204.0 L1113.5,203.2 L1115.5,203.5 L1117.5,204.3 L1119.4,204.7 L1121.4,204.9 L1123.4,205.1 L1125.4,204.9 L1127.4,204.8 L1129.4,204.7 L1131.4,204.7 L1133.3,204.7 L1135.3,205.3 L1137.3,204.9 L1139.3,204.9 L1141.2,205.6 L1143.1,206.2 L1145.1,206.6 L1147.1,206.8 L1149.1,206.4 L1151.1,206.2 L1153.1,206.5 L1155.1,206.7 L1157.0,207.3 L1159.0,207.6 L1161.0,207.3 L1163.1,207.0 L1165.1,207.2 L1167.0,207.4 L1169.0,208.3 L1170.9,208.7 L1172.9,209.0 L1174.9,209.1 L1176.9,209.0 L1178.8,209.8 L1180.8,210.2 L1182.8,210.1 L1184.8,209.6 L1186.8,209.7 L1188.8,210.2 L1190.8,210.4 L1192.7,211.0 L1194.7,211.1 L1196.6,211.5 L1198.5,211.9 L1200.5,212.1 L1202.5,212.1 L1204.4,212.8 L1206.3,213.4 L1208.3,213.2 L1210.3,213.1 L1212.2,213.7 L1213.9,214.9 L1215.9,215.2 L1217.9,215.2 L1219.7,215.7 L1221.6,216.4 L1223.5,216.8 L1225.4,217.1 L1227.3,217.6 L1229.3,217.6 L1231.1,218.4 L1233.0,219.0 L1234.9,219.3 L1237.0,219.5 L1238.9,219.8 L1240.6,220.9 L1242.5,221.5 L1244.6,221.6 L1246.5,222.0 L1248.3,223.0 L1250.2,223.7 L1252.2,223.9 L1254.0,224.9 L1255.8,225.7 L1257.7,226.4 L1259.5,227.3 L1261.4,227.9 L1263.5,228.0 L1265.5,228.3 L1267.4,229.1 L1269.1,230.2 L1271.0,230.9 L1273.0,231.3 L1275.0,231.6 L1277.0,232.1 L1279.0,232.4 L1281.0,232.7 L1282.9,233.4 L1284.7,234.4 L1286.5,235.4 L1288.5,235.9 L1290.4,236.4 L1292.3,236.9 L1294.1,238.1 L1296.0,238.6 L1298.1,238.7 L1300.1,239.0 L1302.0,239.7 L1304.0,239.8 L1305.9,240.3 L1307.8,241.1 L1309.7,241.7 L1311.6,242.5 L1313.5,243.0 L1315.4,243.5 L1317.5,243.6 L1319.4,244.3 L1321.2,245.1 L1323.2,245.4 L1325.2,245.7 L1327.2,246.1 L1329.1,246.7 L1331.0,247.2 L1332.9,247.8 L1334.8,248.7 L1336.7,249.2 L1338.5,250.4 L1340.3,251.2 L1342.3,251.7 L1344.1,252.4 L1346.2,252.5 L1348.3,252.6 L1350.2,253.2 L1352.2,253.5 L1354.1,254.3 L1355.9,255.2 L1357.8,255.9 L1359.8,256.3 L1361.8,256.6 L1363.8,257.0 L1365.8,257.2 L1367.7,257.9 L1369.5,258.7 L1371.5,258.9 L1373.5,259.4 L1375.3,260.1 L1377.1,260.9 L1379.0,261.5 L1381.0,261.7 L1383.0,261.9 L1385.0,262.0 L1386.9,262.6 L1388.7,263.2 L1390.4,264.3 L1392.2,265.0 L1393.9,266.0 L1395.6,266.6 L1397.3,267.3 L1399.1,267.9 L1400.8,268.4 L1402.3,269.3 L1403.8,270.1 L1405.2,271.1 L1406.5,272.1 L1407.4,273.6 L1408.6,274.7 L1409.7,276.0 L1410.9,277.1 L1412.0,278.4 L1412.9,280.0 L1413.8,281.5 L1415.1,282.7 L1415.7,284.4 L1416.1,286.2 L1417.2,287.7 L1418.9,289.0 L1419.6,290.7 L1420.1,292.6 L1420.5,294.6 L1421.1,296.5 L1422.1,298.2 L1422.7,300.2 L1423.4,302.1 L1424.9,303.7 L1425.4,305.7 L1426.0,307.7 L1426.8,309.6 L1427.8,311.4 L1428.4,313.4 L1429.4,315.2 L1430.4,317.0 L1431.8,318.6 L1432.8,320.4 L1433.7,322.3 L1434.2,324.3 L1435.0,326.2 L1436.4,327.8 L1437.4,329.6 L1438.1,331.5 L1439.2,333.2 L1440.3,334.9 L1441.4,336.6 L1442.7,338.1 L1443.8,339.7 L1444.9,341.3 L1445.4,343.3 L1446.6,345.0 L1447.2,346.9 L1448.3,348.5 L1449.7,350.0 L1450.8,351.6 L1451.6,353.4 L1452.5,355.2 L1453.3,357.0 L1454.2,358.7 L1455.0,360.6 L1455.8,362.4 L1456.4,364.3 L1457.3,366.0 L1457.7,368.0 L1459.2,369.5 L1460.3,371.1 L1460.9,373.0 L1461.8,374.7 L1462.3,376.6 L1462.9,378.5 L1464.2,380.1 L1465.2,381.7 L1465.8,383.6 L1466.2,385.5 L1466.7,387.5 L1467.4,389.3 L1468.4,391.0 L1469.2,392.9 L1469.8,394.8 L1470.5,396.7 L1471.2,398.6 L1471.7,400.6 L1472.8,402.4 L1473.7,404.3 L1474.4,406.2 L1475.8,407.9 L1476.8,409.7 L1477.3,411.8 L1478.0,413.7 L1479.1,415.5 L1479.9,417.4 L1480.7,419.2 L1481.9,420.9 L1482.5,422.8 L1483.5,424.5 L1484.7,426.2 L1485.4,428.1 L1486.2,429.9 L1487.1,431.8 L1488.0,433.6 L1489.4,435.1 L1490.5,436.8 L1491.6,438.5 L1492.4,440.4 L1493.3,442.2 L1494.3,443.9 L1495.0,445.9 L1496.2,447.5 L1497.4,449.2 L1498.6,450.9 L1499.2,452.8 L1500.2,454.7 L1501.4,456.3 L1502.8,457.8 L1503.5,459.8 L1504.8,461.4 L1506.3,462.8 L1507.5,464.5 L1508.8,466.0 L1509.5,468.0 L1510.3,469.9 L1511.7,471.4 L1512.7,473.1 L1514.0,474.7 L1515.4,476.2 L1516.1,478.2 L1516.8,480.1 L1518.1,481.7 L1519.6,483.1 L1520.4,484.9 L1521.5,486.6 L1522.9,488.1 L1524.2,489.7 L1525.0,491.6 L1526.5,493.0 L1527.6,494.7 L1528.6,496.6 L1530.0,498.1 L1531.1,499.9 L1532.0,501.7 L1533.5,503.3 L1534.8,504.9 L1536.2,506.4 L1537.8,507.8 L1539.2,509.4 L1540.6,511.0 L1541.8,512.7 L1543.0,514.4 L1544.2,516.2 L1546.1,517.3 L1547.6,518.7 L1548.8,520.5 L1550.5,521.9 L1552.5,522.7 L1554.3,523.8 L1556.0,525.0 L1557.6,526.4 L1559.2,527.7 L1561.0,528.8 L1562.7,530.0 L1564.4,531.2 L1566.3,532.0 L1568.2,532.9 L1569.7,534.3 L1571.5,535.2 L1573.5,535.8 L1575.3,536.8 L1576.8,538.0 L1578.6,538.9 L1580.3,540.0 L1581.8,541.3 L1583.2,542.7 L1585.0,543.5 L1587.0,544.1 L1588.9,544.9 L1590.8,545.6 L1592.0,547.3 L1593.1,549.4 L1594.7,550.5 L1596.7,551.1 L1598.7,551.6 L1600.5,552.6 L1601.8,554.2 L1603.6,555.1 L1605.3,556.2 L1606.6,557.7 L1608.3,558.8 L1610.2,559.6 L1611.8,560.8 L1613.3,562.1 L1615.2,562.9 L1616.9,564.0 L1618.7,564.9 L1620.3,566.0 L1621.9,567.2 L1623.4,568.6 L1625.0,569.8 L1626.6,571.0 L1628.3,571.9 L1629.8,573.3 L1631.5,574.2 L1633.2,575.1 L1634.6,576.7 L1636.1,577.9 L1638.0,578.6 L1639.5,579.9 L1641.3,580.7 L1642.7,582.1 L1643.6,584.1 L1645.1,585.3 L1646.8,586.3 L1648.3,587.5 L1649.5,589.0 L1650.7,590.6 L1652.2,591.7 L1653.9,592.7 L1655.4,593.9 L1656.7,595.3 L1658.3,596.3 L1659.4,597.9 L1660.4,599.7 L1661.8,601.0 L1663.2,602.3 L1664.6,603.7 L1665.8,605.3 L1666.9,607.0 L1668.0,608.7 L1669.2,610.4 L1670.5,611.9 L1672.1,613.1 L1673.2,614.9 L1674.4,616.5 L1675.6,618.0 L1676.9,619.5 L1678.1,621.1 L1679.4,622.6 L1680.5,624.2 L1681.8,625.6 L1683.2,627.0 L1684.8,628.2 L1686.0,629.8 L1686.7,631.7 L1687.9,633.2 L1689.1,634.8 L1689.9,636.5 L1690.8,638.3 L1692.1,639.8 L1693.7,641.0 L1694.8,642.6 L1695.4,644.5 L1696.1,646.4 L1697.1,648.0 L1698.2,649.7 L1699.0,651.5 L1699.8,653.3 L1700.9,655.0 L1702.1,656.7 L1703.1,658.4 L1704.3,660.1 L1705.3,661.8 L1706.2,663.6 L1707.4,665.3 L1708.4,667.0 L1709.3,668.8 L1710.2,670.6 L1711.3,672.3 L1712.4,674.0 L1713.8,675.5 L1714.7,677.2 L1716.1,678.7 L1716.8,680.5 L1717.5,682.4 L1718.5,684.1 L1719.7,685.7 L1720.6,687.4 L1721.3,689.3 L1722.5,690.8 L1723.3,692.6 L1723.9,694.5 L1724.7,696.3 L1725.9,697.9 L1727.0,699.6 L1727.5,701.5 L1728.7,703.1 L1729.2,705.1 L1730.0,706.9 L1731.0,708.6 L1731.8,710.4 L1732.3,712.3 L1732.7,714.3 L1733.7,716.0 L1734.8,717.6 L1735.2,719.6 L1735.7,721.5 L1736.7,723.2 L1738.1,724.7 L1738.7,726.6 L1739.1,728.5 L1740.0,730.3 L1740.9,732.0 L1741.2,734.0 L1742.2,735.8 L1743.4,737.4 L1743.7,739.4 L1743.7,741.6 L1743.8,743.6 L1744.8,745.4 L1745.9,747.2 L1746.6,749.1 L1747.3,751.0 L1747.5,753.0 L1748.0,755.0 L1748.6,757.0 L1749.3,758.9 L1750.0,760.8 L1751.2,762.5 L1752.3,764.2 L1752.9,766.2 L1753.4,768.1 L1754.3,770.0 L1755.0,771.9 L1755.6,773.7 L1756.2,775.7 L1756.8,777.6 L1757.2,779.6 L1757.8,781.5 L1758.8,783.2 L1759.9,784.9 L1761.1,786.6 L1761.9,788.4 L1762.5,790.3 L1763.1,792.2 L1763.9,794.0 L1764.2,796.0 L1764.8,797.9 L1765.6,799.7 L1766.2,801.6 L1767.0,803.4 L1767.9,805.2 L1768.5,807.1 L1768.8,809.1 L1769.4,811.0 L1770.1,812.9 L1770.4,814.9 L1771.1,816.7 L1772.1,818.5 L1772.8,820.3 L1773.1,822.3 L1773.6,824.2 L1774.8,825.9 L1775.9,827.6 L1776.2,829.6 L1776.5,831.6 L1777.4,833.4 L1777.8,835.3 L1777.6,837.5 L1778.5,839.4 L1779.6,841.1 L1780.4,843.0 L1780.4,845.1 L1781.1,847.1 L1781.3,849.2 L1781.9,851.2 L1782.9,853.1 L1783.6,855.1 L1784.2,857.1 L1785.3,858.9 L1786.3,860.8 L1787.2,862.7 L1787.9,864.6 L1788.3,866.7 L1789.5,868.3 L1791.0,869.8 L1791.9,871.5 L1792.5,873.3 L1793.2,875.0 L1794.0,876.7 L1795.1,878.3 L1795.8,880.1 L1795.9,882.1 L1796.5,883.9 L1797.2,885.7 L1798.0,887.5 L1798.1,889.5 L1798.7,891.5 L1799.1,893.4 L1800.0,895.2 L1801.2,897.0 L1801.7,898.9 L1802.4,900.8 L1803.1,902.8 L1803.1,904.9 L1803.4,907.0 L1804.6,908.7 L1805.5,910.5 L1806.7,912.3 L1807.2,914.2 L1807.6,916.3 L1807.8,918.3 L1808.3,920.3 L1809.6,921.9 L1810.6,923.7 L1810.8,925.7 L1812.1,927.4 L1812.9,929.2 L1813.4,931.1 L1813.8,933.1 L1814.3,935.0 L1814.7,937.0 L1815.5,938.8 L1816.4,940.6 L1817.0,942.4 L1817.6,944.3 L1818.8,946.0 L1819.5,947.9 L1819.5,950.0 L1819.9,951.9 L1820.6,953.8 L1821.2,955.7 L1822.2,957.5 L1822.3,959.5 L1823.0,961.4 L1824.1,963.2 L1824.6,965.1 L1825.2,967.1 L1825.9,968.9 L1826.5,970.8 L1827.1,972.8 L1827.9,974.6 L1828.6,976.5 L1828.8,978.5 L1829.7,980.4 L1830.6,982.2 L1831.1,984.1 L1832.1,985.9 L1832.6,987.9 L1832.8,989.9 L1833.6,991.8 L1833.9,993.8 L1834.1,995.9 L1834.7,997.8 L1836.1,999.4 L1837.1,1001.2 L1838.2,1003.0 L1838.7,1004.9 L1839.0,1007.0 L1839.7,1008.9 L1839.9,1010.9 L1841.3,1012.6 L1842.6,1014.2 L1842.7,1016.3 L1842.8,1018.4 L1843.8,1020.2 L1845.0,1021.9 L1845.9,1023.7 L1846.4,1025.7 L1846.9,1027.7 L1848.2,1029.3 L1849.0,1031.1 L1849.5,1033.1 L1850.0,1035.0 L1850.7,1036.9 L1851.2,1038.9 L1851.7,1040.9 L1852.6,1042.7 L1853.4,1044.6 L1854.1,1046.5 L1854.9,1048.3 L1856.1,1050.1 L1857.2,1051.8 L1858.5,1053.5 L1859.2,1055.4 L1859.7,1057.4 L1860.4,1059.4 L1860.9,1061.4 L1861.8,1063.3 L1862.9,1065.0 L1863.4,1067.1 L1864.3,1068.8 L1865.6,1070.5 L1866.9,1072.1 L1867.9,1073.8 L1868.8,1075.7 L1869.7,1077.5 L1870.8,1079.2 L1871.5,1081.1 L1872.9,1082.7 L1874.1,1084.3 L1875.0,1086.2 L1875.7,1088.1 L1876.7,1089.8 L1878.0,1091.5 L1879.5,1092.9 L1880.8,1094.5 L1881.6,1096.3 L1882.3,1098.3 L1883.3,1100.1 L1884.6,1101.7 L1885.7,1103.3 L1886.8,1105.0 L1888.0,1106.7 L1889.0,1108.5 L1889.9,1110.3 L1891.3,1111.8 L1892.6,1113.3 L1893.5,1115.2 L1894.5,1117.0 L1895.5,1118.8 L1896.8,1120.4 L1898.0,1122.0 L1899.3,1123.6 L1900.6,1125.2 L1901.5,1127.1 L1902.8,1128.6 L1904.5,1130.0 L1905.6,1131.7 L1906.6,1133.6 L1907.6,1135.4 L1909.0,1136.9 L1910.3,1138.5 L1912.0,1139.8 L1913.2,1141.5 L1914.9,1142.8 L1916.5,1144.1 L1918.0,1145.5 L1919.1,1147.4 L1920.7,1148.7 L1922.8,1149.6 L1924.3,1151.0 L1925.1,1153.1 L1927.0,1154.2 L1928.9,1155.1 L1930.4,1156.5 L1931.8,1158.1 L1933.2,1159.6 L1934.9,1160.9 L1936.7,1161.9 L1938.5,1163.1 L1940.1,1164.4 L1941.9,1165.3 L1943.4,1166.9 L1945.0,1168.1 L1947.0,1168.9 L1948.8,1169.8 L1950.4,1171.2 L1952.0,1172.5 L1953.5,1174.0 L1955.2,1175.2 L1957.3,1175.7 L1959.3,1176.3 L1961.3,1177.1 L1963.0,1178.2 L1964.8,1179.3 L1966.5,1180.3 L1968.4,1181.3 L1970.4,1181.9 L1972.4,1182.5 L1974.2,1183.3 L1976.0,1184.3 L1978.0,1185.0 L1979.8,1186.1 L1981.8,1186.5 L1983.8,1187.0 L1985.5,1188.2 L1987.4,1189.0 L1989.1,1190.1 L1991.0,1190.9 L1992.9,1191.6 L1994.8,1192.1 L1996.8,1192.6 L1998.5,1193.7 L2000.2,1194.9 L2002.3,1195.0 L2004.3,1195.3 L2006.1,1196.0 L2008.0,1196.7 L2009.7,1197.8 L2011.4,1199.0 L2013.6,1199.1 L2015.6,1199.6 L2017.4,1200.6 L2019.3,1201.3 L2021.4,1201.6 L2023.4,1202.1 L2025.2,1203.3 L2027.0,1204.4 L2029.0,1204.9 L2031.1,1205.1 L2033.1,1205.5 L2035.2,1205.8 L2037.2,1206.3 L2039.1,1207.2 L2041.1,1207.8 L2043.2,1208.1 L2045.3,1208.5 L2047.4,1208.7 L2049.4,1208.9 L2051.5,1209.5 L2053.5,1210.0 L2055.6,1210.1 L2057.7,1209.9 L2059.7,1209.9 L2061.8,1210.5 L2063.8,1210.6 L2065.8,1210.7 L2067.8,1210.7 L2069.9,1210.5 L2071.9,1210.8 L2073.9,1211.1 L2075.9,1210.8 L2078.0,1210.7 L2080.0,1211.0 L2082.0,1211.3 L2084.0,1211.8 L2086.0,1211.7 L2088.0,1211.7 L2090.1,1211.3 L2092.1,1211.3 L2094.1,1211.5 L2096.1,1211.4 L2098.2,1211.4 L2100.2,1211.3 L2102.2,1211.3 L2104.2,1211.4 L2106.2,1211.8 L2108.2,1211.4 L2110.2,1211.3 L2112.2,1211.4 L2114.2,1211.4 L2116.2,1211.0 L2118.2,1210.9 L2120.2,1211.3 L2122.2,1211.8 L2124.2,1211.4 L2126.2,1211.2 L2128.2,1211.3 L2130.2,1211.6 L2132.2,1211.5 L2134.2,1211.3 L2136.2,1211.1 L2138.2,1211.0 L2140.2,1211.0 L2142.2,1211.1 L2144.2,1211.0 L2146.2,1210.9 L2148.2,1210.9 L2150.2,1211.3 L2152.2,1211.2 L2154.2,1210.9 L2156.2,1211.1 L2158.2,1211.3 L2160.2,1211.8 L2162.2,1211.8 L2164.2,1211.0 L2166.2,1211.1 L2168.2,1211.4 L2170.2,1211.4 L2172.2,1211.7 L2174.2,1211.4 L2176.2,1211.0 L2178.2,1211.0 L2180.2,1211.5 L2182.2,1212.3 L2184.2,1212.0 L2186.2,1211.2 L2188.2,1211.2 L2190.2,1211.1 L2192.2,1211.3 L2194.2,1211.3 L2196.2,1211.4 L2198.2,1211.4 L2200.3,1211.7 L2202.3,1211.7 L2204.3,1211.6 L2206.3,1211.4 L2208.3,1211.5 L2210.3,1212.0 L2212.3,1211.7 L2214.3,1211.4 L2216.3,1211.7 L2218.3,1211.6 L2220.3,1211.1 L2222.3,1211.3 L2224.3,1211.5 L2226.3,1211.6 L2228.3,1211.9 L2230.3,1212.4 L2232.3,1212.0 L2234.3,1211.6 L2236.3,1211.1 L2238.3,1211.0 L2240.3,1211.2 L2242.3,1211.2 L2244.3,1211.0 L2246.3,1211.2 L2248.3,1211.2 L2250.3,1211.4 L2252.3,1211.2 L2254.3,1211.3 L2256.3,1211.5 L2258.3,1211.2 L2260.3,1211.0 L2262.3,1211.1 L2264.3,1211.4 L2266.3,1211.5 L2268.3,1211.7 L2270.3,1211.8 L2272.3,1211.8 L2274.3,1211.6 L2276.3,1211.8 L2278.3,1211.6 L2280.3,1211.2 L2282.3,1211.7 L2284.3,1211.8 L2286.3,1211.3 L2288.3,1210.8 L2290.3,1210.7 L2292.3,1210.9 L2294.3,1210.7 L2296.3,1210.7 L2298.3,1210.5 L2300.3,1210.8 L2302.4,1211.5 L2304.4,1211.2 L2306.4,1211.1 L2308.4,1211.3 L2310.4,1211.3 L2312.4,1211.0 L2314.6,1210.7 L2316.5,1209.4 L2317.7,1207.5 L2318.2,1205.2 L2317.7,1203.0 L2316.4,1201.1 L2314.5,1199.9 L2312.2,1199.9 L2310.2,1199.5 L2308.2,1199.1 L2306.2,1199.1 L2304.2,1199.3 L2302.2,1198.9 L2300.2,1198.8 L2298.2,1199.0 L2296.2,1199.1 L2294.3,1199.5 L2292.3,1199.6 L2290.3,1199.5 L2288.3,1199.4 L2286.3,1199.8 L2284.3,1199.8 L2282.3,1200.1 L2280.3,1200.2 L2278.3,1200.3 L2276.3,1200.5 L2274.3,1200.1 L2272.3,1200.0 L2270.3,1199.5 L2268.3,1199.7 L2266.3,1200.0 L2264.3,1200.0 L2262.3,1199.5 L2260.3,1199.4 L2258.3,1199.5 L2256.3,1199.5 L2254.3,1199.3 L2252.3,1199.5 L2250.3,1200.1 L2248.3,1200.1 L2246.3,1199.9 L2244.3,1199.8 L2242.3,1199.5 L2240.3,1199.2 L2238.3,1199.4 L2236.3,1199.5 L2234.3,1199.7 L2232.3,1199.9 L2230.3,1200.5 L2228.3,1200.6 L2226.3,1200.2 L2224.3,1200.5 L2222.3,1200.1 L2220.3,1199.2 L2218.3,1199.0 L2216.3,1199.3 L2214.3,1199.5 L2212.3,1199.6 L2210.3,1199.8 L2208.3,1200.3 L2206.3,1200.1 L2204.3,1200.1 L2202.3,1200.2 L2200.2,1199.7 L2198.2,1199.3 L2196.2,1199.4 L2194.2,1199.4 L2192.2,1199.8 L2190.2,1200.2 L2188.2,1199.5 L2186.2,1199.7 L2184.2,1200.0 L2182.2,1200.2 L2180.2,1199.7 L2178.2,1199.2 L2176.2,1199.9 L2174.2,1199.3 L2172.2,1199.3 L2170.2,1199.5 L2168.2,1200.1 L2166.2,1199.9 L2164.2,1199.6 L2162.2,1199.4 L2160.2,1199.6 L2158.2,1199.7 L2156.2,1199.9 L2154.2,1200.2 L2152.2,1200.2 L2150.2,1199.7 L2148.2,1199.7 L2146.2,1199.7 L2144.2,1200.0 L2142.2,1199.8 L2140.2,1199.2 L2138.2,1199.3 L2136.2,1199.8 L2134.2,1200.1 L2132.2,1200.1 L2130.2,1199.6 L2128.2,1199.8 L2126.2,1199.6 L2124.2,1199.8 L2122.2,1199.9 L2120.2,1199.6 L2118.2,1199.7 L2116.2,1199.8 L2114.2,1200.0 L2112.2,1200.2 L2110.2,1199.9 L2108.2,1199.4 L2106.2,1199.3 L2104.2,1199.7 L2102.2,1199.6 L2100.2,1199.4 L2098.2,1199.3 L2096.3,1199.3 L2094.3,1200.0 L2092.3,1199.7 L2090.3,1199.5 L2088.3,1199.6 L2086.3,1199.5 L2084.3,1199.3 L2082.3,1199.1 L2080.3,1199.4 L2078.3,1199.6 L2076.4,1199.7 L2074.4,1199.4 L2072.4,1199.0 L2070.4,1198.9 L2068.5,1198.7 L2066.5,1198.7 L2064.5,1198.3 L2062.6,1197.9 L2060.7,1198.1 L2058.7,1198.2 L2056.8,1197.8 L2055.0,1197.3 L2053.1,1196.9 L2051.2,1196.7 L2049.3,1196.8 L2047.4,1196.4 L2045.5,1196.3 L2043.6,1196.1 L2041.8,1195.6 L2039.9,1195.2 L2038.0,1194.7 L2036.2,1194.0 L2034.4,1193.5 L2032.4,1193.3 L2030.6,1192.5 L2028.9,1191.5 L2027.1,1190.7 L2025.2,1190.6 L2023.3,1190.1 L2021.5,1189.2 L2019.7,1188.6 L2018.0,1187.4 L2016.0,1187.2 L2014.0,1186.7 L2012.4,1185.4 L2010.4,1185.0 L2008.3,1184.7 L2006.6,1183.7 L2004.7,1182.9 L2002.8,1182.3 L2000.8,1181.7 L1999.0,1180.8 L1997.0,1180.4 L1995.3,1179.4 L1993.6,1178.2 L1991.7,1177.7 L1989.7,1177.3 L1987.7,1177.0 L1986.0,1176.1 L1984.2,1175.5 L1982.6,1174.3 L1980.9,1173.3 L1978.8,1173.1 L1977.2,1172.1 L1975.6,1170.8 L1973.9,1169.9 L1972.2,1169.1 L1970.2,1168.6 L1968.5,1167.7 L1966.8,1166.7 L1965.0,1166.0 L1963.1,1165.5 L1961.7,1164.0 L1960.2,1162.7 L1958.5,1161.8 L1956.7,1161.0 L1955.1,1159.9 L1953.7,1158.6 L1952.1,1157.4 L1950.3,1156.6 L1948.6,1155.7 L1947.0,1154.6 L1945.6,1153.3 L1944.1,1152.0 L1942.6,1150.8 L1941.0,1149.7 L1939.3,1148.7 L1937.7,1147.7 L1936.2,1146.4 L1934.9,1145.1 L1933.5,1143.8 L1932.2,1142.4 L1930.6,1141.2 L1929.4,1139.8 L1928.1,1138.4 L1926.6,1137.1 L1925.3,1135.7 L1924.0,1134.4 L1922.6,1133.0 L1921.2,1131.7 L1920.2,1129.9 L1919.2,1128.3 L1917.7,1127.0 L1916.4,1125.5 L1915.6,1123.7 L1914.5,1122.1 L1913.1,1120.7 L1911.5,1119.4 L1910.2,1118.0 L1909.1,1116.4 L1908.0,1114.8 L1907.3,1112.9 L1906.3,1111.2 L1904.8,1109.8 L1903.4,1108.4 L1902.6,1106.6 L1901.1,1105.2 L1900.1,1103.5 L1899.1,1101.8 L1898.0,1100.1 L1897.4,1098.1 L1896.6,1096.3 L1895.2,1094.9 L1893.7,1093.5 L1892.5,1091.9 L1891.4,1090.2 L1890.6,1088.4 L1889.7,1086.6 L1888.8,1084.9 L1887.8,1083.2 L1886.7,1081.6 L1886.2,1079.6 L1884.7,1078.1 L1883.4,1076.6 L1882.5,1074.9 L1881.7,1073.0 L1880.8,1071.2 L1879.8,1069.5 L1878.8,1067.9 L1877.9,1066.1 L1876.8,1064.5 L1876.0,1062.7 L1874.8,1061.0 L1873.6,1059.5 L1873.0,1057.6 L1873.0,1055.4 L1871.7,1053.9 L1870.9,1052.1 L1870.1,1050.3 L1868.6,1048.9 L1867.4,1047.3 L1867.0,1045.3 L1866.7,1043.3 L1865.8,1041.6 L1864.6,1039.9 L1864.0,1038.1 L1863.7,1036.0 L1862.9,1034.2 L1862.3,1032.3 L1861.6,1030.5 L1860.6,1028.7 L1859.6,1026.9 L1859.4,1024.9 L1858.5,1023.1 L1857.6,1021.3 L1857.3,1019.3 L1856.9,1017.3 L1855.4,1015.8 L1854.7,1013.9 L1854.5,1011.9 L1854.1,1009.9 L1853.1,1008.1 L1852.5,1006.3 L1851.8,1004.4 L1850.6,1002.7 L1849.9,1000.8 L1849.0,999.0 L1848.1,997.3 L1847.7,995.3 L1847.2,993.4 L1846.5,991.5 L1845.8,989.6 L1845.4,987.7 L1844.3,985.9 L1844.1,983.9 L1843.7,981.9 L1842.6,980.2 L1842.1,978.3 L1842.0,976.2 L1841.5,974.3 L1840.2,972.6 L1838.9,970.9 L1838.4,969.0 L1838.1,967.0 L1838.1,964.9 L1837.3,963.1 L1836.0,961.4 L1835.9,959.3 L1836.0,957.2 L1835.2,955.4 L1834.2,953.6 L1833.5,951.7 L1832.9,949.8 L1832.6,947.8 L1831.9,945.9 L1830.8,944.1 L1829.8,942.3 L1829.3,940.3 L1828.9,938.3 L1828.4,936.4 L1827.7,934.5 L1826.6,932.7 L1826.2,930.7 L1825.7,928.8 L1824.9,926.9 L1824.5,924.9 L1823.6,923.1 L1822.6,921.3 L1822.5,919.2 L1822.0,917.2 L1820.6,915.6 L1819.3,914.0 L1819.1,911.9 L1818.8,910.0 L1818.1,908.1 L1817.6,906.2 L1816.5,904.5 L1815.7,902.7 L1815.6,900.6 L1814.8,898.8 L1814.1,897.0 L1813.9,895.0 L1813.2,893.1 L1811.9,891.4 L1811.3,889.5 L1810.8,887.6 L1810.5,885.5 L1810.1,883.5 L1809.1,881.7 L1808.6,879.7 L1808.5,877.5 L1807.6,875.6 L1806.6,873.7 L1805.5,871.9 L1804.6,870.0 L1803.6,868.1 L1802.7,866.3 L1802.1,864.3 L1801.1,862.5 L1799.8,860.9 L1799.0,859.1 L1798.2,857.4 L1797.8,855.4 L1796.9,853.8 L1795.6,852.3 L1795.1,850.5 L1794.4,848.8 L1793.9,847.0 L1793.3,845.2 L1792.7,843.3 L1792.1,841.5 L1791.6,839.6 L1790.9,837.8 L1790.6,835.8 L1790.2,833.8 L1789.6,831.9 L1789.0,830.0 L1788.6,828.0 L1788.4,826.0 L1787.8,824.0 L1786.7,822.2 L1785.6,820.4 L1784.5,818.6 L1784.1,816.6 L1783.6,814.6 L1782.8,812.8 L1782.3,810.8 L1781.9,808.8 L1781.4,806.9 L1780.7,805.0 L1779.9,803.1 L1779.7,801.1 L1779.2,799.1 L1778.5,797.2 L1777.8,795.3 L1777.0,793.4 L1775.9,791.7 L1775.2,789.8 L1774.3,788.0 L1774.3,785.9 L1773.5,784.0 L1772.5,782.2 L1771.5,780.4 L1770.7,778.6 L1770.1,776.6 L1769.5,774.7 L1768.4,773.0 L1767.9,771.0 L1767.0,769.2 L1766.3,767.4 L1765.7,765.4 L1765.0,763.6 L1764.2,761.8 L1763.4,760.0 L1763.0,758.0 L1762.6,756.0 L1762.3,754.0 L1761.4,752.3 L1760.5,750.5 L1759.8,748.7 L1759.1,746.8 L1758.9,744.8 L1757.9,743.0 L1756.8,741.3 L1756.1,739.4 L1756.2,737.3 L1755.7,735.3 L1754.6,733.6 L1753.8,731.7 L1753.3,729.7 L1752.2,728.0 L1751.3,726.1 L1751.2,724.0 L1750.4,722.1 L1749.9,720.1 L1749.3,718.2 L1748.2,716.4 L1747.3,714.6 L1746.8,712.6 L1745.9,710.7 L1744.8,708.9 L1743.8,707.2 L1742.8,705.4 L1741.5,703.8 L1741.2,701.6 L1741.2,699.4 L1740.1,697.6 L1738.8,696.0 L1738.2,694.1 L1737.5,692.1 L1736.2,690.5 L1735.1,688.8 L1733.9,687.1 L1733.1,685.2 L1732.1,683.4 L1731.3,681.5 L1730.1,679.9 L1728.9,678.2 L1728.6,676.0 L1727.8,674.2 L1726.5,672.6 L1725.3,670.9 L1723.8,669.4 L1722.8,667.7 L1721.8,665.9 L1721.0,664.1 L1720.2,662.3 L1719.0,660.7 L1718.3,658.8 L1717.1,657.2 L1716.0,655.5 L1715.0,653.8 L1714.0,652.1 L1712.8,650.5 L1711.6,648.9 L1710.6,647.2 L1709.8,645.3 L1709.4,643.2 L1707.9,641.7 L1706.6,640.1 L1705.7,638.2 L1704.7,636.4 L1703.7,634.6 L1702.7,632.8 L1701.7,631.0 L1700.6,629.2 L1698.8,627.9 L1697.3,626.5 L1696.4,624.6 L1695.7,622.6 L1694.5,621.0 L1693.3,619.3 L1691.7,617.9 L1690.1,616.6 L1688.8,615.0 L1687.4,613.5 L1685.6,612.3 L1684.7,610.5 L1684.2,608.2 L1682.9,606.7 L1681.3,605.4 L1679.7,604.2 L1678.9,602.2 L1677.9,600.5 L1676.3,599.2 L1675.5,597.3 L1674.1,595.8 L1672.5,594.5 L1671.1,593.0 L1669.4,591.8 L1668.1,590.1 L1666.5,588.7 L1665.3,587.0 L1663.9,585.5 L1662.3,584.1 L1660.7,582.8 L1659.3,581.3 L1657.9,579.7 L1656.7,577.9 L1654.9,576.9 L1653.3,575.6 L1651.7,574.2 L1650.1,572.9 L1648.4,571.7 L1646.7,570.6 L1645.2,569.2 L1643.6,567.9 L1641.8,566.9 L1640.1,565.7 L1638.4,564.7 L1636.7,563.5 L1635.1,562.2 L1633.6,560.8 L1632.1,559.5 L1630.3,558.5 L1628.8,557.1 L1627.2,555.9 L1625.4,554.9 L1623.5,554.2 L1621.9,553.0 L1620.5,551.5 L1618.8,550.3 L1616.8,549.8 L1615.0,548.8 L1613.6,547.4 L1612.1,546.0 L1610.6,544.6 L1608.8,543.7 L1607.0,542.8 L1605.4,541.6 L1603.5,540.7 L1601.5,540.2 L1599.8,539.1 L1598.4,537.5 L1596.7,536.4 L1595.2,535.0 L1593.5,533.9 L1592.1,532.4 L1590.2,531.5 L1588.2,530.9 L1586.2,530.3 L1584.7,528.8 L1583.2,527.3 L1581.3,526.5 L1579.6,525.3 L1577.8,524.2 L1576.1,523.2 L1574.4,522.1 L1572.5,521.3 L1570.9,520.3 L1569.1,519.5 L1567.5,518.4 L1565.9,517.3 L1564.2,516.5 L1562.7,515.4 L1561.5,514.0 L1560.0,513.0 L1558.5,512.1 L1557.0,511.1 L1555.7,509.9 L1554.4,508.6 L1553.2,507.3 L1552.1,505.9 L1550.7,504.7 L1549.5,503.3 L1548.4,501.8 L1547.1,500.3 L1546.0,498.8 L1545.0,497.1 L1543.7,495.7 L1542.4,494.2 L1542.0,492.0 L1540.5,490.6 L1538.8,489.4 L1537.7,487.7 L1536.7,485.9 L1535.7,484.1 L1534.8,482.3 L1533.2,480.9 L1532.0,479.3 L1531.1,477.5 L1529.4,476.2 L1528.3,474.6 L1527.1,473.0 L1526.3,471.1 L1525.2,469.4 L1524.1,467.8 L1523.0,466.1 L1521.8,464.5 L1520.5,463.0 L1519.7,461.2 L1519.0,459.3 L1517.4,458.0 L1516.1,456.5 L1515.2,454.7 L1514.2,453.0 L1513.4,451.2 L1512.0,449.7 L1511.3,447.9 L1510.9,445.8 L1509.2,444.5 L1507.7,443.1 L1506.9,441.3 L1505.6,439.8 L1504.7,438.0 L1504.3,436.0 L1503.6,434.1 L1502.4,432.5 L1501.2,430.9 L1500.5,429.1 L1499.2,427.5 L1498.3,425.7 L1497.5,423.9 L1496.7,422.0 L1496.0,420.2 L1495.3,418.3 L1494.4,416.5 L1493.2,414.9 L1492.1,413.2 L1491.1,411.5 L1489.7,410.0 L1488.5,408.4 L1487.9,406.6 L1487.5,404.6 L1487.0,402.7 L1486.0,401.1 L1485.2,399.4 L1484.6,397.5 L1484.0,395.7 L1483.4,393.8 L1483.1,391.9 L1482.4,390.0 L1481.4,388.3 L1480.1,386.6 L1479.1,384.8 L1478.3,383.0 L1477.9,380.9 L1477.3,379.0 L1476.2,377.2 L1475.2,375.4 L1475.1,373.2 L1474.1,371.4 L1473.1,369.6 L1472.0,367.9 L1471.3,365.9 L1470.6,364.0 L1469.3,362.4 L1468.4,360.6 L1467.5,358.7 L1466.2,357.1 L1465.4,355.2 L1465.2,353.1 L1464.3,351.3 L1463.1,349.6 L1462.1,347.8 L1461.2,346.0 L1460.5,344.1 L1459.4,342.3 L1458.5,340.5 L1457.3,338.8 L1456.1,337.2 L1455.1,335.4 L1454.2,333.6 L1453.0,331.9 L1452.2,330.1 L1451.3,328.3 L1450.1,326.7 L1449.6,324.6 L1448.5,323.0 L1447.2,321.5 L1446.2,319.8 L1444.9,318.3 L1444.0,316.6 L1443.3,314.7 L1442.5,313.0 L1441.7,311.2 L1440.9,309.5 L1439.7,307.9 L1438.9,306.1 L1438.5,304.2 L1437.4,302.6 L1436.5,300.8 L1435.9,299.0 L1434.9,297.3 L1434.7,295.2 L1433.9,293.4 L1432.3,291.9 L1431.7,290.0 L1431.4,287.9 L1430.6,285.9 L1429.7,284.0 L1428.8,282.0 L1427.6,280.2 L1426.7,278.2 L1425.5,276.4 L1424.0,274.6 L1423.0,272.7 L1421.6,270.9 L1419.9,269.3 L1418.2,267.9 L1416.9,266.1 L1415.5,264.1 L1413.8,262.7 L1411.9,261.5 L1410.0,260.3 L1407.9,259.5 L1405.8,258.7 L1403.9,257.6 L1402.0,256.5 L1400.1,255.6 L1398.1,255.0 L1396.1,254.2 L1394.2,253.5 L1392.1,253.0 L1390.4,251.6 L1388.5,250.8 L1386.5,250.2 L1384.5,249.7 L1382.4,249.7 L1380.4,249.3 L1378.4,248.9 L1376.6,247.9 L1374.6,247.4 L1372.7,246.9 L1370.8,246.1 L1368.8,245.6 L1366.8,245.6 L1364.9,244.8 L1362.9,244.6 L1360.9,244.4 L1358.9,244.0 L1357.1,243.1 L1355.3,242.3 L1353.4,241.5 L1351.5,241.1 L1349.6,240.5 L1347.7,239.8 L1345.7,239.7 L1343.7,239.2 L1341.8,238.8 L1339.8,238.2 L1337.8,238.2 L1336.0,237.0 L1334.2,236.1 L1332.2,235.8 L1330.2,235.6 L1328.3,235.0 L1326.4,234.3 L1324.5,233.6 L1322.5,233.4 L1320.5,233.1 L1318.6,232.6 L1316.7,231.9 L1314.9,230.9 L1313.0,230.3 L1311.1,229.7 L1309.3,228.7 L1307.5,227.7 L1305.4,227.7 L1303.4,227.6 L1301.6,226.6 L1299.7,226.0 L1297.8,225.4 L1295.8,224.9 L1293.8,224.8 L1291.9,224.0 L1290.0,223.5 L1287.9,223.4 L1286.1,222.6 L1284.4,221.3 L1282.5,220.7 L1280.5,220.6 L1278.4,220.4 L1276.4,220.2 L1274.4,220.0 L1272.8,218.5 L1270.9,217.8 L1269.1,217.0 L1267.2,216.3 L1265.3,215.6 L1263.3,215.3 L1261.3,214.8 L1259.4,214.2 L1257.5,213.7 L1255.7,212.5 L1253.7,212.3 L1251.7,212.0 L1249.9,210.9 L1247.9,210.4 L1245.8,210.3 L1243.8,210.0 L1242.0,209.1 L1240.0,208.7 L1238.1,208.0 L1236.2,207.3 L1234.2,206.6 L1232.3,205.8 L1230.4,205.3 L1228.2,205.3 L1226.2,205.0 L1224.2,204.6 L1222.3,204.0 L1220.3,203.4 L1218.3,202.8 L1216.3,202.5 L1214.3,202.4 L1212.2,202.3 L1210.2,201.8 L1208.2,201.4 L1206.3,200.8 L1204.2,200.7 L1202.2,200.4 L1200.3,199.7 L1198.2,199.6 L1196.2,199.2 L1194.2,199.5 L1192.1,199.5 L1190.1,199.1 L1188.2,198.6 L1186.2,198.2 L1184.2,197.6 L1182.2,197.7 L1180.2,197.8 L1178.1,198.0 L1176.1,197.7 L1174.2,196.9 L1172.2,196.6 L1170.2,196.5 L1168.2,196.0 L1166.2,195.8 L1164.2,195.5 L1162.2,195.4 L1160.2,195.7 L1158.1,195.9 L1156.2,195.3 L1154.2,194.7 L1152.3,194.3 L1150.2,194.2 L1148.2,194.7 L1146.1,195.0 L1144.2,194.2 L1142.2,193.9 L1140.1,194.2 L1138.1,194.1 L1136.1,193.5 L1134.1,193.4 L1132.1,193.3 L1130.0,193.1 L1128.0,193.1 L1126.0,193.1 L1124.0,193.0 L1122.0,192.7 L1120.0,192.6 L1118.0,192.5 L1116.0,192.0 L1114.0,192.3 L1111.9,192.8 L1109.9,192.6 L1107.9,192.7 L1105.9,192.2 L1103.9,192.2 L1101.9,192.3 L1099.9,191.5 L1097.9,191.4 L1095.9,191.4 L1093.9,191.7 L1091.9,191.7 L1089.9,191.2 L1087.9,191.3 L1085.9,191.4 L1083.9,190.9 L1081.9,190.7 L1079.9,190.8 L1077.9,190.9 L1075.9,190.6 L1073.9,191.0 L1071.9,191.4 L1069.9,191.1 L1067.9,190.9 L1065.9,190.4 L1063.9,190.8 L1061.9,190.1 L1059.9,190.2 L1057.8,191.1 L1055.8,190.8 L1053.9,190.2 L1051.9,190.1 L1049.9,190.2 L1047.9,190.0 L1045.9,189.6 L1043.9,189.9 L1041.8,190.4 L1039.9,189.8 L1037.8,190.1 L1035.8,190.3 L1033.8,190.4 L1031.8,190.0 L1029.8,189.6 L1027.8,189.6 L1025.8,189.7 L1023.8,189.6 L1021.8,189.4 L1019.8,189.4 L1017.8,190.0 L1015.8,190.4 L1013.8,189.9 L1011.8,189.6 L1009.8,189.5 L1007.8,190.1 L1005.8,189.8 L1003.8,189.5 L1001.8,189.2 L999.8,189.4 L997.8,189.6 L995.8,189.8 L993.8,189.6 L991.8,189.0 L989.8,188.8 L987.7,189.2 L985.7,189.2 L983.7,189.2 L981.7,189.0 L979.7,189.4 L977.7,189.7 L975.7,189.5 L973.7,189.1 L971.7,188.9 L969.7,188.9 L967.7,189.0 L965.7,189.2 L963.7,189.7 L961.7,189.3 L959.7,188.7 L957.7,188.7 L955.7,189.2 L953.7,189.5 L951.7,189.3 L949.7,189.0 L947.7,188.6 L945.7,188.9 L943.7,189.4 L941.7,189.5 L939.7,189.2 L937.7,189.2 L935.7,190.4 L933.7,190.4 L931.7,189.7 L929.7,189.4 L927.7,189.1 L925.7,189.4 L923.6,189.1 L921.6,188.8 L919.6,189.3 L917.6,189.3 L915.6,189.2 L913.6,189.5 L911.6,189.6 L909.6,189.4 L907.6,189.2 L905.6,189.7 L903.6,189.6 L901.6,189.2 L899.6,189.3 L897.6,189.0 L895.6,188.9 L893.6,189.0 L891.6,189.2 L889.6,189.3 L887.6,189.0 L885.6,189.1 L883.6,189.1 L881.6,189.2 L879.6,189.1 L877.6,189.3 L875.6,189.3 L873.6,189.8 L871.6,189.6 L869.6,189.5 L867.6,189.2 L865.6,189.2 L863.6,189.8 L861.6,189.9 L859.6,189.9 L857.6,190.0 L855.6,189.8 L853.6,189.3 L851.6,188.8 L849.6,189.4 L847.6,189.3 L845.6,189.6 L843.6,189.8 L841.6,189.5 L839.6,189.4 L837.6,189.6 L835.6,189.5 L833.6,189.0 L831.6,189.4 L829.6,189.3 L827.6,189.6 L825.6,189.9 L823.6,190.4 L821.6,190.1 L819.6,189.5 L817.6,189.1 L815.6,189.6 L813.6,189.9 L811.5,189.3 L809.5,189.0 L807.5,189.5 L805.5,190.0 L803.5,190.8 L801.5,190.3 L799.4,189.9 L797.4,190.2 L795.4,190.8 L793.4,191.1 L791.4,190.8 L789.4,190.2 L787.4,190.5 L785.4,190.5 L783.4,190.5 L781.4,190.5 L779.4,190.8 L777.5,190.9 L775.5,190.6 L773.5,190.7 L771.5,191.3 L769.5,191.4 L767.5,191.1 L765.5,190.8 L763.5,190.4 L761.5,190.7 L759.5,191.2 L757.5,191.3 L755.5,191.2 L753.5,191.1 L751.5,191.0 L749.5,191.1 L747.5,191.2 L745.5,191.2 L743.6,191.4 L741.6,191.5 L739.5,191.2 L737.5,190.9 L735.5,191.2 L733.6,191.7 L731.6,191.7 L729.6,191.5 L727.6,191.6 L725.6,191.5 L723.5,191.4 L721.5,191.5 L719.5,191.5 L717.5,191.5 L715.5,191.5 L713.5,191.5 L711.5,191.7 L709.5,191.9 L707.5,191.8 L705.5,192.0 L703.5,192.1 L701.5,192.2 L699.5,192.2 L697.5,192.6 L695.5,192.5 L693.5,192.4 L691.5,192.6 L689.5,192.1 L687.5,192.3 L685.5,192.4 L683.5,192.7 L681.5,192.5 L679.5,192.3 L677.5,192.6 L675.5,191.9 L673.5,192.3 L671.5,192.6 L669.5,192.2 L667.5,192.4 L665.5,193.0 L663.5,192.7 L661.5,192.5 L659.5,192.7 L657.5,192.4 L655.5,192.4 L653.5,192.7 L651.5,193.4 L649.5,193.1 L647.5,192.8 L645.5,192.9 L643.5,193.6 L641.5,193.5 L639.5,193.4 L637.5,193.4 L635.4,193.4 L633.4,193.5 L631.4,193.2 L629.4,192.8 L627.4,193.1 L625.4,192.8 L623.4,193.2 L621.4,193.5 L619.4,193.1 L617.4,193.2 L615.4,193.5 L613.4,193.4 L611.4,193.4 L609.4,193.3 L607.4,193.8 L605.5,194.2 L603.8,194.0 L602.8,193.9 L601.8,193.4 L598.3,192.2 L593.7,193.3 L591.5,194.4 L590.5,194.1 L589.5,193.7 L588.9,193.7 L588.3,194.1 L585.4,192.5 L579.6,192.2 L576.4,193.9 L575.8,194.2 L575.1,194.5 L573.4,194.8 L571.4,194.9 L569.4,195.3 L567.4,195.3 L565.4,195.1 L563.4,195.0 L561.4,195.1 L559.4,195.3 L557.4,195.3 L555.4,195.3 L553.4,195.4 L551.3,195.4 L549.3,195.0 L547.3,195.2 L545.3,195.7 L543.3,196.1 L541.3,195.8 L539.3,196.0 L537.3,196.5 L535.3,196.1 L533.3,195.9 L531.3,196.5 L529.4,197.1 L527.3,196.8 L525.3,196.3 L523.3,196.2 L521.3,196.6 L519.3,197.1 L517.3,197.3 L515.3,197.0 L513.3,197.0 L511.3,197.8 L509.3,197.7 L507.3,197.5 L505.3,197.8 L503.3,197.4 L501.3,197.3 L499.3,197.5 L497.3,197.7 L495.3,197.8 L493.3,198.3 L491.3,198.3 L489.3,198.2 L487.3,198.2 L485.3,198.4 L483.3,198.4 L481.3,198.8 L479.3,199.2 L477.3,198.9 L475.3,199.0 L473.3,199.0 L471.3,198.7 L469.3,198.9 L467.3,199.8 L465.4,200.1 L463.3,199.4 L461.3,200.0 L459.4,200.3 L457.3,200.1 L455.3,200.0 L453.3,200.2 L451.4,200.6 L449.4,200.8 L447.4,200.8 L445.4,201.1 L443.4,201.3 L441.4,201.1 L439.3,201.0 L437.3,201.0 L435.3,200.9 L433.3,201.2 L431.1,200.8 L429.1,201.2 L427.0,202.0 L424.8,201.7 L422.8,202.4 L420.8,203.1 L418.6,202.9 L416.6,203.4 L414.7,204.1Z" fill="#ff0000"/>
<path d="M420.6,218.3 L422.6,218.1 L424.6,217.7 L426.6,217.9 L428.6,218.4 L430.6,218.5 L432.6,218.7 L434.6,218.3 L436.6,218.1 L438.6,218.0 L440.6,218.0 L442.6,217.7 L444.6,217.9 L446.6,218.4 L448.6,218.3 L450.6,218.6 L452.6,218.3 L454.6,218.1 L456.6,217.9 L458.6,218.3 L460.6,218.6 L462.6,218.6 L464.6,218.7 L466.6,218.8 L468.6,218.4 L470.6,218.5 L472.6,218.5 L474.6,218.2 L476.6,218.3 L478.6,218.5 L480.6,218.7 L482.6,218.4 L484.6,218.1 L486.6,218.3 L488.6,217.9 L490.6,218.0 L492.6,218.5 L494.6,218.3 L496.6,217.8 L498.6,218.2 L500.6,218.5 L502.6,218.8 L504.6,218.4 L506.6,217.9 L508.6,217.8 L510.6,217.8 L512.6,218.2 L514.6,218.4 L516.6,218.6 L518.6,218.4 L520.6,218.4 L522.6,218.4 L524.6,218.4 L526.6,218.4 L528.6,218.4 L530.6,218.7 L532.6,218.2 L534.6,217.8 L536.6,218.0 L538.6,218.3 L540.6,218.0 L542.6,218.3 L544.6,218.1 L546.6,218.1 L548.6,218.2 L550.6,218.2 L552.6,218.0 L554.6,218.4 L556.6,218.7 L558.6,218.5 L560.6,218.6 L562.6,218.7 L564.6,218.9 L566.6,218.4 L568.6,218.1 L570.6,218.2 L572.6,218.3 L574.6,218.0 L576.6,218.0 L578.6,218.1 L580.7,218.5 L582.7,218.4 L584.7,218.2 L586.7,217.9 L588.7,218.0 L590.7,217.5 L592.7,217.4 L594.7,218.2 L596.7,218.6 L598.7,217.9 L600.7,217.4 L602.7,217.8 L604.7,217.9 L606.7,217.7 L608.7,218.3 L610.7,218.3 L612.6,217.8 L614.6,217.8 L616.4,218.1 L618.1,218.5 L619.6,218.8 L620.9,219.0 L622.1,219.6 L623.8,220.0 L626.0,220.8 L628.8,221.9 L632.3,222.6 L636.0,222.2 L639.0,221.1 L641.5,220.2 L643.5,219.6 L644.7,218.8 L645.8,217.8 L647.3,217.4 L648.9,217.4 L650.8,217.4 L652.7,217.6 L654.7,217.7 L656.7,217.8 L658.7,217.6 L660.7,217.5 L662.7,217.7 L664.7,217.2 L666.7,216.9 L668.7,217.3 L670.7,217.6 L672.7,217.4 L674.7,217.0 L676.7,217.2 L678.7,217.5 L680.6,217.5 L682.6,217.3 L684.6,216.9 L686.6,216.9 L688.6,217.1 L690.6,217.7 L692.6,217.5 L694.6,217.2 L696.6,216.6 L698.6,217.1 L700.6,217.6 L702.6,218.0 L704.6,217.8 L706.6,217.5 L708.6,217.8 L710.6,217.4 L712.6,216.9 L714.6,216.9 L716.6,217.0 L718.6,217.0 L720.6,216.8 L722.6,216.9 L724.6,216.9 L726.6,217.0 L728.6,217.3 L730.6,217.1 L732.6,217.0 L734.6,217.1 L736.6,217.2 L738.6,217.2 L740.6,216.8 L742.6,217.2 L744.6,217.1 L746.6,216.8 L748.6,217.0 L750.6,217.2 L752.6,217.2 L754.6,217.0 L756.6,217.4 L758.6,217.5 L760.6,217.5 L762.6,217.3 L764.6,217.3 L766.6,217.2 L768.6,217.1 L770.6,217.1 L772.6,216.6 L774.6,216.6 L776.6,216.9 L778.6,216.7 L780.6,217.0 L782.6,217.2 L784.6,217.3 L786.6,217.6 L788.6,217.6 L790.6,217.4 L792.6,217.1 L794.6,216.9 L796.6,217.1 L798.6,217.1 L800.6,216.9 L802.6,217.3 L804.6,218.2 L806.6,218.3 L808.6,217.8 L810.6,217.3 L812.6,217.2 L814.6,216.9 L816.6,217.5 L818.6,217.9 L820.6,217.6 L822.6,217.5 L824.6,217.4 L826.6,217.4 L828.5,217.7 L830.5,217.9 L832.5,218.0 L834.5,218.2 L836.5,218.0 L838.5,218.3 L840.5,218.2 L842.5,218.1 L844.5,218.2 L846.5,218.4 L848.5,218.3 L850.5,217.9 L852.5,218.3 L854.5,218.7 L856.5,218.0 L858.5,218.0 L860.5,218.6 L862.5,218.5 L864.5,218.4 L866.5,218.7 L868.5,218.9 L870.5,219.0 L872.5,218.9 L874.5,219.1 L876.5,219.1 L878.5,219.0 L880.5,219.0 L882.5,219.0 L884.5,219.1 L886.5,219.6 L888.5,219.6 L890.5,219.7 L892.5,219.3 L894.5,219.1 L896.5,219.4 L898.5,219.2 L900.5,218.8 L902.5,219.1 L904.5,219.5 L906.5,219.9 L908.5,219.7 L910.5,220.1 L912.5,220.0 L914.5,220.2 L916.5,220.2 L918.5,220.2 L920.5,219.8 L922.5,219.5 L924.5,219.7 L926.5,219.7 L928.5,219.7 L930.5,219.9 L932.5,219.8 L934.5,220.3 L936.5,220.6 L938.5,220.4 L940.5,220.3 L942.5,220.0 L944.5,219.9 L946.5,219.6 L948.5,219.8 L950.5,220.2 L952.4,220.9 L954.4,221.0 L956.5,220.3 L958.5,220.3 L960.4,220.6 L962.4,221.2 L964.4,221.1 L966.4,221.0 L968.4,221.4 L970.4,221.7 L972.4,221.4 L974.4,221.6 L976.4,221.9 L978.4,221.8 L980.4,221.2 L982.4,221.3 L984.4,221.0 L986.3,221.5 L988.3,221.8 L990.3,222.6 L992.3,222.6 L994.3,222.1 L996.3,222.6 L998.3,222.5 L1000.2,222.9 L1002.2,223.0 L1004.2,223.0 L1006.2,222.8 L1008.2,223.2 L1010.2,223.6 L1012.2,223.2 L1014.2,223.4 L1016.2,223.9 L1018.2,223.9 L1020.2,223.9 L1022.2,223.7 L1024.2,223.8 L1026.2,223.9 L1028.1,224.1 L1030.1,224.5 L1032.1,224.9 L1034.1,224.9 L1036.0,225.4 L1038.0,225.7 L1040.1,224.9 L1042.1,224.4 L1044.0,225.3 L1046.0,225.5 L1048.0,225.5 L1049.9,226.2 L1051.9,226.6 L1053.9,226.5 L1055.9,226.6 L1057.9,226.8 L1059.9,226.9 L1061.9,227.0 L1063.8,227.6 L1065.8,227.8 L1067.8,228.0 L1069.7,228.4 L1071.7,228.3 L1073.7,228.4 L1075.7,228.3 L1077.8,228.1 L1079.7,228.7 L1081.7,229.3 L1083.6,229.6 L1085.6,230.0 L1087.6,230.0 L1089.5,230.4 L1091.5,230.7 L1093.5,230.8 L1095.5,230.5 L1097.5,230.8 L1099.4,231.4 L1101.2,232.5 L1103.2,232.6 L1105.1,232.7 L1107.1,232.9 L1109.1,232.9 L1111.0,233.2 L1112.9,233.7 L1114.8,234.2 L1116.8,234.7 L1118.8,234.8 L1120.7,235.1 L1122.6,235.6 L1124.6,235.8 L1126.5,236.7 L1128.4,237.1 L1130.4,237.7 L1132.3,238.2 L1134.3,238.3 L1136.4,238.2 L1138.3,238.8 L1140.4,238.9 L1142.4,239.1 L1144.4,239.5 L1146.4,239.8 L1148.3,240.7 L1150.2,241.1 L1152.2,241.6 L1154.1,242.2 L1156.2,242.3 L1158.2,242.5 L1160.1,243.1 L1162.2,243.2 L1164.1,243.6 L1166.1,244.1 L1168.1,244.4 L1170.1,244.2 L1172.1,244.3 L1174.1,244.6 L1176.1,244.7 L1178.0,245.5 L1179.9,246.6 L1181.8,247.2 L1183.8,247.2 L1185.9,247.2 L1187.9,247.2 L1189.7,248.1 L1191.7,248.6 L1193.7,248.6 L1195.7,248.6 L1197.7,249.1 L1199.7,249.2 L1201.6,249.5 L1203.6,250.0 L1205.5,250.4 L1207.6,250.1 L1209.5,250.6 L1211.5,251.3 L1213.4,251.9 L1215.5,251.6 L1217.5,251.6 L1219.5,251.9 L1221.4,252.8 L1223.3,253.2 L1225.3,253.6 L1227.3,253.7 L1229.4,253.8 L1231.3,254.5 L1233.2,254.8 L1235.3,254.6 L1237.3,254.9 L1239.3,255.2 L1241.2,255.9 L1243.0,257.1 L1245.0,257.2 L1247.0,257.2 L1248.9,258.1 L1250.8,258.4 L1252.8,258.6 L1254.8,258.3 L1256.8,258.7 L1258.6,259.5 L1260.4,260.6 L1262.4,260.2 L1264.4,260.5 L1266.2,261.4 L1268.1,261.6 L1270.1,261.7 L1271.8,262.9 L1273.8,263.0 L1275.8,263.2 L1277.5,264.1 L1279.3,264.9 L1281.2,265.4 L1283.1,266.0 L1285.0,266.6 L1286.8,267.3 L1288.6,268.1 L1290.6,268.3 L1292.6,268.7 L1294.3,269.7 L1296.2,270.4 L1298.2,270.7 L1300.0,271.3 L1301.9,271.9 L1303.8,272.6 L1305.5,273.7 L1307.2,274.6 L1309.1,275.2 L1311.2,275.3 L1312.8,276.6 L1314.6,277.4 L1316.5,277.8 L1318.1,279.0 L1320.1,279.4 L1321.8,280.3 L1323.6,281.1 L1325.4,281.9 L1327.1,282.8 L1328.9,283.5 L1330.8,284.1 L1332.2,285.8 L1333.9,286.7 L1335.8,287.4 L1337.5,288.4 L1339.3,289.2 L1340.8,290.4 L1342.5,291.4 L1344.4,292.1 L1346.3,292.6 L1348.1,293.6 L1349.9,294.5 L1351.5,295.5 L1353.2,296.6 L1354.8,297.7 L1356.4,298.9 L1358.1,299.9 L1359.6,301.2 L1361.5,301.9 L1363.3,302.7 L1364.9,303.8 L1366.7,304.6 L1368.2,305.9 L1369.8,307.0 L1371.5,308.0 L1372.9,309.4 L1374.6,310.4 L1375.9,311.8 L1377.4,313.1 L1378.8,314.3 L1380.6,315.1 L1382.0,316.5 L1383.5,317.7 L1384.7,319.1 L1386.2,320.3 L1387.8,321.4 L1389.0,323.0 L1390.3,324.4 L1391.6,325.8 L1392.8,327.3 L1394.0,328.8 L1395.6,330.0 L1397.0,331.3 L1398.3,332.7 L1399.4,334.3 L1400.5,335.9 L1401.6,337.6 L1402.9,339.0 L1404.3,340.4 L1405.4,342.0 L1406.5,343.6 L1407.6,345.3 L1408.6,347.0 L1410.5,348.1 L1411.9,349.5 L1412.9,351.3 L1414.0,353.0 L1415.1,354.6 L1416.4,356.2 L1417.4,357.9 L1418.5,359.6 L1419.9,361.1 L1421.1,362.6 L1422.3,364.3 L1423.4,366.0 L1424.6,367.7 L1425.4,369.6 L1426.9,371.1 L1428.1,372.7 L1429.6,374.2 L1431.2,375.5 L1432.3,377.2 L1434.0,378.4 L1435.4,379.8 L1436.5,381.5 L1437.7,382.9 L1438.7,384.6 L1439.8,386.2 L1441.0,387.6 L1442.1,389.1 L1443.7,390.4 L1444.5,392.2 L1445.3,394.1 L1446.3,395.8 L1447.7,397.3 L1449.2,398.7 L1450.2,400.5 L1451.6,402.1 L1452.6,403.8 L1454.0,405.4 L1455.2,407.0 L1456.5,408.6 L1457.6,410.2 L1458.6,412.0 L1459.9,413.5 L1461.4,414.9 L1463.0,416.2 L1463.8,418.1 L1464.7,419.9 L1466.1,421.3 L1467.3,422.9 L1468.6,424.4 L1469.7,426.2 L1471.2,427.5 L1472.4,429.1 L1473.2,431.0 L1474.4,432.6 L1475.9,434.0 L1477.1,435.6 L1478.4,437.1 L1479.9,438.6 L1481.0,440.2 L1482.3,441.8 L1483.5,443.4 L1484.9,444.8 L1486.1,446.4 L1487.4,448.0 L1488.4,449.8 L1489.7,451.4 L1490.6,453.2 L1491.9,454.8 L1493.7,455.9 L1495.0,457.4 L1496.4,458.9 L1497.7,460.4 L1498.9,462.0 L1499.9,463.8 L1501.1,465.4 L1502.4,467.0 L1503.7,468.5 L1505.0,470.0 L1506.3,471.6 L1507.5,473.2 L1508.7,474.8 L1510.0,476.3 L1511.4,477.7 L1512.7,479.2 L1514.3,480.5 L1516.1,481.6 L1517.4,483.1 L1518.4,484.9 L1519.5,486.6 L1520.7,488.1 L1521.7,489.9 L1522.9,491.5 L1524.4,492.9 L1526.1,494.0 L1527.4,495.6 L1528.1,497.6 L1529.2,499.3 L1530.4,500.9 L1531.8,502.4 L1532.9,504.0 L1534.3,505.5 L1535.7,506.9 L1537.0,508.5 L1538.7,509.7 L1540.2,511.1 L1541.8,512.4 L1543.2,513.8 L1544.6,515.2 L1545.8,516.9 L1547.2,518.3 L1548.8,519.7 L1549.6,521.6 L1550.5,523.5 L1552.3,524.6 L1554.1,525.7 L1555.4,527.3 L1556.5,529.0 L1557.6,530.7 L1559.1,532.1 L1560.2,533.8 L1561.8,535.0 L1563.4,536.3 L1564.6,538.0 L1566.1,539.2 L1567.4,540.8 L1569.0,542.1 L1570.8,543.1 L1572.2,544.5 L1573.1,546.4 L1574.3,548.0 L1575.6,549.5 L1577.0,551.0 L1578.2,552.6 L1579.6,554.0 L1581.2,555.2 L1582.8,556.5 L1583.9,558.2 L1585.2,559.7 L1586.8,561.0 L1588.2,562.4 L1589.5,563.9 L1591.3,565.0 L1592.4,566.7 L1593.8,568.2 L1595.2,569.5 L1596.9,570.6 L1597.7,572.6 L1599.2,573.9 L1600.8,575.1 L1602.0,576.6 L1603.5,578.0 L1604.9,579.4 L1605.8,581.2 L1606.9,582.7 L1608.1,584.3 L1609.6,585.6 L1610.6,587.3 L1611.5,589.1 L1612.7,590.6 L1614.5,591.7 L1615.9,593.0 L1616.8,594.9 L1617.5,596.7 L1618.7,598.3 L1620.0,599.8 L1621.4,601.3 L1622.6,602.8 L1623.9,604.3 L1624.6,606.2 L1625.4,608.1 L1627.2,609.2 L1628.9,610.5 L1629.8,612.3 L1630.5,614.2 L1631.2,616.1 L1632.4,617.7 L1633.9,619.1 L1634.7,620.9 L1635.4,622.8 L1636.4,624.5 L1638.1,625.8 L1639.5,627.2 L1640.2,629.1 L1641.5,630.6 L1642.7,632.2 L1643.4,634.1 L1644.3,635.9 L1645.2,637.6 L1646.3,639.3 L1647.4,640.9 L1648.2,642.7 L1649.1,644.5 L1650.2,646.1 L1651.5,647.7 L1652.3,649.5 L1653.3,651.3 L1654.1,653.1 L1655.3,654.7 L1656.9,656.1 L1657.8,658.0 L1658.3,660.0 L1659.1,661.8 L1660.1,663.6 L1661.1,665.3 L1662.3,666.9 L1663.3,668.7 L1663.6,670.8 L1664.0,672.9 L1666.0,674.1 L1667.4,675.5 L1668.2,677.4 L1669.2,679.1 L1669.8,681.0 L1670.7,682.8 L1671.7,684.4 L1673.2,685.9 L1674.1,687.6 L1675.1,689.3 L1675.8,691.1 L1676.8,692.8 L1677.9,694.4 L1678.7,696.2 L1679.5,698.1 L1680.1,699.9 L1681.1,701.7 L1681.6,703.6 L1682.4,705.4 L1683.4,707.1 L1684.2,708.9 L1685.0,710.7 L1685.6,712.7 L1686.9,714.2 L1687.7,716.1 L1688.2,718.0 L1688.7,720.0 L1690.0,721.6 L1691.2,723.3 L1691.6,725.2 L1692.0,727.2 L1692.8,729.1 L1693.6,730.9 L1694.5,732.6 L1695.1,734.6 L1695.9,736.4 L1696.6,738.2 L1697.0,740.2 L1698.0,742.0 L1699.2,743.6 L1699.9,745.5 L1700.5,747.4 L1701.2,749.3 L1702.2,751.0 L1703.2,752.7 L1704.2,754.5 L1704.5,756.5 L1704.7,758.5 L1705.0,760.5 L1706.0,762.3 L1707.4,763.8 L1708.1,765.7 L1708.9,767.5 L1709.5,769.4 L1710.0,771.4 L1710.8,773.2 L1711.4,775.1 L1712.1,777.0 L1713.1,778.8 L1713.8,780.7 L1714.1,782.7 L1714.3,784.8 L1715.3,786.6 L1716.3,788.3 L1717.1,790.2 L1718.0,792.0 L1718.4,794.0 L1719.3,795.8 L1720.6,797.5 L1720.8,799.5 L1721.1,801.6 L1722.4,803.2 L1723.3,805.0 L1724.0,806.9 L1724.7,808.8 L1725.8,810.5 L1726.2,812.5 L1726.8,814.4 L1727.2,816.3 L1728.0,818.1 L1729.3,819.7 L1729.9,821.6 L1730.3,823.6 L1730.6,825.6 L1731.3,827.4 L1732.0,829.2 L1732.7,831.1 L1733.4,832.9 L1734.4,834.7 L1735.2,836.5 L1735.9,838.4 L1736.4,840.4 L1736.6,842.4 L1737.1,844.4 L1738.3,846.1 L1738.7,848.2 L1739.6,850.0 L1740.5,851.9 L1741.1,853.8 L1741.7,855.8 L1742.8,857.6 L1743.5,859.5 L1744.4,861.4 L1744.9,863.3 L1745.7,865.1 L1746.5,866.9 L1747.3,868.6 L1747.6,870.5 L1748.4,872.2 L1749.7,873.8 L1750.4,875.6 L1750.5,877.6 L1750.8,879.5 L1751.6,881.4 L1752.1,883.4 L1752.8,885.3 L1753.8,887.2 L1754.5,889.1 L1755.4,891.0 L1756.2,893.0 L1756.9,894.9 L1757.5,896.8 L1757.7,898.9 L1758.8,900.7 L1759.8,902.4 L1760.6,904.1 L1761.2,906.0 L1761.8,907.8 L1762.8,909.5 L1763.9,911.2 L1764.3,913.1 L1764.7,915.0 L1765.5,916.8 L1766.0,918.8 L1766.3,920.7 L1767.5,922.4 L1768.3,924.3 L1768.9,926.1 L1769.5,928.1 L1770.1,930.0 L1770.1,932.1 L1770.9,933.9 L1771.8,935.8 L1772.4,937.7 L1773.0,939.6 L1773.7,941.5 L1774.4,943.4 L1775.0,945.3 L1775.8,947.2 L1776.7,949.0 L1777.4,950.9 L1777.3,953.0 L1777.9,955.0 L1778.4,956.9 L1779.4,958.7 L1779.9,960.6 L1780.4,962.5 L1781.1,964.4 L1781.8,966.3 L1782.3,968.2 L1783.4,969.9 L1784.6,971.6 L1785.4,973.4 L1786.0,975.3 L1786.2,977.3 L1786.4,979.4 L1787.1,981.2 L1787.3,983.2 L1787.8,985.2 L1788.8,986.9 L1789.8,988.7 L1790.3,990.6 L1790.7,992.6 L1791.5,994.4 L1791.9,996.4 L1792.4,998.3 L1793.4,1000.1 L1794.7,1001.8 L1794.9,1003.8 L1795.3,1005.8 L1795.4,1007.8 L1796.3,1009.6 L1797.1,1011.4 L1797.7,1013.4 L1798.2,1015.3 L1798.4,1017.3 L1798.8,1019.3 L1799.3,1021.2 L1800.5,1022.9 L1800.9,1024.9 L1801.4,1026.9 L1802.1,1028.8 L1802.9,1030.7 L1803.4,1032.6 L1803.8,1034.7 L1804.6,1036.5 L1805.8,1038.3 L1806.4,1040.2 L1806.5,1042.4 L1807.1,1044.3 L1807.7,1046.2 L1808.2,1048.2 L1809.0,1050.0 L1809.8,1051.8 L1810.8,1053.6 L1811.3,1055.5 L1811.7,1057.5 L1812.6,1059.3 L1813.0,1061.2 L1813.6,1063.1 L1814.7,1064.9 L1815.0,1066.9 L1815.5,1068.8 L1816.3,1070.7 L1817.0,1072.6 L1818.0,1074.3 L1818.6,1076.3 L1819.2,1078.2 L1819.5,1080.3 L1820.1,1082.2 L1820.9,1084.0 L1821.7,1085.9 L1822.6,1087.7 L1823.3,1089.6 L1823.6,1091.7 L1824.4,1093.5 L1825.3,1095.3 L1826.0,1097.2 L1826.9,1099.0 L1827.8,1100.8 L1828.7,1102.7 L1829.1,1104.6 L1829.8,1106.6 L1830.8,1108.3 L1831.6,1110.2 L1832.2,1112.1 L1832.9,1114.0 L1834.0,1115.8 L1834.7,1117.7 L1835.6,1119.5 L1836.8,1121.2 L1837.8,1122.9 L1838.2,1125.0 L1838.3,1127.2 L1839.6,1128.8 L1840.4,1130.7 L1841.3,1132.5 L1841.9,1134.5 L1843.3,1136.1 L1844.7,1137.7 L1845.5,1139.5 L1845.7,1141.7 L1846.7,1143.5 L1848.4,1145.0 L1849.1,1147.0 L1850.2,1148.8 L1851.2,1150.5 L1852.3,1152.3 L1853.1,1154.3 L1853.9,1156.3 L1855.2,1157.9 L1856.5,1159.6 L1858.0,1161.2 L1859.3,1162.9 L1860.3,1164.8 L1861.3,1166.7 L1862.7,1168.3 L1864.4,1169.8 L1865.9,1171.3 L1867.3,1173.0 L1868.8,1174.6 L1870.7,1175.7 L1872.5,1176.9 L1874.2,1178.3 L1876.0,1179.5 L1877.6,1180.9 L1879.7,1181.7 L1881.6,1182.7 L1883.5,1183.7 L1885.4,1184.6 L1887.3,1185.7 L1889.1,1186.9 L1891.0,1188.1 L1892.9,1189.1 L1894.9,1189.9 L1897.1,1190.3 L1899.1,1190.8 L1901.2,1191.3 L1903.3,1191.6 L1905.4,1191.8 L1907.4,1192.4 L1909.5,1192.8 L1911.4,1193.8 L1913.5,1194.0 L1915.5,1194.2 L1917.6,1194.4 L1919.7,1194.2 L1921.8,1194.6 L1923.8,1195.3 L1925.8,1195.5 L1927.9,1195.4 L1929.9,1195.7 L1931.9,1196.2 L1933.9,1196.7 L1935.9,1197.1 L1938.0,1197.0 L1940.0,1197.1 L1942.0,1197.8 L1944.0,1197.8 L1946.0,1197.2 L1948.1,1197.3 L1950.0,1197.7 L1952.0,1198.0 L1954.0,1198.2 L1956.1,1198.3 L1958.0,1198.6 L1960.1,1198.5 L1962.1,1198.4 L1964.1,1198.3 L1966.1,1197.7 L1968.1,1197.9 L1970.1,1198.3 L1972.1,1198.5 L1974.1,1198.8 L1976.1,1198.9 L1978.1,1198.7 L1980.1,1199.2 L1982.0,1199.5 L1984.0,1199.5 L1986.1,1198.8 L1988.1,1198.8 L1990.1,1198.8 L1992.1,1199.1 L1994.0,1199.4 L1996.0,1199.7 L1998.0,1199.8 L2000.0,1199.8 L2002.0,1200.0 L2004.0,1199.8 L2006.0,1200.2 L2008.0,1200.4 L2010.1,1200.1 L2012.1,1200.2 L2014.1,1200.6 L2016.1,1200.8 L2018.1,1200.2 L2020.1,1199.9 L2022.1,1200.2 L2024.1,1201.0 L2026.1,1201.3 L2028.1,1201.2 L2030.1,1201.3 L2032.1,1201.4 L2034.2,1201.7 L2036.2,1201.5 L2038.2,1200.6 L2040.2,1200.6 L2042.2,1200.9 L2044.2,1201.1 L2046.2,1201.0 L2048.2,1201.8 L2050.2,1202.1 L2052.2,1202.0 L2054.2,1201.4 L2056.2,1201.6 L2058.2,1201.6 L2060.2,1201.8 L2062.2,1201.6 L2064.2,1201.4 L2066.2,1201.2 L2068.2,1202.0 L2070.2,1202.3 L2072.2,1201.8 L2074.2,1201.1 L2076.2,1201.2 L2078.2,1201.5 L2080.2,1201.9 L2082.2,1202.0 L2084.2,1201.9 L2086.2,1202.0 L2088.2,1202.2 L2090.2,1202.4 L2092.2,1201.9 L2094.2,1202.0 L2096.2,1201.8 L2098.2,1201.8 L2100.2,1202.1 L2102.2,1202.3 L2104.2,1202.5 L2106.2,1202.5 L2108.2,1202.4 L2110.2,1202.4 L2112.2,1202.0 L2114.2,1202.0 L2116.2,1202.2 L2118.2,1202.0 L2120.2,1201.7 L2122.2,1201.9 L2124.2,1201.7 L2126.2,1202.3 L2128.2,1203.0 L2130.2,1203.1 L2132.2,1202.8 L2134.2,1202.8 L2136.2,1202.9 L2138.2,1202.6 L2140.2,1202.7 L2142.2,1202.7 L2144.2,1202.1 L2146.2,1201.7 L2148.2,1201.6 L2150.2,1201.9 L2152.2,1202.1 L2154.2,1202.6 L2156.2,1202.9 L2158.2,1202.7 L2160.2,1202.6 L2162.2,1202.6 L2164.2,1202.6 L2166.2,1202.9 L2168.2,1203.1 L2170.2,1203.3 L2172.2,1203.4 L2174.2,1203.2 L2176.2,1203.2 L2178.2,1203.2 L2180.2,1203.4 L2182.2,1203.3 L2184.2,1203.2 L2186.2,1202.9 L2188.2,1203.0 L2190.2,1203.0 L2192.2,1203.5 L2194.2,1203.0 L2196.2,1203.3 L2198.2,1204.1 L2200.2,1203.8 L2202.2,1203.5 L2204.2,1203.6 L2206.2,1203.2 L2208.2,1203.3 L2210.2,1203.9 L2212.2,1203.9 L2214.2,1203.9 L2216.2,1203.5 L2218.2,1203.8 L2220.2,1204.2 L2222.2,1203.8 L2224.2,1203.4 L2226.2,1203.1 L2228.2,1203.9 L2230.2,1204.4 L2232.2,1204.3 L2234.2,1203.9 L2236.2,1203.5 L2238.2,1203.7 L2240.2,1203.5 L2242.2,1203.8 L2244.2,1204.3 L2246.2,1204.5 L2248.2,1204.5 L2250.2,1204.8 L2252.2,1204.5 L2254.2,1204.3 L2256.2,1203.7 L2258.2,1203.9 L2260.2,1204.3 L2262.2,1204.3 L2264.2,1204.0 L2266.2,1203.4 L2268.2,1203.8 L2270.2,1204.2 L2272.2,1204.0 L2274.2,1204.3 L2276.2,1204.5 L2278.2,1203.8 L2280.2,1203.9 L2282.2,1204.7 L2284.2,1204.9 L2286.2,1204.4 L2288.2,1204.3 L2290.2,1204.4 L2292.2,1204.3 L2294.2,1204.4 L2296.2,1205.0 L2298.2,1204.5 L2300.2,1204.4 L2302.2,1204.7 L2304.2,1204.9 L2306.2,1204.7 L2308.2,1204.8 L2310.2,1205.3 L2310.4,1193.4 L2308.4,1193.3 L2306.4,1192.4 L2304.4,1192.2 L2302.4,1192.4 L2300.4,1192.6 L2298.4,1192.5 L2296.4,1192.7 L2294.4,1193.1 L2292.4,1192.8 L2290.4,1192.3 L2288.4,1192.0 L2286.4,1192.0 L2284.4,1192.2 L2282.4,1192.3 L2280.4,1192.5 L2278.4,1192.3 L2276.4,1192.1 L2274.4,1192.3 L2272.4,1192.0 L2270.4,1192.3 L2268.4,1192.4 L2266.4,1191.8 L2264.4,1192.1 L2262.4,1192.5 L2260.4,1192.3 L2258.4,1192.0 L2256.4,1192.2 L2254.4,1192.4 L2252.4,1192.4 L2250.4,1192.4 L2248.4,1191.6 L2246.4,1191.5 L2244.4,1192.0 L2242.4,1192.1 L2240.4,1191.4 L2238.4,1191.1 L2236.4,1191.6 L2234.4,1191.9 L2232.4,1191.5 L2230.4,1191.7 L2228.4,1192.1 L2226.4,1192.3 L2224.4,1191.8 L2222.4,1191.8 L2220.4,1192.0 L2218.4,1191.8 L2216.4,1191.1 L2214.4,1191.6 L2212.4,1191.8 L2210.4,1191.7 L2208.4,1192.1 L2206.4,1192.1 L2204.4,1191.5 L2202.4,1191.3 L2200.4,1191.4 L2198.4,1191.3 L2196.4,1191.4 L2194.4,1191.7 L2192.4,1192.2 L2190.4,1191.3 L2188.4,1190.9 L2186.4,1191.2 L2184.4,1191.3 L2182.4,1190.8 L2180.4,1191.2 L2178.4,1191.4 L2176.4,1191.4 L2174.4,1191.5 L2172.4,1191.1 L2170.4,1190.6 L2168.4,1190.5 L2166.4,1191.0 L2164.4,1191.2 L2162.4,1190.7 L2160.4,1190.5 L2158.4,1190.6 L2156.4,1190.9 L2154.4,1190.6 L2152.4,1190.3 L2150.4,1191.1 L2148.4,1190.8 L2146.4,1190.6 L2144.4,1190.8 L2142.4,1191.0 L2140.4,1191.1 L2138.4,1191.1 L2136.4,1191.2 L2134.4,1191.2 L2132.3,1191.4 L2130.4,1190.6 L2128.4,1190.7 L2126.4,1191.0 L2124.4,1190.7 L2122.4,1190.9 L2120.4,1190.5 L2118.4,1190.4 L2116.4,1190.5 L2114.4,1189.7 L2112.4,1190.3 L2110.4,1190.7 L2108.4,1190.4 L2106.4,1190.3 L2104.4,1190.0 L2102.4,1189.6 L2100.4,1189.5 L2098.4,1190.0 L2096.4,1190.1 L2094.4,1190.0 L2092.4,1190.5 L2090.4,1190.6 L2088.4,1190.9 L2086.4,1190.7 L2084.4,1190.1 L2082.4,1190.7 L2080.4,1190.5 L2078.4,1190.1 L2076.4,1190.1 L2074.4,1190.1 L2072.4,1190.3 L2070.4,1189.9 L2068.4,1189.8 L2066.4,1189.6 L2064.4,1189.1 L2062.4,1189.4 L2060.4,1189.8 L2058.4,1190.1 L2056.4,1190.0 L2054.4,1190.1 L2052.4,1190.1 L2050.4,1189.7 L2048.4,1189.5 L2046.4,1189.3 L2044.4,1189.6 L2042.4,1190.0 L2040.4,1189.9 L2038.4,1189.6 L2036.4,1189.7 L2034.4,1190.0 L2032.4,1189.5 L2030.4,1188.8 L2028.5,1188.9 L2026.5,1188.8 L2024.5,1189.2 L2022.5,1189.3 L2020.5,1189.4 L2018.5,1189.0 L2016.5,1189.0 L2014.5,1189.0 L2012.5,1188.9 L2010.6,1188.4 L2008.6,1188.7 L2006.6,1188.7 L2004.6,1188.2 L2002.6,1188.1 L2000.6,1188.1 L1998.6,1188.0 L1996.6,1187.9 L1994.6,1187.7 L1992.6,1187.5 L1990.6,1187.4 L1988.6,1187.4 L1986.6,1187.3 L1984.6,1187.5 L1982.6,1187.3 L1980.6,1187.0 L1978.6,1187.0 L1976.6,1187.3 L1974.6,1187.1 L1972.6,1187.0 L1970.6,1186.4 L1968.6,1186.0 L1966.6,1185.9 L1964.6,1186.1 L1962.6,1186.0 L1960.6,1186.3 L1958.6,1186.4 L1956.6,1186.0 L1954.6,1186.0 L1952.6,1186.2 L1950.6,1186.0 L1948.7,1186.1 L1946.7,1185.4 L1944.7,1185.3 L1942.7,1185.8 L1940.7,1185.6 L1938.8,1185.2 L1936.8,1185.0 L1934.9,1184.4 L1932.9,1184.1 L1931.0,1183.7 L1929.0,1184.1 L1927.0,1184.2 L1925.1,1184.2 L1923.2,1183.8 L1921.3,1183.3 L1919.4,1183.1 L1917.4,1182.9 L1915.5,1182.5 L1913.7,1181.9 L1911.8,1181.5 L1910.0,1180.9 L1908.2,1180.4 L1906.4,1180.1 L1904.6,1179.6 L1902.7,1179.3 L1900.9,1178.9 L1899.1,1178.4 L1897.4,1177.6 L1895.6,1177.1 L1894.0,1176.0 L1892.4,1175.1 L1890.7,1174.4 L1889.0,1173.6 L1887.4,1172.8 L1885.9,1171.7 L1884.4,1170.8 L1883.0,1169.6 L1881.6,1168.6 L1880.0,1167.7 L1878.6,1166.5 L1877.5,1165.2 L1876.4,1163.7 L1875.0,1162.6 L1874.1,1161.0 L1872.4,1160.0 L1870.9,1158.8 L1870.0,1157.1 L1869.2,1155.4 L1867.9,1154.0 L1866.4,1152.7 L1865.8,1150.7 L1864.9,1149.1 L1863.9,1147.5 L1862.8,1145.9 L1861.9,1144.2 L1860.3,1142.9 L1859.4,1141.2 L1859.1,1139.2 L1858.1,1137.5 L1856.7,1136.0 L1855.8,1134.3 L1855.5,1132.3 L1854.5,1130.6 L1853.3,1129.0 L1852.8,1127.0 L1851.9,1125.3 L1851.4,1123.3 L1850.5,1121.6 L1849.1,1120.0 L1848.0,1118.4 L1847.4,1116.5 L1847.1,1114.5 L1846.5,1112.6 L1845.3,1111.0 L1844.1,1109.3 L1843.4,1107.5 L1843.0,1105.5 L1842.3,1103.6 L1841.1,1101.9 L1840.7,1100.0 L1840.1,1098.1 L1839.4,1096.2 L1838.5,1094.5 L1837.8,1092.6 L1837.4,1090.6 L1836.3,1088.9 L1835.9,1087.0 L1835.2,1085.1 L1834.3,1083.3 L1833.6,1081.5 L1833.4,1079.4 L1832.2,1077.7 L1831.3,1076.0 L1831.3,1073.9 L1830.8,1071.9 L1829.7,1070.2 L1828.9,1068.4 L1828.3,1066.5 L1827.4,1064.7 L1826.5,1062.9 L1825.7,1061.1 L1825.2,1059.1 L1825.1,1057.1 L1824.8,1055.0 L1823.9,1053.2 L1823.1,1051.3 L1822.1,1049.5 L1821.1,1047.8 L1820.5,1045.8 L1819.9,1043.9 L1819.3,1042.0 L1819.2,1040.0 L1818.4,1038.2 L1817.8,1036.3 L1816.8,1034.6 L1816.0,1032.8 L1815.3,1031.0 L1814.5,1029.2 L1814.0,1027.2 L1813.2,1025.4 L1812.9,1023.4 L1812.2,1021.6 L1812.2,1019.5 L1811.8,1017.5 L1811.1,1015.7 L1810.9,1013.6 L1810.3,1011.7 L1809.6,1009.8 L1809.1,1007.9 L1808.6,1005.9 L1807.4,1004.2 L1807.0,1002.2 L1806.7,1000.2 L1806.0,998.3 L1805.4,996.4 L1804.8,994.5 L1804.5,992.4 L1803.3,990.7 L1802.7,988.8 L1802.3,986.8 L1801.5,985.0 L1800.8,983.1 L1800.5,981.1 L1800.3,979.0 L1799.8,977.1 L1799.2,975.1 L1798.4,973.3 L1797.5,971.5 L1796.1,969.8 L1795.1,968.0 L1795.1,965.9 L1794.6,963.9 L1794.1,962.0 L1793.5,960.1 L1792.8,958.2 L1791.9,956.4 L1790.9,954.6 L1790.6,952.6 L1790.0,950.7 L1788.9,948.9 L1788.6,946.9 L1788.5,944.8 L1788.0,942.9 L1787.0,941.1 L1786.5,939.2 L1785.5,937.5 L1784.9,935.6 L1784.6,933.6 L1783.4,931.9 L1782.9,929.9 L1782.3,928.0 L1781.7,926.1 L1780.6,924.4 L1780.2,922.4 L1780.2,920.3 L1779.8,918.3 L1779.0,916.5 L1778.4,914.5 L1777.3,912.7 L1776.7,910.8 L1776.1,908.8 L1775.1,907.0 L1774.7,905.0 L1774.2,903.0 L1773.6,901.0 L1772.9,899.0 L1771.3,897.5 L1770.4,895.6 L1769.4,893.9 L1768.8,892.0 L1768.7,889.9 L1767.8,888.2 L1766.9,886.5 L1766.2,884.7 L1765.7,882.9 L1765.3,881.0 L1764.8,879.2 L1763.9,877.4 L1762.5,875.8 L1762.0,873.8 L1761.9,871.7 L1761.1,869.8 L1760.0,868.0 L1759.2,866.0 L1758.3,864.1 L1757.4,862.3 L1757.0,860.2 L1756.5,858.2 L1755.8,856.4 L1754.8,854.6 L1753.8,853.0 L1753.4,851.0 L1752.7,849.3 L1751.7,847.6 L1750.8,845.8 L1750.1,844.0 L1749.3,842.2 L1748.8,840.3 L1748.5,838.3 L1748.1,836.4 L1747.9,834.3 L1746.7,832.6 L1745.9,830.8 L1745.5,828.8 L1745.1,826.8 L1744.2,824.9 L1743.3,823.1 L1742.6,821.2 L1741.5,819.4 L1741.0,817.4 L1740.8,815.3 L1740.0,813.5 L1739.3,811.6 L1738.3,809.8 L1737.5,807.9 L1737.0,806.0 L1735.9,804.2 L1735.4,802.3 L1734.3,800.6 L1733.5,798.7 L1732.6,796.9 L1732.4,794.9 L1731.7,793.0 L1730.7,791.3 L1730.1,789.4 L1729.4,787.5 L1728.9,785.6 L1727.8,783.9 L1726.8,782.2 L1726.7,780.1 L1726.1,778.2 L1724.8,776.5 L1724.5,774.5 L1724.2,772.5 L1723.5,770.6 L1722.7,768.8 L1721.8,767.0 L1720.9,765.2 L1720.2,763.3 L1719.1,761.6 L1718.6,759.6 L1717.8,757.8 L1717.1,755.9 L1716.2,754.1 L1715.5,752.2 L1715.4,750.0 L1714.6,748.2 L1713.9,746.3 L1713.2,744.4 L1712.4,742.6 L1711.1,740.9 L1710.3,739.1 L1709.6,737.2 L1708.8,735.3 L1708.4,733.3 L1707.7,731.4 L1706.4,729.8 L1705.8,727.8 L1705.6,725.7 L1705.0,723.8 L1704.1,722.0 L1703.0,720.3 L1701.7,718.7 L1701.0,716.8 L1700.2,714.9 L1699.4,713.1 L1698.9,711.1 L1698.3,709.2 L1697.4,707.4 L1696.5,705.6 L1694.9,704.1 L1694.5,702.0 L1693.6,700.2 L1692.5,698.5 L1691.8,696.6 L1691.1,694.7 L1690.2,692.9 L1689.2,691.1 L1688.2,689.3 L1687.5,687.4 L1686.8,685.4 L1685.7,683.7 L1684.6,682.0 L1683.6,680.2 L1682.8,678.3 L1681.6,676.7 L1680.8,674.8 L1679.8,673.0 L1679.2,671.0 L1678.3,669.2 L1677.0,667.7 L1675.8,666.0 L1675.0,664.2 L1673.9,662.5 L1672.8,660.9 L1672.0,659.0 L1670.9,657.3 L1669.9,655.6 L1668.9,653.9 L1668.0,652.2 L1667.1,650.4 L1666.0,648.7 L1665.0,647.0 L1664.1,645.2 L1663.3,643.3 L1662.1,641.7 L1660.8,640.1 L1659.9,638.3 L1659.1,636.5 L1657.7,634.9 L1656.9,633.0 L1656.0,631.2 L1654.8,629.6 L1653.7,627.9 L1653.2,625.8 L1652.1,624.1 L1650.8,622.5 L1649.6,620.8 L1648.2,619.3 L1646.6,617.9 L1645.9,616.0 L1645.4,613.9 L1644.5,612.1 L1642.8,610.8 L1641.8,609.0 L1640.8,607.2 L1639.7,605.5 L1638.8,603.7 L1637.6,602.1 L1636.3,600.6 L1634.9,599.0 L1633.5,597.5 L1632.2,596.0 L1630.7,594.5 L1629.7,592.8 L1628.8,590.9 L1627.5,589.4 L1626.7,587.4 L1625.4,585.8 L1624.2,584.2 L1622.8,582.7 L1621.5,581.1 L1620.4,579.3 L1619.3,577.6 L1617.8,576.2 L1616.4,574.7 L1614.9,573.3 L1613.8,571.6 L1612.5,570.0 L1610.7,568.9 L1609.5,567.2 L1608.3,565.6 L1607.0,564.0 L1605.4,562.8 L1603.7,561.5 L1602.5,559.9 L1600.9,558.7 L1599.5,557.2 L1598.3,555.5 L1597.4,553.6 L1596.2,552.0 L1594.3,551.0 L1592.9,549.6 L1591.6,548.1 L1590.1,546.8 L1588.5,545.6 L1587.6,543.7 L1586.7,541.7 L1585.4,540.2 L1583.5,539.3 L1582.0,537.9 L1580.7,536.4 L1579.1,535.1 L1577.7,533.7 L1576.5,532.0 L1575.3,530.4 L1573.4,529.5 L1572.1,528.0 L1570.8,526.4 L1569.3,525.2 L1568.0,523.6 L1566.5,522.3 L1565.1,520.9 L1564.1,519.1 L1562.8,517.6 L1561.7,515.9 L1560.4,514.5 L1558.9,513.1 L1557.7,511.6 L1556.1,510.3 L1554.9,508.7 L1553.5,507.3 L1552.1,506.0 L1551.0,504.3 L1549.7,502.8 L1548.6,501.1 L1546.7,500.2 L1545.4,498.6 L1544.3,497.0 L1543.1,495.4 L1541.7,493.9 L1540.5,492.4 L1539.1,490.9 L1537.6,489.6 L1537.0,487.4 L1535.9,485.8 L1534.5,484.3 L1532.7,483.3 L1531.1,482.0 L1529.9,480.3 L1528.6,478.9 L1527.6,477.1 L1526.4,475.5 L1525.2,473.9 L1524.1,472.1 L1522.8,470.6 L1521.4,469.2 L1519.8,467.9 L1518.6,466.3 L1517.4,464.7 L1516.0,463.2 L1514.5,461.9 L1513.4,460.2 L1512.2,458.6 L1510.4,457.5 L1508.9,456.2 L1507.6,454.7 L1506.5,453.0 L1505.6,451.2 L1504.2,449.8 L1503.0,448.2 L1501.9,446.5 L1500.3,445.3 L1499.4,443.5 L1498.2,441.9 L1496.8,440.5 L1495.5,439.0 L1494.3,437.4 L1493.1,435.8 L1492.0,434.2 L1490.8,432.6 L1489.5,431.1 L1488.1,429.7 L1487.0,428.0 L1485.8,426.4 L1484.3,425.0 L1483.4,423.2 L1482.4,421.5 L1481.0,420.0 L1479.5,418.6 L1478.3,417.1 L1477.0,415.5 L1475.5,414.1 L1474.4,412.5 L1473.6,410.6 L1472.6,408.8 L1471.0,407.5 L1469.8,405.9 L1468.5,404.3 L1467.3,402.7 L1466.1,401.1 L1465.2,399.3 L1464.1,397.7 L1463.1,396.0 L1461.8,394.6 L1460.4,393.2 L1458.9,391.8 L1457.5,390.4 L1456.8,388.5 L1455.9,386.6 L1455.3,384.6 L1454.3,382.8 L1453.2,381.1 L1451.6,379.7 L1449.5,378.7 L1447.9,377.2 L1446.9,375.4 L1445.9,373.6 L1444.5,372.1 L1443.1,370.6 L1441.4,369.4 L1440.2,367.9 L1439.3,366.1 L1438.0,364.6 L1436.8,363.1 L1435.7,361.5 L1434.2,360.2 L1432.9,358.7 L1431.8,357.0 L1431.0,355.2 L1429.8,353.6 L1428.5,352.1 L1427.2,350.6 L1426.1,348.9 L1425.0,347.2 L1424.0,345.5 L1422.7,343.9 L1422.0,342.0 L1421.2,340.0 L1419.3,339.0 L1417.4,337.8 L1416.3,336.2 L1415.4,334.3 L1414.3,332.5 L1412.6,331.3 L1411.3,329.7 L1410.1,328.0 L1408.6,326.5 L1407.6,324.7 L1406.4,323.0 L1404.7,321.7 L1403.4,320.1 L1402.0,318.6 L1400.6,317.1 L1399.0,315.7 L1397.3,314.4 L1395.9,312.9 L1394.5,311.4 L1393.0,309.9 L1391.4,308.6 L1389.9,307.2 L1388.2,306.0 L1386.2,305.0 L1385.1,303.2 L1383.5,301.8 L1381.6,300.9 L1379.8,299.9 L1378.1,298.7 L1376.5,297.5 L1374.8,296.3 L1373.3,294.9 L1371.5,293.8 L1369.7,292.8 L1368.1,291.5 L1366.1,290.8 L1364.4,289.6 L1362.8,288.3 L1360.7,287.9 L1359.0,286.8 L1357.5,285.4 L1355.5,284.7 L1353.8,283.7 L1352.3,282.1 L1350.8,280.6 L1348.9,279.8 L1346.9,279.2 L1344.9,278.7 L1343.1,277.7 L1341.4,276.6 L1339.6,275.6 L1337.9,274.5 L1335.9,273.8 L1334.1,272.9 L1332.2,272.0 L1330.4,271.0 L1328.4,270.5 L1326.7,269.5 L1324.7,268.8 L1322.9,267.9 L1321.2,266.7 L1319.4,265.8 L1317.2,265.6 L1315.3,265.0 L1313.6,263.8 L1311.8,262.9 L1309.8,262.3 L1307.9,261.6 L1306.0,260.9 L1303.9,260.6 L1302.1,259.7 L1300.2,259.0 L1298.5,257.8 L1296.5,257.3 L1294.4,257.1 L1292.5,256.4 L1290.3,256.3 L1288.4,255.6 L1286.6,254.6 L1284.8,253.5 L1282.8,252.9 L1280.9,252.1 L1278.9,251.8 L1276.8,251.6 L1274.9,250.8 L1272.9,250.5 L1270.9,250.1 L1268.9,249.8 L1266.9,249.3 L1264.8,249.3 L1262.8,249.1 L1260.9,248.1 L1259.1,247.1 L1257.1,246.6 L1254.9,247.1 L1253.0,246.7 L1251.1,245.7 L1249.1,245.5 L1247.1,245.3 L1245.1,244.6 L1243.2,244.0 L1241.2,243.7 L1239.2,243.6 L1237.1,243.8 L1235.1,243.7 L1233.1,243.1 L1231.2,242.5 L1229.2,242.3 L1227.2,242.1 L1225.3,241.5 L1223.3,241.2 L1221.3,241.4 L1219.3,241.1 L1217.4,240.0 L1215.5,239.6 L1213.4,239.9 L1211.4,239.7 L1209.4,239.4 L1207.5,238.7 L1205.5,238.4 L1203.6,237.8 L1201.6,237.7 L1199.6,237.1 L1197.7,236.5 L1195.7,236.5 L1193.6,236.9 L1191.6,236.2 L1189.7,236.0 L1187.6,235.9 L1185.7,235.2 L1183.8,234.8 L1181.8,234.5 L1179.8,234.2 L1177.9,233.4 L1175.9,233.3 L1174.0,232.8 L1172.0,232.4 L1170.0,232.5 L1168.0,232.0 L1166.0,232.0 L1164.0,231.7 L1162.1,231.4 L1160.2,230.4 L1158.3,230.1 L1156.1,230.8 L1154.2,230.3 L1152.3,229.5 L1150.4,229.1 L1148.5,228.5 L1146.5,228.4 L1144.6,228.0 L1142.6,227.8 L1140.7,227.3 L1138.7,227.0 L1136.7,226.7 L1134.9,225.7 L1132.8,226.0 L1130.8,225.9 L1128.9,224.9 L1127.0,224.0 L1125.0,223.9 L1123.0,223.5 L1121.1,222.9 L1119.2,222.1 L1117.2,221.7 L1115.0,222.2 L1112.9,222.3 L1111.0,221.6 L1109.0,221.3 L1107.0,221.0 L1105.0,220.6 L1103.0,220.2 L1101.1,219.4 L1099.1,218.8 L1097.1,218.5 L1095.0,219.0 L1093.0,218.7 L1091.0,218.5 L1089.1,217.9 L1087.0,218.1 L1085.0,218.1 L1083.0,217.9 L1081.0,217.5 L1079.1,217.0 L1077.0,216.9 L1075.1,216.5 L1073.0,216.5 L1071.0,216.2 L1069.1,215.8 L1067.1,215.5 L1065.0,215.5 L1063.1,215.1 L1061.1,214.1 L1059.1,214.4 L1057.0,214.4 L1055.1,214.0 L1053.0,214.7 L1051.0,214.4 L1049.0,213.7 L1047.0,213.4 L1045.0,213.3 L1043.0,212.8 L1041.0,212.8 L1039.0,213.3 L1037.0,213.0 L1035.0,212.9 L1033.0,212.8 L1031.0,212.7 L1029.0,212.6 L1027.0,212.4 L1025.0,212.0 L1023.0,211.7 L1021.0,211.9 L1019.0,211.8 L1016.9,211.9 L1014.9,211.9 L1012.9,211.5 L1011.0,211.1 L1009.0,210.9 L1006.9,211.3 L1004.9,212.1 L1002.9,211.7 L1000.9,211.3 L998.9,211.2 L996.9,210.8 L994.9,211.0 L992.9,210.9 L990.9,210.9 L988.9,210.2 L986.9,209.7 L984.9,210.0 L982.8,210.5 L980.9,209.9 L978.8,210.0 L976.8,209.8 L974.8,209.6 L972.8,209.5 L970.8,209.6 L968.8,209.8 L966.8,209.6 L964.8,209.1 L962.8,208.9 L960.8,209.2 L958.8,209.0 L956.8,208.6 L954.8,208.7 L952.8,208.5 L950.8,208.4 L948.8,208.7 L946.8,208.5 L944.8,208.5 L942.8,208.6 L940.8,208.7 L938.8,209.1 L936.8,209.0 L934.8,208.9 L932.8,208.7 L930.8,208.7 L928.8,208.5 L926.8,208.5 L924.8,208.5 L922.8,208.3 L920.8,208.0 L918.8,208.4 L916.8,208.2 L914.8,208.0 L912.8,208.0 L910.8,208.3 L908.8,207.5 L906.8,207.7 L904.8,208.2 L902.8,208.2 L900.8,207.6 L898.8,208.0 L896.8,207.8 L894.8,207.6 L892.8,207.7 L890.8,207.7 L888.8,207.8 L886.8,207.6 L884.8,207.4 L882.8,207.4 L880.8,207.4 L878.8,207.5 L876.8,207.4 L874.8,207.0 L872.8,207.1 L870.8,207.2 L868.8,207.0 L866.8,207.1 L864.8,206.9 L862.8,206.6 L860.8,206.5 L858.8,206.3 L856.8,206.6 L854.8,206.9 L852.8,207.1 L850.8,206.6 L848.8,206.3 L846.8,206.3 L844.8,206.3 L842.8,206.4 L840.8,206.2 L838.8,206.2 L836.7,206.5 L834.8,206.1 L832.7,206.3 L830.7,205.8 L828.7,205.6 L826.7,205.5 L824.7,205.6 L822.7,205.9 L820.7,206.0 L818.7,206.0 L816.7,206.3 L814.7,206.1 L812.7,206.0 L810.7,205.7 L808.7,206.2 L806.7,206.2 L804.7,205.4 L802.7,205.4 L800.7,205.4 L798.7,205.4 L796.6,205.3 L794.6,205.9 L792.6,205.8 L790.6,205.5 L788.6,205.6 L786.6,205.7 L784.6,206.0 L782.6,205.5 L780.6,205.6 L778.6,205.7 L776.6,205.9 L774.6,205.6 L772.6,205.3 L770.6,205.8 L768.6,206.0 L766.6,206.0 L764.6,205.9 L762.6,205.8 L760.6,205.8 L758.6,205.2 L756.6,205.4 L754.6,205.3 L752.6,205.4 L750.6,205.5 L748.6,205.3 L746.6,205.3 L744.6,205.3 L742.6,205.2 L740.6,205.7 L738.6,205.5 L736.6,205.3 L734.6,205.6 L732.6,206.3 L730.6,206.2 L728.6,205.9 L726.6,206.0 L724.6,205.9 L722.6,205.6 L720.6,205.0 L718.6,205.3 L716.6,205.7 L714.6,205.5 L712.6,205.9 L710.6,206.2 L708.6,205.9 L706.6,205.8 L704.6,206.0 L702.6,205.8 L700.6,205.6 L698.6,205.7 L696.6,205.3 L694.6,205.5 L692.6,205.7 L690.6,205.9 L688.6,205.6 L686.6,205.4 L684.6,205.8 L682.6,206.1 L680.6,205.7 L678.6,205.4 L676.6,205.1 L674.6,205.2 L672.6,205.4 L670.6,205.5 L668.6,205.7 L666.6,205.8 L664.6,205.9 L662.6,205.7 L660.6,205.3 L658.6,205.5 L656.6,205.6 L654.6,205.9 L652.5,206.0 L650.5,205.6 L648.3,206.0 L646.0,206.4 L643.4,206.7 L640.7,207.3 L638.0,208.1 L635.6,209.0 L634.0,210.2 L633.2,210.9 L632.9,211.6 L632.3,211.4 L631.2,210.3 L629.3,209.3 L626.8,208.3 L624.2,207.3 L621.6,206.5 L619.1,206.1 L616.8,205.9 L614.7,206.4 L612.6,206.7 L610.6,206.9 L608.6,206.8 L606.6,206.5 L604.6,206.2 L602.6,205.9 L600.6,206.1 L598.6,206.4 L596.6,206.4 L594.6,206.3 L592.6,205.6 L590.6,205.5 L588.6,205.6 L586.6,205.3 L584.6,205.9 L582.6,206.7 L580.6,206.4 L578.6,206.3 L576.6,206.8 L574.6,206.6 L572.6,206.3 L570.6,206.4 L568.6,206.6 L566.6,206.7 L564.6,206.2 L562.6,206.3 L560.6,206.3 L558.6,206.4 L556.6,206.5 L554.6,206.3 L552.6,206.9 L550.6,206.8 L548.6,206.6 L546.6,206.7 L544.6,206.7 L542.6,206.5 L540.6,206.2 L538.6,205.9 L536.6,205.9 L534.6,206.1 L532.6,206.8 L530.6,207.2 L528.6,206.3 L526.6,206.6 L524.6,206.6 L522.6,206.5 L520.6,206.3 L518.6,206.7 L516.6,207.1 L514.6,206.9 L512.6,206.8 L510.6,206.5 L508.6,206.6 L506.6,207.1 L504.6,207.0 L502.6,207.1 L500.6,206.8 L498.6,206.7 L496.6,206.8 L494.6,207.5 L492.6,207.6 L490.6,206.8 L488.6,206.4 L486.6,206.6 L484.6,206.6 L482.6,206.9 L480.6,206.6 L478.6,206.6 L476.6,206.9 L474.6,206.8 L472.6,206.9 L470.6,206.9 L468.6,206.8 L466.6,206.6 L464.6,206.7 L462.6,206.9 L460.6,207.0 L458.6,206.2 L456.6,206.1 L454.6,206.9 L452.6,207.1 L450.6,206.9 L448.6,207.0 L446.6,206.9 L444.6,206.2 L442.6,206.9 L440.6,207.4 L438.6,206.8 L436.6,206.4 L434.6,206.3 L432.6,206.4 L430.6,206.8 L428.6,206.4 L426.6,205.8 L424.6,205.8 L422.6,206.2 L420.6,206.6Z" fill="#0000ff"/>
</g>
<g stroke="#000" stroke-width="10.8" fill="none" stroke-linecap="butt">
<path d="M357.5,103.8 V1269.3000000000002 M2338.0,103.8 V1269.3000000000002 M325.3,1237.5 H2343.4 M352.1,109.2 H2343.4"/>
<path d="M325.3,725.0 H357.5"/>
<path d="M325.3,212.5 H357.5"/>
<path d="M852.6,1237.5 V1269.3"/>
<path d="M1347.8,1237.5 V1269.3"/>
<path d="M1842.9,1237.5 V1269.3"/>
</g>
<text class="tk" text-anchor="end" transform="translate(313.1,1264.9) scale(1,1.052)">0</text>
<text class="tk" text-anchor="end" transform="translate(313.1,752.4) scale(1,1.052)">50</text>
<clipPath id="nofoot"><path clip-rule="evenodd" d="M100,120H340V300H100Z M178.64,229.58H194.01V241.90H178.64Z M206.43,229.58H220.73V241.90H206.43Z"/></clipPath>
<g clip-path="url(#nofoot)"><text class="tk" text-anchor="end" dx="0 -2.4" transform="translate(312.6,239.9) scale(1,1.052)">100</text></g>
<text class="tk" text-anchor="middle" transform="translate(357.3,1358.7) scale(1,1.052)">0</text>
<text class="tk" text-anchor="middle" transform="translate(851.3,1358.7) scale(1,1.052)">200</text>
<text class="tk" text-anchor="middle" transform="translate(1348.0,1358.7) scale(1,1.052)">400</text>
<text class="tk" text-anchor="middle" transform="translate(1842.1,1358.7) scale(1,1.052)">600</text>
<text class="tk" text-anchor="middle" transform="translate(2337.7,1358.7) scale(1,1.052)">800</text>
<text class="ti" x="1013.09 1071.09 1113.30 1187.10 1234.62 1276.83 1308.55 1350.75 1377.25 1424.77 1456.49 1498.70 1522.64" y="1510.9">Temperature (<tspan x="1553.56" font-size="72.0px" dy="-41.2">o</tspan><tspan x="1592.32 1658.65" dy="41.2">C)</tspan></text>
<text class="ti" transform="translate(122.9,1061.0) rotate(-90)" x="-2.73 81.90 124.40 161.73 199.06 223.22 255.24 297.74 371.83 414.33 441.13 488.94 515.74 563.55 611.36 635.52 667.54 746.85" y="0">Mass remaining (%)</text>
<path d="M436.45,633.85 H556.9" stroke="#0000ff" stroke-width="11.7" fill="none"/>
<text class="lg" x="624.53" y="662.0" textLength="880.49" lengthAdjust="spacingAndGlyphs">PCPDTDTBTDI-EH,DMO</text>
<path d="M436.45,763.85 H556.9" stroke="#ff0000" stroke-width="11.6" fill="none"/>
<text class="lg" x="624.46" y="792.1" textLength="824.50" lengthAdjust="spacingAndGlyphs">PCPDTDTBTDI-8,DMO</text>
<path d="M434.0,893.5 H554.0" stroke="#005900" stroke-width="11.0" fill="none"/>
<text class="lg" x="621.62" y="921.1" textLength="689.52" lengthAdjust="spacingAndGlyphs">PCPDTDTBTDI-8,8</text>
<path d="M434.0,1023.5 H554.0" stroke="#720052" stroke-width="11.0" fill="none"/>
<text class="lg" x="621.70" y="1050.9" textLength="745.49" lengthAdjust="spacingAndGlyphs">PCPDTDTBTDI-EH,8</text>
</svg></body></html>
